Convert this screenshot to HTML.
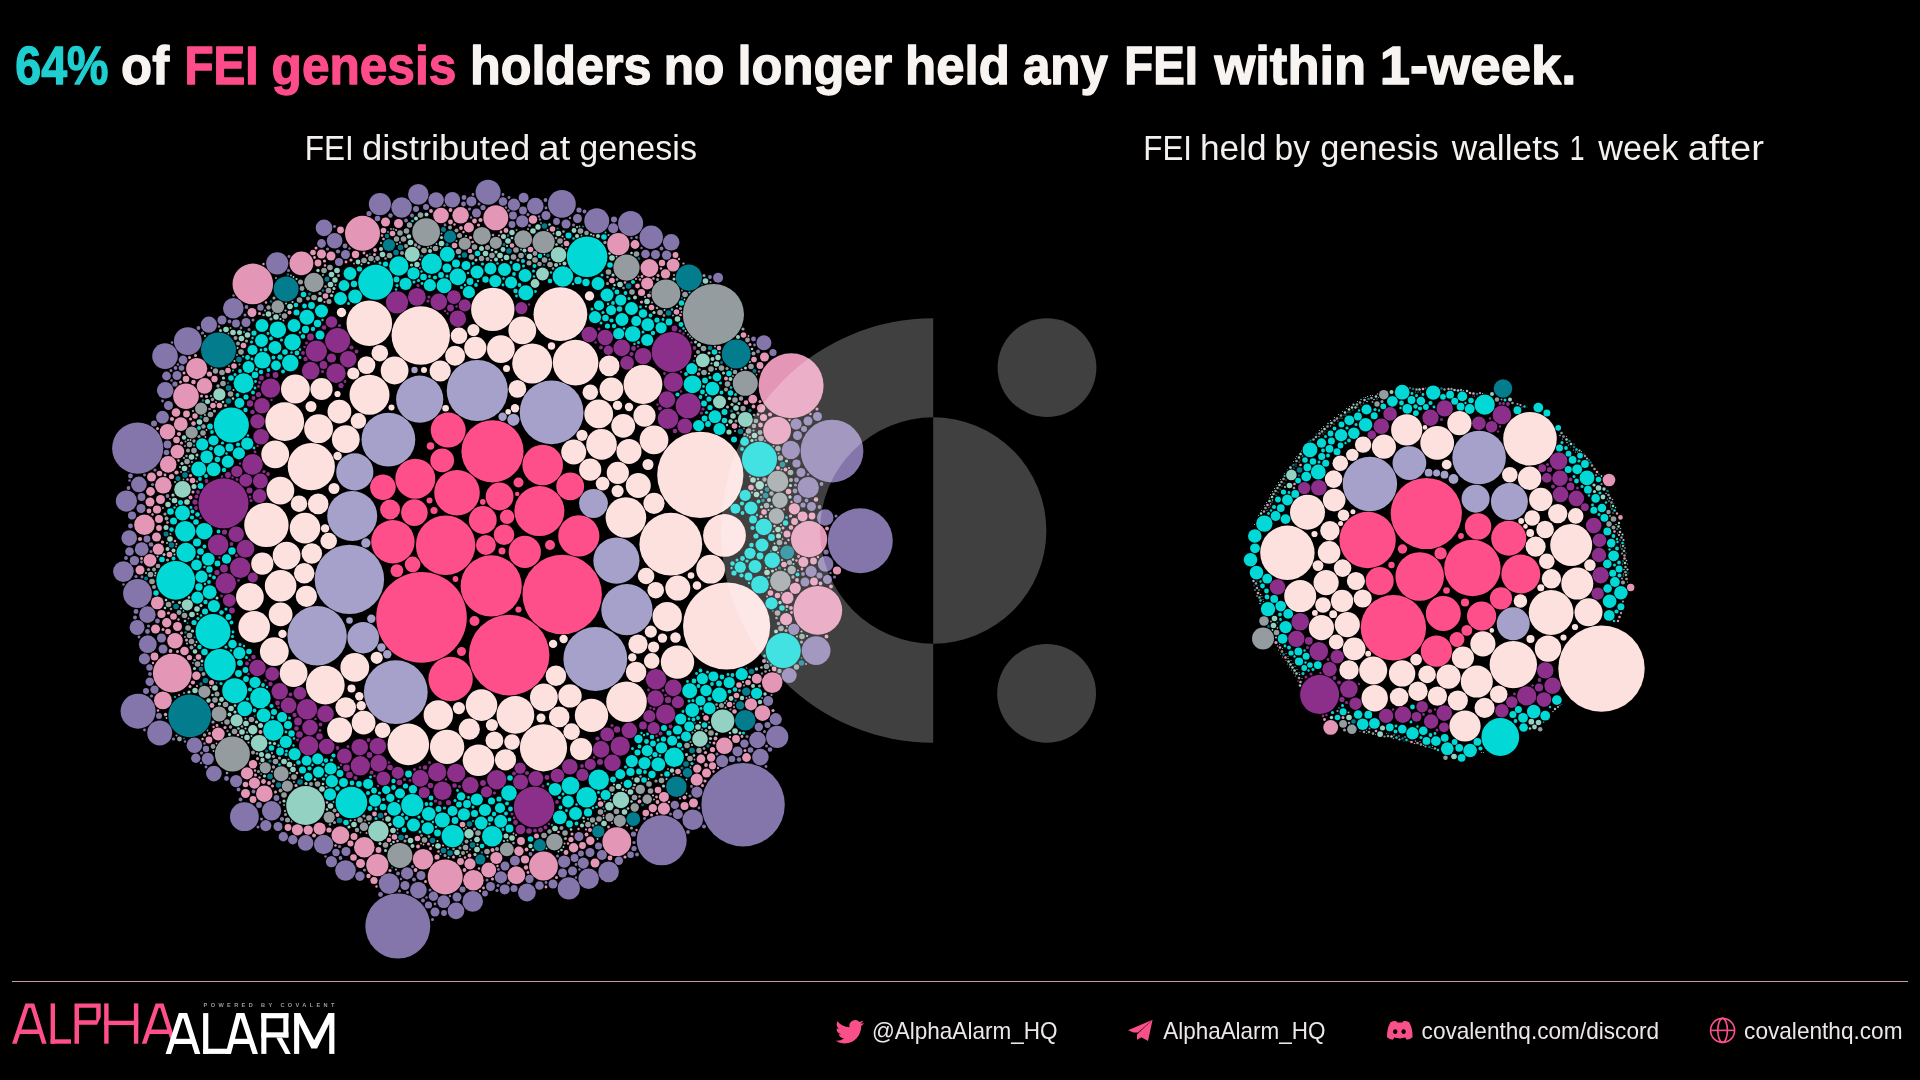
<!DOCTYPE html>
<html><head><meta charset="utf-8"><title>FEI genesis holders</title>
<style>
html,body{margin:0;padding:0;background:#000;width:1920px;height:1080px;overflow:hidden}
svg{display:block;filter:blur(0.45px)}
text{font-family:"Liberation Sans",sans-serif}
</style></head><body>
<svg width="1920" height="1080" viewBox="0 0 1920 1080">
<rect width="1920" height="1080" fill="#000"/>
<g id="title" font-weight="bold" font-size="53" stroke-width="1.3" stroke-linejoin="round">
<text x="15.3" y="83.5" fill="#1FCFD0" stroke="#1FCFD0" textLength="93.1" lengthAdjust="spacingAndGlyphs">64%</text>
<text x="121.1" y="83.5" fill="#F8F4F1" stroke="#F8F4F1" textLength="48.0" lengthAdjust="spacingAndGlyphs">of</text>
<text x="184.5" y="83.5" fill="#FE4C8A" stroke="#FE4C8A" textLength="74.1" lengthAdjust="spacingAndGlyphs">FEI</text>
<text x="271.6" y="83.5" fill="#FE4C8A" stroke="#FE4C8A" textLength="184.7" lengthAdjust="spacingAndGlyphs">genesis</text>
<text x="470.0" y="83.5" fill="#F8F4F1" stroke="#F8F4F1" textLength="181.5" lengthAdjust="spacingAndGlyphs">holders</text>
<text x="663.7" y="83.5" fill="#F8F4F1" stroke="#F8F4F1" textLength="60.7" lengthAdjust="spacingAndGlyphs">no</text>
<text x="737.5" y="83.5" fill="#F8F4F1" stroke="#F8F4F1" textLength="154.7" lengthAdjust="spacingAndGlyphs">longer</text>
<text x="905.1" y="83.5" fill="#F8F4F1" stroke="#F8F4F1" textLength="104.7" lengthAdjust="spacingAndGlyphs">held</text>
<text x="1022.9" y="83.5" fill="#F8F4F1" stroke="#F8F4F1" textLength="84.9" lengthAdjust="spacingAndGlyphs">any</text>
<text x="1124.2" y="83.5" fill="#F8F4F1" stroke="#F8F4F1" textLength="73.7" lengthAdjust="spacingAndGlyphs">FEI</text>
<text x="1214.4" y="83.5" fill="#F8F4F1" stroke="#F8F4F1" textLength="151.8" lengthAdjust="spacingAndGlyphs">within</text>
<text x="1379.7" y="83.5" fill="#F8F4F1" stroke="#F8F4F1" textLength="196.8" lengthAdjust="spacingAndGlyphs">1-week.</text>
</g>
<g id="subs" font-size="35" fill="#F4F0EE">
<text x="304.8" y="160" textLength="49.1" lengthAdjust="spacingAndGlyphs">FEI</text>
<text x="362.0" y="160" textLength="168.4" lengthAdjust="spacingAndGlyphs">distributed</text>
<text x="538.6" y="160" textLength="31.6" lengthAdjust="spacingAndGlyphs">at</text>
<text x="579.3" y="160" textLength="117.7" lengthAdjust="spacingAndGlyphs">genesis</text>
<text x="1143.3" y="160" textLength="48.7" lengthAdjust="spacingAndGlyphs">FEI</text>
<text x="1200.0" y="160" textLength="66.5" lengthAdjust="spacingAndGlyphs">held</text>
<text x="1274.5" y="160" textLength="35.5" lengthAdjust="spacingAndGlyphs">by</text>
<text x="1320.3" y="160" textLength="118.4" lengthAdjust="spacingAndGlyphs">genesis</text>
<text x="1451.7" y="160" textLength="107.9" lengthAdjust="spacingAndGlyphs">wallets</text>
<text x="1569.7" y="160" textLength="14.8" lengthAdjust="spacingAndGlyphs">1</text>
<text x="1598.3" y="160" textLength="80.0" lengthAdjust="spacingAndGlyphs">week</text>
<text x="1687.7" y="160" textLength="76.2" lengthAdjust="spacingAndGlyphs">after</text>
</g>
<g id="circles"><circle cx="421.5" cy="617.4" r="45.3" fill="#FF4F8A"/><circle cx="726.6" cy="626.0" r="43.6" fill="#FDE1DF"/><circle cx="1601.5" cy="668.6" r="43.2" fill="#FDE1DF"/><circle cx="700.3" cy="474.9" r="43.1" fill="#FDE1DF"/><circle cx="743.1" cy="804.7" r="41.7" fill="#8476AB"/><circle cx="509.1" cy="655.1" r="40.3" fill="#FF4F8A"/><circle cx="562.2" cy="594.5" r="39.7" fill="#FF4F8A"/><circle cx="1426.3" cy="513.5" r="35.6" fill="#FF4F8A"/><circle cx="349.4" cy="579.4" r="34.7" fill="#A5A1CA"/><circle cx="1393.4" cy="627.7" r="32.7" fill="#FF4F8A"/><circle cx="791.1" cy="385.7" r="32.5" fill="#E496B6"/><circle cx="397.8" cy="926.1" r="32.5" fill="#8476AB"/><circle cx="860.3" cy="540.8" r="32.5" fill="#8476AB"/><circle cx="551.6" cy="412.4" r="31.9" fill="#A5A1CA"/><circle cx="595.3" cy="659.0" r="31.9" fill="#A5A1CA"/><circle cx="395.8" cy="692.2" r="31.9" fill="#A5A1CA"/><circle cx="670.8" cy="544.2" r="31.4" fill="#FDE1DF"/><circle cx="832.0" cy="451.1" r="31.4" fill="#8476AB"/><circle cx="492.5" cy="451.3" r="31.1" fill="#FF4F8A"/><circle cx="713.4" cy="314.5" r="30.6" fill="#949C9F"/><circle cx="491.2" cy="585.9" r="30.6" fill="#FF4F8A"/><circle cx="477.3" cy="390.5" r="30.6" fill="#A5A1CA"/><circle cx="445.6" cy="545.2" r="29.7" fill="#FF4F8A"/><circle cx="317.1" cy="635.8" r="29.7" fill="#A5A1CA"/><circle cx="420.8" cy="335.5" r="29.2" fill="#FDE1DF"/><circle cx="1367.6" cy="540.0" r="28.2" fill="#FF4F8A"/><circle cx="1472.4" cy="568.0" r="28.2" fill="#FF4F8A"/><circle cx="1369.9" cy="484.0" r="27.2" fill="#A5A1CA"/><circle cx="1287.4" cy="552.8" r="27.2" fill="#FDE1DF"/><circle cx="560.4" cy="314.2" r="26.9" fill="#FDE1DF"/><circle cx="388.4" cy="439.6" r="26.9" fill="#A5A1CA"/><circle cx="1530.0" cy="438.8" r="26.8" fill="#FDE1DF"/><circle cx="1479.1" cy="457.5" r="26.8" fill="#A5A1CA"/><circle cx="137.7" cy="448.2" r="25.6" fill="#8476AB"/><circle cx="626.9" cy="609.7" r="25.6" fill="#A5A1CA"/><circle cx="539.4" cy="511.1" r="25.0" fill="#FF4F8A"/><circle cx="223.5" cy="503.3" r="25.0" fill="#8C2F8B"/><circle cx="661.7" cy="840.3" r="25.0" fill="#8476AB"/><circle cx="352.2" cy="516.0" r="25.0" fill="#A5A1CA"/><circle cx="817.8" cy="610.3" r="24.4" fill="#E496B6"/><circle cx="1419.7" cy="576.5" r="24.3" fill="#FF4F8A"/><circle cx="1513.3" cy="664.6" r="23.7" fill="#FDE1DF"/><circle cx="543.5" cy="747.8" r="23.6" fill="#FDE1DF"/><circle cx="419.7" cy="399.2" r="23.6" fill="#A5A1CA"/><circle cx="311.3" cy="466.6" r="23.6" fill="#FDE1DF"/><circle cx="616.4" cy="560.6" r="23.1" fill="#A5A1CA"/><circle cx="457.0" cy="492.7" r="22.8" fill="#FF4F8A"/><circle cx="575.6" cy="362.6" r="22.8" fill="#FDE1DF"/><circle cx="369.3" cy="323.3" r="22.8" fill="#FDE1DF"/><circle cx="1551.1" cy="612.5" r="22.4" fill="#FDE1DF"/><circle cx="266.4" cy="524.9" r="22.2" fill="#FDE1DF"/><circle cx="450.6" cy="678.9" r="22.2" fill="#FF4F8A"/><circle cx="492.8" cy="309.4" r="21.7" fill="#FDE1DF"/><circle cx="392.9" cy="541.7" r="21.7" fill="#FF4F8A"/><circle cx="724.5" cy="535.4" r="21.4" fill="#FDE1DF"/><circle cx="189.7" cy="715.8" r="21.4" fill="#037C8E"/><circle cx="1571.2" cy="545.0" r="21.0" fill="#FDE1DF"/><circle cx="408.3" cy="744.4" r="20.8" fill="#FDE1DF"/><circle cx="578.8" cy="535.9" r="20.6" fill="#FF4F8A"/><circle cx="534.1" cy="806.9" r="20.3" fill="#8C2F8B"/><circle cx="252.8" cy="283.9" r="20.3" fill="#E496B6"/><circle cx="542.7" cy="465.0" r="20.3" fill="#FF4F8A"/><circle cx="587.1" cy="256.8" r="20.3" fill="#02D9D7"/><circle cx="626.5" cy="701.7" r="20.3" fill="#FDE1DF"/><circle cx="625.9" cy="517.5" r="20.3" fill="#FDE1DF"/><circle cx="532.2" cy="363.4" r="20.0" fill="#FDE1DF"/><circle cx="415.3" cy="478.7" r="20.0" fill="#FF4F8A"/><circle cx="671.7" cy="351.9" r="20.0" fill="#8C2F8B"/><circle cx="369.5" cy="394.7" r="20.0" fill="#FDE1DF"/><circle cx="1319.6" cy="694.6" r="19.5" fill="#8C2F8B"/><circle cx="1520.8" cy="574.1" r="19.5" fill="#FF4F8A"/><circle cx="305.6" cy="805.5" r="19.4" fill="#93D1C2"/><circle cx="175.7" cy="580.3" r="19.4" fill="#02D9D7"/><circle cx="284.7" cy="421.7" r="19.4" fill="#FDE1DF"/><circle cx="172.3" cy="673.1" r="19.4" fill="#E496B6"/><circle cx="643.0" cy="384.5" r="19.4" fill="#FDE1DF"/><circle cx="325.3" cy="685.1" r="19.4" fill="#FDE1DF"/><circle cx="515.4" cy="714.9" r="18.9" fill="#FDE1DF"/><circle cx="1500.3" cy="737.0" r="18.9" fill="#02D9D7"/><circle cx="354.8" cy="471.9" r="18.6" fill="#A5A1CA"/><circle cx="1509.4" cy="501.6" r="18.5" fill="#A5A1CA"/><circle cx="809.1" cy="539.1" r="18.1" fill="#E496B6"/><circle cx="218.5" cy="350.0" r="17.5" fill="#037C8E"/><circle cx="445.2" cy="876.9" r="17.5" fill="#E496B6"/><circle cx="213.0" cy="631.6" r="17.5" fill="#02D9D7"/><circle cx="232.4" cy="754.0" r="17.5" fill="#949C9F"/><circle cx="783.3" cy="650.6" r="17.5" fill="#02D9D7"/><circle cx="1307.5" cy="512.2" r="17.5" fill="#FDE1DF"/><circle cx="231.4" cy="425.0" r="17.5" fill="#02D9D7"/><circle cx="1508.7" cy="538.2" r="17.5" fill="#FF4F8A"/><circle cx="448.2" cy="430.1" r="17.5" fill="#FF4F8A"/><circle cx="759.5" cy="459.3" r="17.5" fill="#02D9D7"/><circle cx="138.1" cy="711.2" r="17.5" fill="#8476AB"/><circle cx="362.5" cy="233.3" r="17.5" fill="#E496B6"/><circle cx="375.7" cy="282.3" r="17.5" fill="#02D9D7"/><circle cx="1443.3" cy="613.5" r="17.5" fill="#FF4F8A"/><circle cx="447.1" cy="746.9" r="17.2" fill="#FDE1DF"/><circle cx="1409.4" cy="463.1" r="16.9" fill="#A5A1CA"/><circle cx="1437.2" cy="442.9" r="16.9" fill="#FDE1DF"/><circle cx="677.5" cy="662.1" r="16.7" fill="#FDE1DF"/><circle cx="591.5" cy="715.4" r="16.7" fill="#FDE1DF"/><circle cx="1513.2" cy="623.8" r="16.5" fill="#A5A1CA"/><circle cx="524.8" cy="551.9" r="16.1" fill="#FF4F8A"/><circle cx="1476.8" cy="681.6" r="16.0" fill="#FDE1DF"/><circle cx="1300.2" cy="596.1" r="16.0" fill="#FDE1DF"/><circle cx="1577.3" cy="583.6" r="16.0" fill="#FDE1DF"/><circle cx="280.6" cy="585.8" r="15.8" fill="#FDE1DF"/><circle cx="254.2" cy="626.9" r="15.8" fill="#FDE1DF"/><circle cx="478.5" cy="760.3" r="15.8" fill="#FDE1DF"/><circle cx="220.0" cy="664.8" r="15.8" fill="#02D9D7"/><circle cx="351.4" cy="802.5" r="15.8" fill="#02D9D7"/><circle cx="363.2" cy="637.7" r="15.8" fill="#A5A1CA"/><circle cx="481.5" cy="705.1" r="15.8" fill="#FDE1DF"/><circle cx="1406.7" cy="429.9" r="15.6" fill="#FDE1DF"/><circle cx="1465.0" cy="726.0" r="15.6" fill="#FDE1DF"/><circle cx="1436.4" cy="651.1" r="15.6" fill="#FF4F8A"/><circle cx="305.0" cy="528.1" r="15.3" fill="#FDE1DF"/><circle cx="601.5" cy="444.4" r="15.3" fill="#FDE1DF"/><circle cx="667.2" cy="616.7" r="14.7" fill="#FDE1DF"/><circle cx="438.3" cy="715.0" r="14.7" fill="#FDE1DF"/><circle cx="1481.6" cy="616.0" r="14.6" fill="#FF4F8A"/><circle cx="244.4" cy="816.7" r="14.4" fill="#8476AB"/><circle cx="736.2" cy="354.0" r="14.4" fill="#037C8E"/><circle cx="710.6" cy="569.2" r="14.4" fill="#FDE1DF"/><circle cx="543.5" cy="866.0" r="14.4" fill="#E496B6"/><circle cx="295.4" cy="389.0" r="14.4" fill="#FDE1DF"/><circle cx="816.1" cy="650.6" r="14.4" fill="#8476AB"/><circle cx="274.3" cy="651.6" r="14.4" fill="#FDE1DF"/><circle cx="665.9" cy="293.8" r="14.4" fill="#949C9F"/><circle cx="598.7" cy="413.9" r="14.4" fill="#FDE1DF"/><circle cx="593.5" cy="503.5" r="14.4" fill="#A5A1CA"/><circle cx="354.8" cy="667.4" r="14.4" fill="#FDE1DF"/><circle cx="318.6" cy="428.7" r="14.4" fill="#FDE1DF"/><circle cx="137.5" cy="593.5" r="14.4" fill="#8476AB"/><circle cx="616.8" cy="841.7" r="14.4" fill="#E496B6"/><circle cx="654.0" cy="439.9" r="14.4" fill="#FDE1DF"/><circle cx="1373.2" cy="670.5" r="14.0" fill="#FDE1DF"/><circle cx="1588.5" cy="612.3" r="14.0" fill="#FDE1DF"/><circle cx="1475.6" cy="498.7" r="14.0" fill="#A5A1CA"/><circle cx="1379.7" cy="581.0" r="14.0" fill="#FF4F8A"/><circle cx="522.3" cy="330.4" r="13.9" fill="#FDE1DF"/><circle cx="249.9" cy="596.8" r="13.9" fill="#FDE1DF"/><circle cx="500.9" cy="349.1" r="13.9" fill="#FDE1DF"/><circle cx="482.8" cy="520.0" r="13.9" fill="#FF4F8A"/><circle cx="286.6" cy="555.7" r="13.9" fill="#FDE1DF"/><circle cx="499.6" cy="496.5" r="13.9" fill="#FF4F8A"/><circle cx="187.8" cy="341.1" r="13.9" fill="#8476AB"/><circle cx="280.4" cy="490.6" r="13.9" fill="#FDE1DF"/><circle cx="570.2" cy="486.4" r="13.9" fill="#FF4F8A"/><circle cx="426.1" cy="232.1" r="13.9" fill="#949C9F"/><circle cx="293.6" cy="673.2" r="13.9" fill="#FDE1DF"/><circle cx="394.6" cy="370.5" r="13.9" fill="#FDE1DF"/><circle cx="777.1" cy="430.6" r="13.9" fill="#E496B6"/><circle cx="275.2" cy="454.3" r="13.9" fill="#FDE1DF"/><circle cx="561.9" cy="203.9" r="13.9" fill="#8476AB"/><circle cx="345.8" cy="439.2" r="13.9" fill="#FDE1DF"/><circle cx="543.9" cy="697.4" r="13.9" fill="#FDE1DF"/><circle cx="414.4" cy="512.6" r="13.3" fill="#FF4F8A"/><circle cx="1548.0" cy="648.6" r="13.2" fill="#FDE1DF"/><circle cx="1374.7" cy="698.2" r="13.2" fill="#FDE1DF"/><circle cx="1402.1" cy="673.4" r="13.2" fill="#FDE1DF"/><circle cx="1478.1" cy="526.4" r="13.2" fill="#FF4F8A"/><circle cx="688.9" cy="277.6" r="13.1" fill="#037C8E"/><circle cx="626.5" cy="267.6" r="13.1" fill="#949C9F"/><circle cx="186.0" cy="396.3" r="12.8" fill="#E496B6"/><circle cx="165.0" cy="356.1" r="12.8" fill="#8476AB"/><circle cx="382.9" cy="487.2" r="12.8" fill="#FF4F8A"/><circle cx="1321.4" cy="627.7" r="12.6" fill="#FDE1DF"/><circle cx="1347.3" cy="624.6" r="12.6" fill="#FDE1DF"/><circle cx="1482.9" cy="643.8" r="12.6" fill="#FDE1DF"/><circle cx="1326.1" cy="582.6" r="12.6" fill="#FDE1DF"/><circle cx="286.1" cy="288.9" r="12.5" fill="#037C8E"/><circle cx="745.3" cy="383.3" r="12.5" fill="#949C9F"/><circle cx="677.8" cy="588.1" r="12.5" fill="#FDE1DF"/><circle cx="688.2" cy="405.8" r="12.5" fill="#8C2F8B"/><circle cx="337.6" cy="340.5" r="12.5" fill="#8C2F8B"/><circle cx="159.7" cy="732.9" r="12.5" fill="#8476AB"/><circle cx="339.6" cy="730.1" r="12.5" fill="#FDE1DF"/><circle cx="573.7" cy="452.0" r="12.5" fill="#FDE1DF"/><circle cx="596.7" cy="220.8" r="12.5" fill="#8476AB"/><circle cx="399.9" cy="855.5" r="12.5" fill="#949C9F"/><circle cx="495.8" cy="217.8" r="12.5" fill="#E496B6"/><circle cx="638.3" cy="485.5" r="12.5" fill="#FDE1DF"/><circle cx="630.6" cy="223.4" r="12.5" fill="#8476AB"/><circle cx="234.7" cy="690.7" r="12.5" fill="#02D9D7"/><circle cx="629.0" cy="451.4" r="12.5" fill="#FDE1DF"/><circle cx="488.1" cy="192.2" r="12.5" fill="#8476AB"/><circle cx="1383.9" cy="446.7" r="12.1" fill="#FDE1DF"/><circle cx="1459.4" cy="423.2" r="12.1" fill="#FDE1DF"/><circle cx="1448.5" cy="676.7" r="12.1" fill="#FDE1DF"/><circle cx="280.6" cy="614.4" r="11.9" fill="#FDE1DF"/><circle cx="301.4" cy="263.3" r="11.9" fill="#E496B6"/><circle cx="442.2" cy="460.3" r="11.9" fill="#FF4F8A"/><circle cx="339.4" cy="411.7" r="11.9" fill="#FDE1DF"/><circle cx="611.4" cy="389.3" r="11.9" fill="#FDE1DF"/><circle cx="363.6" cy="722.7" r="11.9" fill="#FDE1DF"/><circle cx="623.2" cy="425.8" r="11.9" fill="#FDE1DF"/><circle cx="1529.6" cy="478.3" r="11.7" fill="#FDE1DF"/><circle cx="1540.8" cy="499.4" r="11.7" fill="#FDE1DF"/><circle cx="651.2" cy="237.3" r="11.7" fill="#8476AB"/><circle cx="722.7" cy="721.1" r="11.7" fill="#93D1C2"/><circle cx="570.0" cy="695.9" r="11.7" fill="#FDE1DF"/><circle cx="1354.2" cy="648.9" r="11.3" fill="#FDE1DF"/><circle cx="1334.2" cy="500.1" r="11.3" fill="#FDE1DF"/><circle cx="1329.1" cy="552.4" r="11.3" fill="#FDE1DF"/><circle cx="262.3" cy="563.7" r="11.1" fill="#FDE1DF"/><circle cx="475.3" cy="347.8" r="11.1" fill="#FDE1DF"/><circle cx="452.7" cy="836.1" r="11.1" fill="#02D9D7"/><circle cx="277.2" cy="263.3" r="11.1" fill="#8476AB"/><circle cx="568.8" cy="888.4" r="11.1" fill="#8476AB"/><circle cx="321.5" cy="389.0" r="11.1" fill="#FDE1DF"/><circle cx="543.6" cy="242.1" r="11.1" fill="#949C9F"/><circle cx="581.1" cy="749.2" r="11.1" fill="#FDE1DF"/><circle cx="777.2" cy="736.9" r="11.1" fill="#8476AB"/><circle cx="412.3" cy="805.1" r="11.1" fill="#02D9D7"/><circle cx="590.2" cy="469.7" r="11.1" fill="#FDE1DF"/><circle cx="397.0" cy="302.3" r="11.1" fill="#8C2F8B"/><circle cx="644.5" cy="415.6" r="11.1" fill="#FDE1DF"/><circle cx="1342.1" cy="600.9" r="11.1" fill="#FDE1DF"/><circle cx="1501.0" cy="598.3" r="11.1" fill="#FF4F8A"/><circle cx="618.3" cy="244.2" r="11.1" fill="#E496B6"/><circle cx="379.9" cy="204.1" r="11.1" fill="#8476AB"/><circle cx="377.3" cy="865.1" r="11.1" fill="#E496B6"/><circle cx="1462.9" cy="657.6" r="11.1" fill="#FDE1DF"/><circle cx="617.8" cy="472.8" r="11.1" fill="#FDE1DF"/><circle cx="1263.0" cy="638.5" r="11.0" fill="#949C9F"/><circle cx="196.7" cy="368.6" r="10.6" fill="#E496B6"/><circle cx="306.4" cy="596.3" r="10.6" fill="#FDE1DF"/><circle cx="505.5" cy="759.8" r="10.6" fill="#FDE1DF"/><circle cx="440.2" cy="371.0" r="10.6" fill="#FDE1DF"/><circle cx="316.4" cy="351.2" r="10.6" fill="#8C2F8B"/><circle cx="808.3" cy="487.5" r="10.6" fill="#8476AB"/><circle cx="777.8" cy="481.4" r="10.6" fill="#949C9F"/><circle cx="469.3" cy="729.2" r="10.6" fill="#FDE1DF"/><circle cx="654.0" cy="503.3" r="10.6" fill="#FDE1DF"/><circle cx="126.4" cy="501.1" r="10.6" fill="#8476AB"/><circle cx="240.2" cy="567.8" r="10.3" fill="#8C2F8B"/><circle cx="504.0" cy="534.7" r="10.3" fill="#FF4F8A"/><circle cx="492.2" cy="836.3" r="10.3" fill="#02D9D7"/><circle cx="233.3" cy="308.3" r="10.3" fill="#8476AB"/><circle cx="225.8" cy="583.3" r="10.3" fill="#8C2F8B"/><circle cx="780.4" cy="581.0" r="10.3" fill="#949C9F"/><circle cx="218.1" cy="544.9" r="10.3" fill="#8C2F8B"/><circle cx="304.2" cy="573.3" r="10.3" fill="#FDE1DF"/><circle cx="692.7" cy="819.7" r="10.3" fill="#8476AB"/><circle cx="473.4" cy="880.2" r="10.3" fill="#E496B6"/><circle cx="311.8" cy="553.5" r="10.3" fill="#FDE1DF"/><circle cx="562.9" cy="276.5" r="10.3" fill="#02D9D7"/><circle cx="185.2" cy="531.2" r="10.3" fill="#02D9D7"/><circle cx="431.6" cy="263.8" r="10.3" fill="#02D9D7"/><circle cx="318.2" cy="503.9" r="10.3" fill="#FDE1DF"/><circle cx="676.4" cy="786.7" r="10.3" fill="#037C8E"/><circle cx="423.0" cy="859.2" r="10.3" fill="#E496B6"/><circle cx="472.7" cy="901.4" r="10.3" fill="#8476AB"/><circle cx="586.6" cy="797.2" r="10.3" fill="#02D9D7"/><circle cx="588.6" cy="878.7" r="10.3" fill="#8476AB"/><circle cx="273.3" cy="730.4" r="10.3" fill="#02D9D7"/><circle cx="345.5" cy="870.5" r="10.3" fill="#8476AB"/><circle cx="598.7" cy="779.7" r="10.3" fill="#02D9D7"/><circle cx="668.0" cy="418.8" r="10.3" fill="#8C2F8B"/><circle cx="745.2" cy="720.3" r="10.3" fill="#037C8E"/><circle cx="559.2" cy="716.9" r="10.3" fill="#FDE1DF"/><circle cx="144.4" cy="524.7" r="10.3" fill="#E496B6"/><circle cx="252.5" cy="464.4" r="10.3" fill="#8C2F8B"/><circle cx="608.6" cy="871.9" r="10.3" fill="#8476AB"/><circle cx="609.2" cy="365.9" r="10.3" fill="#FDE1DF"/><circle cx="307.0" cy="709.2" r="10.3" fill="#8C2F8B"/><circle cx="389.1" cy="883.6" r="10.3" fill="#8476AB"/><circle cx="636.1" cy="672.0" r="10.3" fill="#FDE1DF"/><circle cx="772.2" cy="682.6" r="10.3" fill="#E496B6"/><circle cx="345.7" cy="707.5" r="10.3" fill="#FDE1DF"/><circle cx="401.6" cy="207.5" r="10.3" fill="#8476AB"/><circle cx="364.3" cy="847.3" r="10.3" fill="#E496B6"/><circle cx="656.0" cy="679.3" r="10.3" fill="#8C2F8B"/><circle cx="378.4" cy="831.1" r="10.3" fill="#93D1C2"/><circle cx="260.4" cy="697.9" r="10.3" fill="#02D9D7"/><circle cx="418.3" cy="194.4" r="10.3" fill="#8476AB"/><circle cx="123.4" cy="571.6" r="10.3" fill="#8476AB"/><circle cx="555.9" cy="675.8" r="10.3" fill="#FDE1DF"/><circle cx="1484.6" cy="707.8" r="10.1" fill="#FDE1DF"/><circle cx="1484.7" cy="404.7" r="10.1" fill="#02D9D7"/><circle cx="1535.6" cy="546.6" r="10.1" fill="#FDE1DF"/><circle cx="1457.8" cy="700.5" r="10.1" fill="#FDE1DF"/><circle cx="485.9" cy="545.0" r="10.0" fill="#FF4F8A"/><circle cx="455.1" cy="355.7" r="10.0" fill="#FDE1DF"/><circle cx="243.6" cy="383.3" r="10.0" fill="#02D9D7"/><circle cx="390.1" cy="509.5" r="10.0" fill="#FF4F8A"/><circle cx="271.6" cy="810.8" r="9.7" fill="#8476AB"/><circle cx="496.7" cy="779.7" r="9.7" fill="#8C2F8B"/><circle cx="1349.0" cy="669.9" r="9.7" fill="#FDE1DF"/><circle cx="186.1" cy="552.5" r="9.7" fill="#02D9D7"/><circle cx="313.9" cy="282.5" r="9.7" fill="#949C9F"/><circle cx="270.6" cy="388.1" r="9.7" fill="#8C2F8B"/><circle cx="323.6" cy="844.5" r="9.7" fill="#8476AB"/><circle cx="308.6" cy="745.7" r="9.7" fill="#8C2F8B"/><circle cx="1526.7" cy="695.9" r="9.7" fill="#8C2F8B"/><circle cx="674.2" cy="757.3" r="9.7" fill="#02D9D7"/><circle cx="673.3" cy="382.1" r="9.7" fill="#8C2F8B"/><circle cx="1557.7" cy="513.6" r="9.7" fill="#FDE1DF"/><circle cx="336.0" cy="373.2" r="9.7" fill="#8C2F8B"/><circle cx="1329.9" cy="530.7" r="9.7" fill="#FDE1DF"/><circle cx="398.8" cy="266.0" r="9.7" fill="#02D9D7"/><circle cx="1418.0" cy="691.2" r="9.7" fill="#FDE1DF"/><circle cx="360.3" cy="765.8" r="9.7" fill="#8C2F8B"/><circle cx="638.0" cy="644.1" r="9.7" fill="#FDE1DF"/><circle cx="665.6" cy="714.2" r="9.7" fill="#8C2F8B"/><circle cx="620.2" cy="746.1" r="9.7" fill="#8C2F8B"/><circle cx="1437.4" cy="696.1" r="9.7" fill="#FDE1DF"/><circle cx="1551.4" cy="578.8" r="9.7" fill="#FDE1DF"/><circle cx="1503.0" cy="388.5" r="9.3" fill="#037C8E"/><circle cx="1318.8" cy="651.4" r="9.3" fill="#8C2F8B"/><circle cx="1399.1" cy="697.0" r="9.3" fill="#FDE1DF"/><circle cx="1501.9" cy="414.9" r="9.3" fill="#8C2F8B"/><circle cx="456.2" cy="772.9" r="9.2" fill="#8C2F8B"/><circle cx="442.5" cy="790.8" r="9.2" fill="#8C2F8B"/><circle cx="437.2" cy="772.0" r="9.2" fill="#8C2F8B"/><circle cx="790.8" cy="449.9" r="9.2" fill="#8476AB"/><circle cx="1362.7" cy="598.5" r="9.1" fill="#FDE1DF"/><circle cx="1355.9" cy="581.0" r="9.1" fill="#FDE1DF"/><circle cx="759.9" cy="584.6" r="8.9" fill="#02D9D7"/><circle cx="245.5" cy="548.7" r="8.9" fill="#8C2F8B"/><circle cx="516.3" cy="875.2" r="8.9" fill="#E496B6"/><circle cx="310.7" cy="370.7" r="8.9" fill="#8C2F8B"/><circle cx="692.5" cy="384.3" r="8.9" fill="#02D9D7"/><circle cx="517.4" cy="388.9" r="8.9" fill="#FDE1DF"/><circle cx="526.9" cy="892.5" r="8.9" fill="#8476AB"/><circle cx="570.5" cy="785.6" r="8.9" fill="#02D9D7"/><circle cx="494.4" cy="740.4" r="8.9" fill="#FDE1DF"/><circle cx="523.2" cy="239.2" r="8.9" fill="#949C9F"/><circle cx="416.9" cy="296.9" r="8.9" fill="#8C2F8B"/><circle cx="481.9" cy="235.8" r="8.9" fill="#949C9F"/><circle cx="340.4" cy="835.2" r="8.9" fill="#E496B6"/><circle cx="649.4" cy="268.0" r="8.9" fill="#E496B6"/><circle cx="147.8" cy="644.2" r="8.9" fill="#8476AB"/><circle cx="366.5" cy="365.1" r="8.9" fill="#FDE1DF"/><circle cx="162.9" cy="700.4" r="8.9" fill="#E496B6"/><circle cx="1333.6" cy="479.1" r="8.8" fill="#FDE1DF"/><circle cx="1558.6" cy="461.0" r="8.8" fill="#8C2F8B"/><circle cx="1348.9" cy="689.0" r="8.8" fill="#8C2F8B"/><circle cx="1300.2" cy="621.7" r="8.8" fill="#8C2F8B"/><circle cx="1498.7" cy="694.3" r="8.8" fill="#FDE1DF"/><circle cx="1545.1" cy="529.5" r="8.8" fill="#FDE1DF"/><circle cx="1427.1" cy="674.4" r="8.8" fill="#FDE1DF"/><circle cx="1342.6" cy="568.1" r="8.8" fill="#FDE1DF"/><circle cx="264.3" cy="793.7" r="8.3" fill="#E496B6"/><circle cx="277.8" cy="329.7" r="8.3" fill="#02D9D7"/><circle cx="470.3" cy="785.3" r="8.3" fill="#8C2F8B"/><circle cx="262.5" cy="360.3" r="8.3" fill="#02D9D7"/><circle cx="459.0" cy="335.8" r="8.3" fill="#FDE1DF"/><circle cx="457.8" cy="318.7" r="8.3" fill="#8C2F8B"/><circle cx="292.5" cy="342.2" r="8.3" fill="#02D9D7"/><circle cx="290.3" cy="363.1" r="8.3" fill="#02D9D7"/><circle cx="457.8" cy="276.9" r="8.3" fill="#02D9D7"/><circle cx="763.8" cy="527.0" r="8.3" fill="#02D9D7"/><circle cx="204.3" cy="531.2" r="8.3" fill="#02D9D7"/><circle cx="554.4" cy="842.1" r="8.3" fill="#949C9F"/><circle cx="438.8" cy="301.9" r="8.3" fill="#8C2F8B"/><circle cx="760.4" cy="757.1" r="8.3" fill="#8476AB"/><circle cx="299.0" cy="503.7" r="8.3" fill="#FDE1DF"/><circle cx="724.4" cy="745.8" r="8.3" fill="#E496B6"/><circle cx="825.2" cy="517.5" r="8.3" fill="#8476AB"/><circle cx="259.1" cy="743.2" r="8.3" fill="#93D1C2"/><circle cx="328.7" cy="541.0" r="8.3" fill="#FDE1DF"/><circle cx="420.3" cy="778.4" r="8.3" fill="#8C2F8B"/><circle cx="671.2" cy="242.3" r="8.3" fill="#8476AB"/><circle cx="757.5" cy="740.0" r="8.3" fill="#8476AB"/><circle cx="182.5" cy="489.4" r="8.3" fill="#93D1C2"/><circle cx="418.4" cy="890.2" r="8.3" fill="#8476AB"/><circle cx="666.9" cy="399.6" r="8.3" fill="#8C2F8B"/><circle cx="165.2" cy="390.3" r="8.3" fill="#8476AB"/><circle cx="163.3" cy="485.3" r="8.3" fill="#E496B6"/><circle cx="456.0" cy="910.9" r="8.3" fill="#8476AB"/><circle cx="571.6" cy="731.6" r="8.3" fill="#FDE1DF"/><circle cx="324.0" cy="227.9" r="8.3" fill="#8476AB"/><circle cx="655.7" cy="590.2" r="8.3" fill="#FDE1DF"/><circle cx="348.2" cy="359.2" r="8.3" fill="#8C2F8B"/><circle cx="257.5" cy="668.0" r="8.3" fill="#8C2F8B"/><circle cx="601.1" cy="749.4" r="8.3" fill="#8C2F8B"/><circle cx="147.4" cy="614.6" r="8.3" fill="#8476AB"/><circle cx="646.1" cy="576.0" r="8.3" fill="#FDE1DF"/><circle cx="460.6" cy="215.3" r="8.3" fill="#E496B6"/><circle cx="325.5" cy="713.9" r="8.3" fill="#8C2F8B"/><circle cx="643.1" cy="356.2" r="8.3" fill="#8C2F8B"/><circle cx="168.2" cy="464.4" r="8.3" fill="#E496B6"/><circle cx="359.7" cy="747.2" r="8.3" fill="#8C2F8B"/><circle cx="612.4" cy="762.9" r="8.3" fill="#8C2F8B"/><circle cx="535.3" cy="206.1" r="8.3" fill="#8476AB"/><circle cx="673.3" cy="687.9" r="8.3" fill="#8C2F8B"/><circle cx="379.8" cy="353.2" r="8.3" fill="#FDE1DF"/><circle cx="279.7" cy="691.3" r="8.3" fill="#8C2F8B"/><circle cx="620.9" cy="800.0" r="8.3" fill="#93D1C2"/><circle cx="378.7" cy="763.4" r="8.3" fill="#8C2F8B"/><circle cx="621.7" cy="347.9" r="8.3" fill="#8C2F8B"/><circle cx="377.8" cy="746.2" r="8.3" fill="#8C2F8B"/><circle cx="655.5" cy="698.5" r="8.3" fill="#8C2F8B"/><circle cx="1545.3" cy="670.4" r="8.2" fill="#8C2F8B"/><circle cx="1552.5" cy="685.8" r="8.2" fill="#8C2F8B"/><circle cx="1363.1" cy="444.6" r="8.2" fill="#FDE1DF"/><circle cx="1296.3" cy="638.9" r="8.2" fill="#8C2F8B"/><circle cx="1402.9" cy="714.7" r="8.2" fill="#8C2F8B"/><circle cx="1430.5" cy="417.7" r="8.2" fill="#8C2F8B"/><circle cx="1264.3" cy="523.6" r="8.2" fill="#02D9D7"/><circle cx="1444.7" cy="408.4" r="8.2" fill="#8C2F8B"/><circle cx="1600.6" cy="575.2" r="8.2" fill="#8C2F8B"/><circle cx="208.9" cy="324.7" r="8.1" fill="#8476AB"/><circle cx="772.2" cy="560.3" r="7.8" fill="#02D9D7"/><circle cx="509.0" cy="793.0" r="7.8" fill="#02D9D7"/><circle cx="236.2" cy="534.2" r="7.8" fill="#8C2F8B"/><circle cx="213.9" cy="773.6" r="7.8" fill="#8476AB"/><circle cx="1560.0" cy="478.2" r="7.8" fill="#8C2F8B"/><circle cx="776.4" cy="516.1" r="7.8" fill="#949C9F"/><circle cx="305.6" cy="842.9" r="7.8" fill="#8476AB"/><circle cx="1340.3" cy="463.2" r="7.8" fill="#FDE1DF"/><circle cx="1560.6" cy="494.4" r="7.8" fill="#8C2F8B"/><circle cx="204.5" cy="385.9" r="7.8" fill="#E496B6"/><circle cx="558.5" cy="254.7" r="7.8" fill="#93D1C2"/><circle cx="1576.3" cy="498.4" r="7.8" fill="#8C2F8B"/><circle cx="569.8" cy="766.7" r="7.8" fill="#8C2F8B"/><circle cx="1318.8" cy="487.8" r="7.8" fill="#8C2F8B"/><circle cx="779.9" cy="500.3" r="7.8" fill="#949C9F"/><circle cx="175.0" cy="640.8" r="7.8" fill="#E496B6"/><circle cx="194.4" cy="745.2" r="7.8" fill="#8476AB"/><circle cx="825.6" cy="563.9" r="7.8" fill="#8476AB"/><circle cx="326.7" cy="746.5" r="7.8" fill="#8C2F8B"/><circle cx="412.6" cy="564.4" r="7.8" fill="#FF4F8A"/><circle cx="512.0" cy="742.0" r="7.8" fill="#FDE1DF"/><circle cx="1509.8" cy="474.7" r="7.8" fill="#FDE1DF"/><circle cx="700.0" cy="738.9" r="7.8" fill="#93D1C2"/><circle cx="334.6" cy="240.8" r="7.8" fill="#8476AB"/><circle cx="262.0" cy="405.7" r="7.8" fill="#8C2F8B"/><circle cx="1575.7" cy="515.9" r="7.8" fill="#FDE1DF"/><circle cx="589.3" cy="334.5" r="7.8" fill="#8C2F8B"/><circle cx="1532.2" cy="518.0" r="7.8" fill="#FDE1DF"/><circle cx="590.3" cy="392.2" r="7.8" fill="#FDE1DF"/><circle cx="1381.3" cy="426.3" r="7.8" fill="#8C2F8B"/><circle cx="310.0" cy="727.6" r="7.8" fill="#8C2F8B"/><circle cx="1593.7" cy="525.6" r="7.8" fill="#8C2F8B"/><circle cx="651.7" cy="660.9" r="7.8" fill="#FDE1DF"/><circle cx="441.0" cy="215.5" r="7.8" fill="#E496B6"/><circle cx="605.2" cy="337.5" r="7.8" fill="#8C2F8B"/><circle cx="1323.0" cy="605.0" r="7.8" fill="#FDE1DF"/><circle cx="762.5" cy="713.1" r="7.8" fill="#E496B6"/><circle cx="138.9" cy="484.4" r="7.8" fill="#8476AB"/><circle cx="167.5" cy="431.7" r="7.8" fill="#E496B6"/><circle cx="288.6" cy="705.4" r="7.8" fill="#8C2F8B"/><circle cx="261.1" cy="436.7" r="7.8" fill="#8C2F8B"/><circle cx="382.6" cy="730.2" r="7.8" fill="#FDE1DF"/><circle cx="632.7" cy="334.0" r="7.8" fill="#02D9D7"/><circle cx="436.1" cy="200.0" r="7.8" fill="#8476AB"/><circle cx="452.3" cy="199.7" r="7.8" fill="#8476AB"/><circle cx="129.2" cy="538.1" r="7.8" fill="#8476AB"/><circle cx="629.3" cy="730.4" r="7.8" fill="#8C2F8B"/><circle cx="1277.5" cy="587.0" r="7.8" fill="#8C2F8B"/><circle cx="1546.8" cy="561.3" r="7.8" fill="#FDE1DF"/><circle cx="358.4" cy="420.9" r="7.8" fill="#FDE1DF"/><circle cx="1444.3" cy="713.1" r="7.8" fill="#8C2F8B"/><circle cx="763.9" cy="342.8" r="7.5" fill="#8476AB"/><circle cx="525.8" cy="292.8" r="7.5" fill="#02D9D7"/><circle cx="520.6" cy="781.9" r="7.5" fill="#8C2F8B"/><circle cx="535.8" cy="778.6" r="7.5" fill="#8C2F8B"/><circle cx="281.2" cy="773.8" r="7.5" fill="#949C9F"/><circle cx="488.7" cy="870.0" r="7.5" fill="#E496B6"/><circle cx="444.1" cy="285.8" r="7.5" fill="#02D9D7"/><circle cx="306.9" cy="317.2" r="7.5" fill="#02D9D7"/><circle cx="442.4" cy="819.9" r="7.5" fill="#02D9D7"/><circle cx="447.3" cy="254.3" r="7.5" fill="#02D9D7"/><circle cx="182.5" cy="513.0" r="7.5" fill="#02D9D7"/><circle cx="412.2" cy="254.3" r="7.5" fill="#93D1C2"/><circle cx="260.4" cy="481.0" r="7.5" fill="#8C2F8B"/><circle cx="344.4" cy="756.1" r="7.5" fill="#8C2F8B"/><circle cx="745.3" cy="419.4" r="7.5" fill="#93D1C2"/><circle cx="198.7" cy="469.0" r="7.5" fill="#02D9D7"/><circle cx="684.8" cy="426.1" r="7.5" fill="#8C2F8B"/><circle cx="789.2" cy="675.5" r="7.5" fill="#8476AB"/><circle cx="219.1" cy="713.9" r="7.5" fill="#949C9F"/><circle cx="244.7" cy="708.8" r="7.5" fill="#02D9D7"/><circle cx="137.1" cy="627.4" r="7.5" fill="#8476AB"/><circle cx="689.7" cy="690.8" r="7.5" fill="#02D9D7"/><circle cx="719.4" cy="695.0" r="7.5" fill="#02D9D7"/><circle cx="1330.7" cy="727.4" r="7.4" fill="#E496B6"/><circle cx="1336.2" cy="642.0" r="7.4" fill="#FDE1DF"/><circle cx="1318.3" cy="472.0" r="7.4" fill="#02D9D7"/><circle cx="1544.0" cy="699.6" r="7.4" fill="#8C2F8B"/><circle cx="1587.0" cy="477.8" r="7.4" fill="#02D9D7"/><circle cx="1310.0" cy="449.8" r="7.4" fill="#02D9D7"/><circle cx="1402.2" cy="392.2" r="7.4" fill="#02D9D7"/><circle cx="1457.0" cy="639.5" r="7.4" fill="#FF4F8A"/><circle cx="507.1" cy="516.8" r="7.2" fill="#FF4F8A"/><circle cx="1329.6" cy="669.2" r="7.2" fill="#8C2F8B"/><circle cx="1386.1" cy="715.9" r="7.2" fill="#8C2F8B"/><circle cx="257.5" cy="421.4" r="7.2" fill="#8C2F8B"/><circle cx="1268.0" cy="609.1" r="7.2" fill="#02D9D7"/><circle cx="1431.1" cy="721.5" r="7.2" fill="#8C2F8B"/><circle cx="1599.0" cy="555.0" r="7.2" fill="#8C2F8B"/><circle cx="1433.2" cy="392.6" r="7.2" fill="#02D9D7"/><circle cx="506.8" cy="849.4" r="6.9" fill="#949C9F"/><circle cx="787.2" cy="552.4" r="6.9" fill="#037C8E"/><circle cx="209.7" cy="592.2" r="6.9" fill="#02D9D7"/><circle cx="453.9" cy="297.1" r="6.9" fill="#8C2F8B"/><circle cx="702.8" cy="360.3" r="6.9" fill="#93D1C2"/><circle cx="557.4" cy="775.6" r="6.9" fill="#8C2F8B"/><circle cx="559.9" cy="817.3" r="6.9" fill="#02D9D7"/><circle cx="712.5" cy="388.6" r="6.9" fill="#02D9D7"/><circle cx="428.7" cy="813.8" r="6.9" fill="#02D9D7"/><circle cx="259.5" cy="496.0" r="6.9" fill="#8C2F8B"/><circle cx="658.3" cy="764.4" r="6.9" fill="#02D9D7"/><circle cx="213.7" cy="469.4" r="6.9" fill="#02D9D7"/><circle cx="272.2" cy="673.9" r="6.9" fill="#8C2F8B"/><circle cx="180.8" cy="424.1" r="6.9" fill="#E496B6"/><circle cx="263.6" cy="715.4" r="6.9" fill="#02D9D7"/><circle cx="394.1" cy="808.9" r="6.9" fill="#02D9D7"/><circle cx="607.2" cy="734.4" r="6.9" fill="#8C2F8B"/><circle cx="141.7" cy="549.2" r="6.9" fill="#8476AB"/><circle cx="602.6" cy="483.6" r="6.9" fill="#FDE1DF"/><circle cx="177.4" cy="451.6" r="6.9" fill="#E496B6"/><circle cx="383.4" cy="778.5" r="6.9" fill="#8C2F8B"/><circle cx="633.3" cy="819.1" r="6.9" fill="#037C8E"/><circle cx="627.1" cy="362.8" r="6.9" fill="#8C2F8B"/><circle cx="692.2" cy="710.1" r="6.9" fill="#02D9D7"/><circle cx="355.1" cy="296.5" r="6.9" fill="#02D9D7"/><circle cx="1337.2" cy="656.7" r="6.8" fill="#8C2F8B"/><circle cx="1501.9" cy="710.7" r="6.8" fill="#8C2F8B"/><circle cx="1533.7" cy="711.6" r="6.8" fill="#02D9D7"/><circle cx="1365.6" cy="424.8" r="6.8" fill="#02D9D7"/><circle cx="1390.1" cy="413.9" r="6.8" fill="#8C2F8B"/><circle cx="1520.4" cy="601.0" r="6.8" fill="#FDE1DF"/><circle cx="1609.6" cy="601.3" r="6.8" fill="#02D9D7"/><circle cx="1599.5" cy="540.2" r="6.8" fill="#8C2F8B"/><circle cx="1478.9" cy="423.3" r="6.8" fill="#8C2F8B"/><circle cx="1620.9" cy="592.7" r="6.8" fill="#02D9D7"/><circle cx="1470.1" cy="750.5" r="6.8" fill="#02D9D7"/><circle cx="1254.8" cy="536.0" r="6.8" fill="#02D9D7"/><circle cx="1250.5" cy="559.7" r="6.8" fill="#02D9D7"/><circle cx="1256.5" cy="572.6" r="6.8" fill="#02D9D7"/><circle cx="261.5" cy="340.5" r="6.5" fill="#02D9D7"/><circle cx="477.0" cy="272.0" r="6.5" fill="#02D9D7"/><circle cx="350.0" cy="273.5" r="6.5" fill="#02D9D7"/><circle cx="275.0" cy="347.5" r="6.5" fill="#02D9D7"/><circle cx="525.0" cy="275.5" r="6.5" fill="#02D9D7"/><circle cx="607.0" cy="295.0" r="6.5" fill="#02D9D7"/><circle cx="762.0" cy="545.0" r="6.5" fill="#02D9D7"/><circle cx="575.5" cy="813.5" r="6.5" fill="#02D9D7"/><circle cx="622.0" cy="319.5" r="6.5" fill="#02D9D7"/><circle cx="413.5" cy="825.0" r="6.5" fill="#02D9D7"/><circle cx="755.0" cy="566.5" r="6.5" fill="#02D9D7"/><circle cx="751.0" cy="508.0" r="6.5" fill="#02D9D7"/><circle cx="504.5" cy="269.5" r="6.5" fill="#02D9D7"/><circle cx="598.0" cy="283.5" r="6.5" fill="#02D9D7"/><circle cx="719.5" cy="402.0" r="6.5" fill="#93D1C2"/><circle cx="631.5" cy="308.5" r="6.5" fill="#02D9D7"/><circle cx="294.0" cy="325.5" r="6.5" fill="#02D9D7"/><circle cx="321.5" cy="311.0" r="6.5" fill="#02D9D7"/><circle cx="340.5" cy="298.5" r="6.5" fill="#02D9D7"/><circle cx="262.0" cy="325.5" r="6.5" fill="#02D9D7"/><circle cx="542.5" cy="274.0" r="6.4" fill="#93D1C2"/><circle cx="500.7" cy="821.2" r="6.4" fill="#02D9D7"/><circle cx="481.2" cy="823.0" r="6.4" fill="#02D9D7"/><circle cx="229.3" cy="600.3" r="6.4" fill="#8C2F8B"/><circle cx="277.8" cy="306.7" r="6.4" fill="#949C9F"/><circle cx="208.2" cy="559.1" r="6.4" fill="#02D9D7"/><circle cx="555.1" cy="789.3" r="6.4" fill="#02D9D7"/><circle cx="673.1" cy="265.1" r="6.4" fill="#E496B6"/><circle cx="443.7" cy="901.7" r="6.4" fill="#8476AB"/><circle cx="218.3" cy="734.0" r="6.4" fill="#E496B6"/><circle cx="245.8" cy="480.3" r="6.4" fill="#8C2F8B"/><circle cx="157.3" cy="602.9" r="6.4" fill="#E496B6"/><circle cx="396.9" cy="570.6" r="6.4" fill="#FF4F8A"/><circle cx="162.5" cy="417.2" r="6.4" fill="#8476AB"/><circle cx="714.9" cy="416.7" r="6.4" fill="#02D9D7"/><circle cx="150.0" cy="560.3" r="6.4" fill="#E496B6"/><circle cx="647.8" cy="324.7" r="6.4" fill="#02D9D7"/><circle cx="206.7" cy="456.9" r="6.4" fill="#02D9D7"/><circle cx="299.9" cy="693.2" r="6.4" fill="#8C2F8B"/><circle cx="1447.3" cy="748.7" r="6.4" fill="#02D9D7"/><circle cx="1609.0" cy="480.0" r="6.3" fill="#E496B6"/><circle cx="1352.3" cy="454.9" r="6.2" fill="#FDE1DF"/><circle cx="1304.2" cy="488.1" r="6.2" fill="#8C2F8B"/><circle cx="1355.5" cy="703.7" r="6.2" fill="#8C2F8B"/><circle cx="1341.1" cy="435.2" r="6.2" fill="#02D9D7"/><circle cx="1285.6" cy="627.1" r="6.2" fill="#02D9D7"/><circle cx="1412.5" cy="733.3" r="6.2" fill="#02D9D7"/><circle cx="1597.7" cy="593.6" r="6.2" fill="#8C2F8B"/><circle cx="1440.6" cy="553.4" r="6.2" fill="#FF4F8A"/><circle cx="485.0" cy="810.0" r="6.1" fill="#02D9D7"/><circle cx="521.4" cy="308.1" r="6.1" fill="#8C2F8B"/><circle cx="476.8" cy="799.5" r="6.1" fill="#02D9D7"/><circle cx="473.4" cy="330.1" r="6.1" fill="#FDE1DF"/><circle cx="495.3" cy="281.1" r="6.1" fill="#02D9D7"/><circle cx="468.9" cy="292.2" r="6.1" fill="#02D9D7"/><circle cx="771.5" cy="603.3" r="6.1" fill="#02D9D7"/><circle cx="464.7" cy="305.4" r="6.1" fill="#8C2F8B"/><circle cx="463.9" cy="814.4" r="6.1" fill="#02D9D7"/><circle cx="213.9" cy="606.1" r="6.1" fill="#02D9D7"/><circle cx="511.1" cy="282.5" r="6.1" fill="#02D9D7"/><circle cx="787.4" cy="597.9" r="6.1" fill="#E496B6"/><circle cx="496.3" cy="858.0" r="6.1" fill="#E496B6"/><circle cx="236.1" cy="781.1" r="6.1" fill="#8476AB"/><circle cx="539.7" cy="845.2" r="6.1" fill="#037C8E"/><circle cx="247.0" cy="773.3" r="6.1" fill="#E496B6"/><circle cx="786.1" cy="619.2" r="6.1" fill="#E496B6"/><circle cx="201.5" cy="576.7" r="6.1" fill="#02D9D7"/><circle cx="197.3" cy="597.7" r="6.1" fill="#02D9D7"/><circle cx="696.7" cy="779.7" r="6.1" fill="#E496B6"/><circle cx="500.9" cy="877.3" r="6.1" fill="#8476AB"/><circle cx="722.2" cy="761.1" r="6.1" fill="#8476AB"/><circle cx="207.8" cy="758.9" r="6.1" fill="#8476AB"/><circle cx="564.2" cy="861.6" r="6.1" fill="#8476AB"/><circle cx="294.6" cy="754.1" r="6.1" fill="#02D9D7"/><circle cx="429.9" cy="285.2" r="6.1" fill="#02D9D7"/><circle cx="319.6" cy="828.6" r="6.1" fill="#E496B6"/><circle cx="427.8" cy="828.3" r="6.1" fill="#02D9D7"/><circle cx="219.4" cy="394.4" r="6.1" fill="#93D1C2"/><circle cx="464.7" cy="243.6" r="6.1" fill="#949C9F"/><circle cx="495.8" cy="242.8" r="6.1" fill="#949C9F"/><circle cx="285.8" cy="741.9" r="6.1" fill="#02D9D7"/><circle cx="330.0" cy="794.4" r="6.1" fill="#02D9D7"/><circle cx="330.6" cy="768.5" r="6.1" fill="#02D9D7"/><circle cx="331.9" cy="781.2" r="6.1" fill="#02D9D7"/><circle cx="582.4" cy="774.9" r="6.1" fill="#8C2F8B"/><circle cx="239.3" cy="653.1" r="6.1" fill="#02D9D7"/><circle cx="450.0" cy="236.7" r="6.1" fill="#037C8E"/><circle cx="663.9" cy="808.7" r="6.1" fill="#E496B6"/><circle cx="413.5" cy="273.4" r="6.1" fill="#02D9D7"/><circle cx="201.1" cy="408.7" r="6.1" fill="#949C9F"/><circle cx="407.1" cy="873.3" r="6.1" fill="#8476AB"/><circle cx="405.6" cy="283.9" r="6.1" fill="#02D9D7"/><circle cx="595.0" cy="317.2" r="6.1" fill="#02D9D7"/><circle cx="491.9" cy="725.0" r="6.1" fill="#FDE1DF"/><circle cx="598.3" cy="831.5" r="6.1" fill="#037C8E"/><circle cx="522.2" cy="221.4" r="6.1" fill="#8476AB"/><circle cx="650.8" cy="631.7" r="6.1" fill="#FDE1DF"/><circle cx="513.4" cy="419.8" r="6.1" fill="#A5A1CA"/><circle cx="236.6" cy="720.4" r="6.1" fill="#93D1C2"/><circle cx="775.7" cy="719.2" r="6.1" fill="#8476AB"/><circle cx="398.7" cy="821.8" r="6.1" fill="#02D9D7"/><circle cx="653.7" cy="728.2" r="6.1" fill="#8C2F8B"/><circle cx="397.8" cy="772.8" r="6.1" fill="#8C2F8B"/><circle cx="647.2" cy="283.5" r="6.1" fill="#E496B6"/><circle cx="647.2" cy="340.0" r="6.1" fill="#02D9D7"/><circle cx="644.5" cy="763.1" r="6.1" fill="#02D9D7"/><circle cx="227.8" cy="461.7" r="6.1" fill="#02D9D7"/><circle cx="388.9" cy="245.0" r="6.1" fill="#037C8E"/><circle cx="458.9" cy="708.1" r="6.1" fill="#FDE1DF"/><circle cx="376.7" cy="657.8" r="6.1" fill="#FDE1DF"/><circle cx="513.9" cy="204.7" r="6.1" fill="#8476AB"/><circle cx="238.9" cy="453.3" r="6.1" fill="#02D9D7"/><circle cx="677.9" cy="702.2" r="6.1" fill="#8C2F8B"/><circle cx="751.0" cy="704.3" r="6.1" fill="#E496B6"/><circle cx="631.8" cy="761.1" r="6.1" fill="#02D9D7"/><circle cx="619.8" cy="820.8" r="6.1" fill="#949C9F"/><circle cx="204.4" cy="691.8" r="6.1" fill="#949C9F"/><circle cx="375.0" cy="800.6" r="6.1" fill="#02D9D7"/><circle cx="202.2" cy="444.4" r="6.1" fill="#02D9D7"/><circle cx="247.2" cy="443.6" r="6.1" fill="#02D9D7"/><circle cx="617.6" cy="491.1" r="6.1" fill="#FDE1DF"/><circle cx="191.7" cy="432.5" r="6.1" fill="#949C9F"/><circle cx="719.5" cy="429.0" r="6.1" fill="#02D9D7"/><circle cx="709.4" cy="708.3" r="6.1" fill="#02D9D7"/><circle cx="649.3" cy="716.2" r="6.1" fill="#8C2F8B"/><circle cx="353.3" cy="373.5" r="6.1" fill="#FDE1DF"/><circle cx="741.7" cy="674.2" r="6.1" fill="#02D9D7"/><circle cx="490.5" cy="268.5" r="6.0" fill="#02D9D7"/><circle cx="248.5" cy="367.0" r="5.9" fill="#02D9D7"/><circle cx="568.0" cy="801.5" r="5.9" fill="#02D9D7"/><circle cx="331.5" cy="322.0" r="5.8" fill="#8C2F8B"/><circle cx="1511.8" cy="702.1" r="5.8" fill="#8C2F8B"/><circle cx="1343.5" cy="515.2" r="5.8" fill="#FDE1DF"/><circle cx="1353.8" cy="433.2" r="5.8" fill="#02D9D7"/><circle cx="1491.6" cy="426.7" r="5.8" fill="#8C2F8B"/><circle cx="1362.7" cy="724.2" r="5.8" fill="#02D9D7"/><circle cx="1416.1" cy="659.6" r="5.8" fill="#FDE1DF"/><circle cx="1422.1" cy="706.7" r="5.8" fill="#8C2F8B"/><circle cx="1589.9" cy="565.1" r="5.8" fill="#FDE1DF"/><circle cx="706.0" cy="690.5" r="5.7" fill="#02D9D7"/><circle cx="740.3" cy="567.2" r="5.6" fill="#02D9D7"/><circle cx="265.8" cy="825.6" r="5.6" fill="#8476AB"/><circle cx="750.0" cy="553.3" r="5.6" fill="#02D9D7"/><circle cx="486.5" cy="791.9" r="5.6" fill="#8C2F8B"/><circle cx="287.3" cy="786.1" r="5.6" fill="#949C9F"/><circle cx="254.4" cy="783.1" r="5.6" fill="#E496B6"/><circle cx="795.2" cy="588.3" r="5.6" fill="#E496B6"/><circle cx="470.0" cy="863.9" r="5.6" fill="#E496B6"/><circle cx="297.4" cy="829.8" r="5.6" fill="#E496B6"/><circle cx="520.1" cy="768.2" r="5.6" fill="#8C2F8B"/><circle cx="265.3" cy="767.8" r="5.6" fill="#949C9F"/><circle cx="696.9" cy="792.1" r="5.6" fill="#8476AB"/><circle cx="793.8" cy="629.3" r="5.6" fill="#8476AB"/><circle cx="691.8" cy="368.7" r="5.6" fill="#02D9D7"/><circle cx="794.3" cy="508.8" r="5.6" fill="#E496B6"/><circle cx="811.1" cy="571.4" r="5.6" fill="#8476AB"/><circle cx="187.3" cy="604.8" r="5.6" fill="#93D1C2"/><circle cx="317.7" cy="758.9" r="5.6" fill="#02D9D7"/><circle cx="745.2" cy="495.4" r="5.6" fill="#02D9D7"/><circle cx="424.2" cy="792.5" r="5.6" fill="#8C2F8B"/><circle cx="329.2" cy="817.2" r="5.6" fill="#949C9F"/><circle cx="331.4" cy="861.7" r="5.6" fill="#8476AB"/><circle cx="583.3" cy="863.1" r="5.6" fill="#8476AB"/><circle cx="661.5" cy="747.8" r="5.6" fill="#02D9D7"/><circle cx="661.1" cy="327.8" r="5.6" fill="#02D9D7"/><circle cx="590.3" cy="764.4" r="5.6" fill="#8C2F8B"/><circle cx="158.3" cy="549.2" r="5.6" fill="#E496B6"/><circle cx="653.6" cy="647.0" r="5.6" fill="#FDE1DF"/><circle cx="236.8" cy="471.4" r="5.6" fill="#8C2F8B"/><circle cx="647.2" cy="750.6" r="5.6" fill="#02D9D7"/><circle cx="680.7" cy="719.0" r="5.6" fill="#02D9D7"/><circle cx="698.6" cy="425.6" r="5.6" fill="#02D9D7"/><circle cx="144.4" cy="658.9" r="5.6" fill="#8476AB"/><circle cx="702.4" cy="678.7" r="5.6" fill="#02D9D7"/><circle cx="582.0" cy="435.3" r="5.6" fill="#FDE1DF"/><circle cx="729.2" cy="682.5" r="5.6" fill="#02D9D7"/><circle cx="618.7" cy="333.7" r="5.6" fill="#02D9D7"/><circle cx="219.4" cy="450.6" r="5.6" fill="#02D9D7"/><circle cx="756.6" cy="693.3" r="5.6" fill="#02D9D7"/><circle cx="620.8" cy="300.0" r="5.6" fill="#02D9D7"/><circle cx="255.0" cy="682.3" r="5.6" fill="#02D9D7"/><circle cx="796.1" cy="424.1" r="5.6" fill="#8476AB"/><circle cx="648.0" cy="464.5" r="5.5" fill="#FDE1DF"/><circle cx="311.0" cy="406.5" r="5.5" fill="#FDE1DF"/><circle cx="334.0" cy="488.5" r="5.5" fill="#FDE1DF"/><circle cx="318.5" cy="772.0" r="5.5" fill="#02D9D7"/><circle cx="344.0" cy="285.5" r="5.4" fill="#02D9D7"/><circle cx="196.5" cy="565.0" r="5.4" fill="#02D9D7"/><circle cx="1609.2" cy="615.4" r="5.4" fill="#02D9D7"/><circle cx="1287.4" cy="500.0" r="5.4" fill="#02D9D7"/><circle cx="1374.4" cy="723.4" r="5.4" fill="#02D9D7"/><circle cx="1392.4" cy="401.3" r="5.4" fill="#02D9D7"/><circle cx="1466.8" cy="630.4" r="5.4" fill="#FF4F8A"/><circle cx="1613.6" cy="555.8" r="5.4" fill="#02D9D7"/><circle cx="1318.0" cy="565.6" r="5.4" fill="#FDE1DF"/><circle cx="675.5" cy="637.5" r="5.3" fill="#FDE1DF"/><circle cx="1291.4" cy="474.9" r="5.3" fill="#93D1C2"/><circle cx="1280.7" cy="606.1" r="5.3" fill="#02D9D7"/><circle cx="599.0" cy="305.5" r="5.1" fill="#02D9D7"/><circle cx="1366.5" cy="409.5" r="5.1" fill="#02D9D7"/><circle cx="213.5" cy="440.5" r="5.1" fill="#02D9D7"/><circle cx="500.0" cy="808.0" r="5.1" fill="#02D9D7"/><circle cx="252.5" cy="350.0" r="5.1" fill="#02D9D7"/><circle cx="550.0" cy="545.0" r="5.0" fill="#FF4F8A"/><circle cx="518.5" cy="482.5" r="5.0" fill="#FF4F8A"/><circle cx="474.5" cy="621.0" r="5.0" fill="#FF4F8A"/><circle cx="400.0" cy="793.5" r="5.0" fill="#02D9D7"/><circle cx="452.5" cy="811.0" r="5.0" fill="#02D9D7"/><circle cx="252.9" cy="577.5" r="5.0" fill="#8C2F8B"/><circle cx="480.3" cy="859.6" r="5.0" fill="#037C8E"/><circle cx="718.1" cy="277.8" r="5.0" fill="#8476AB"/><circle cx="514.9" cy="860.8" r="5.0" fill="#8476AB"/><circle cx="802.6" cy="516.4" r="5.0" fill="#E496B6"/><circle cx="803.4" cy="562.1" r="5.0" fill="#E496B6"/><circle cx="306.6" cy="760.8" r="5.0" fill="#02D9D7"/><circle cx="735.4" cy="508.7" r="5.0" fill="#02D9D7"/><circle cx="737.5" cy="751.4" r="5.0" fill="#8476AB"/><circle cx="504.7" cy="889.4" r="5.0" fill="#8476AB"/><circle cx="677.8" cy="814.3" r="5.0" fill="#8476AB"/><circle cx="672.2" cy="740.8" r="5.0" fill="#02D9D7"/><circle cx="686.0" cy="736.5" r="5.0" fill="#02D9D7"/><circle cx="663.9" cy="796.9" r="5.0" fill="#E496B6"/><circle cx="468.9" cy="227.5" r="5.0" fill="#E496B6"/><circle cx="689.2" cy="726.4" r="5.0" fill="#02D9D7"/><circle cx="601.9" cy="855.0" r="5.0" fill="#8476AB"/><circle cx="282.1" cy="717.1" r="5.0" fill="#02D9D7"/><circle cx="605.6" cy="795.0" r="5.0" fill="#02D9D7"/><circle cx="756.8" cy="678.7" r="5.0" fill="#E496B6"/><circle cx="636.2" cy="321.1" r="5.0" fill="#02D9D7"/><circle cx="700.5" cy="700.8" r="5.0" fill="#02D9D7"/><circle cx="368.1" cy="783.9" r="5.0" fill="#02D9D7"/><circle cx="471.4" cy="201.4" r="5.0" fill="#8476AB"/><circle cx="768.2" cy="701.0" r="5.0" fill="#8476AB"/><circle cx="620.3" cy="774.3" r="5.0" fill="#02D9D7"/><circle cx="523.6" cy="197.8" r="5.0" fill="#8476AB"/><circle cx="613.2" cy="228.3" r="5.0" fill="#8476AB"/><circle cx="611.1" cy="310.3" r="5.0" fill="#02D9D7"/><circle cx="713.4" cy="676.4" r="5.0" fill="#02D9D7"/><circle cx="276.0" cy="365.5" r="4.9" fill="#02D9D7"/><circle cx="239.5" cy="403.0" r="4.9" fill="#02D9D7"/><circle cx="1546.8" cy="477.9" r="4.9" fill="#8C2F8B"/><circle cx="1577.2" cy="469.3" r="4.9" fill="#02D9D7"/><circle cx="1556.9" cy="700.1" r="4.9" fill="#02D9D7"/><circle cx="1306.2" cy="476.6" r="4.9" fill="#02D9D7"/><circle cx="1545.2" cy="715.7" r="4.9" fill="#02D9D7"/><circle cx="1523.0" cy="717.8" r="4.9" fill="#02D9D7"/><circle cx="1349.3" cy="420.3" r="4.9" fill="#02D9D7"/><circle cx="1288.2" cy="613.9" r="4.9" fill="#02D9D7"/><circle cx="1285.5" cy="519.1" r="4.9" fill="#02D9D7"/><circle cx="1416.5" cy="716.8" r="4.9" fill="#8C2F8B"/><circle cx="1282.6" cy="638.8" r="4.9" fill="#02D9D7"/><circle cx="1407.3" cy="408.8" r="4.9" fill="#02D9D7"/><circle cx="1538.3" cy="407.6" r="4.9" fill="#02D9D7"/><circle cx="1275.6" cy="516.0" r="4.9" fill="#02D9D7"/><circle cx="1469.7" cy="409.0" r="4.9" fill="#02D9D7"/><circle cx="1435.9" cy="741.1" r="4.9" fill="#02D9D7"/><circle cx="1614.9" cy="582.0" r="4.9" fill="#02D9D7"/><circle cx="1462.3" cy="396.4" r="4.9" fill="#02D9D7"/><circle cx="1267.2" cy="578.7" r="4.9" fill="#02D9D7"/><circle cx="1443.9" cy="727.3" r="4.9" fill="#8C2F8B"/><circle cx="1255.0" cy="548.3" r="4.9" fill="#02D9D7"/><circle cx="1453.5" cy="479.0" r="4.9" fill="#A5A1CA"/><circle cx="1446.7" cy="464.6" r="4.9" fill="#FDE1DF"/><circle cx="520.5" cy="829.5" r="4.8" fill="#8C2F8B"/><circle cx="1383.8" cy="394.7" r="4.8" fill="#949C9F"/><circle cx="1264.0" cy="621.0" r="4.8" fill="#949C9F"/><circle cx="1351.9" cy="729.3" r="4.8" fill="#949C9F"/><circle cx="1402.5" cy="549.0" r="4.7" fill="#FF4F8A"/><circle cx="341.5" cy="312.5" r="4.7" fill="#FDE1DF"/><circle cx="589.5" cy="296.0" r="4.7" fill="#FDE1DF"/><circle cx="226.5" cy="559.0" r="4.7" fill="#02D9D7"/><circle cx="1321.5" cy="443.0" r="4.7" fill="#02D9D7"/><circle cx="469.0" cy="833.8" r="4.7" fill="#93D1C2"/><circle cx="283.3" cy="836.7" r="4.7" fill="#8476AB"/><circle cx="518.9" cy="851.2" r="4.7" fill="#E496B6"/><circle cx="292.8" cy="839.7" r="4.7" fill="#8476AB"/><circle cx="308.2" cy="830.1" r="4.7" fill="#E496B6"/><circle cx="195.8" cy="758.2" r="4.7" fill="#8476AB"/><circle cx="687.5" cy="772.8" r="4.7" fill="#037C8E"/><circle cx="573.6" cy="847.8" r="4.7" fill="#E496B6"/><circle cx="433.4" cy="896.3" r="4.7" fill="#8476AB"/><circle cx="166.7" cy="622.8" r="4.7" fill="#E496B6"/><circle cx="666.6" cy="255.1" r="4.7" fill="#8476AB"/><circle cx="665.5" cy="273.9" r="4.7" fill="#E496B6"/><circle cx="662.5" cy="638.1" r="4.7" fill="#FDE1DF"/><circle cx="252.8" cy="729.7" r="4.7" fill="#93D1C2"/><circle cx="647.2" cy="799.2" r="4.7" fill="#949C9F"/><circle cx="359.9" cy="876.3" r="4.7" fill="#8476AB"/><circle cx="640.3" cy="789.4" r="4.7" fill="#949C9F"/><circle cx="361.2" cy="705.7" r="4.7" fill="#FDE1DF"/><circle cx="134.4" cy="560.6" r="4.7" fill="#8476AB"/><circle cx="365.9" cy="543.0" r="4.7" fill="#A5A1CA"/><circle cx="617.5" cy="405.4" r="4.7" fill="#FDE1DF"/><circle cx="608.3" cy="350.3" r="4.7" fill="#8C2F8B"/><circle cx="331.5" cy="358.0" r="4.6" fill="#8C2F8B"/><circle cx="677.5" cy="730.0" r="4.6" fill="#02D9D7"/><circle cx="461.5" cy="651.5" r="4.5" fill="#FF4F8A"/><circle cx="541.0" cy="718.0" r="4.5" fill="#FDE1DF"/><circle cx="320.0" cy="335.0" r="4.5" fill="#02D9D7"/><circle cx="466.0" cy="265.5" r="4.5" fill="#02D9D7"/><circle cx="343.5" cy="782.5" r="4.5" fill="#02D9D7"/><circle cx="447.0" cy="268.0" r="4.5" fill="#02D9D7"/><circle cx="150.0" cy="502.0" r="4.5" fill="#E496B6"/><circle cx="321.5" cy="254.0" r="4.5" fill="#E496B6"/><circle cx="177.0" cy="375.5" r="4.5" fill="#8476AB"/><circle cx="345.5" cy="254.5" r="4.5" fill="#8476AB"/><circle cx="811.5" cy="506.5" r="4.5" fill="#8476AB"/><circle cx="245.5" cy="793.5" r="4.5" fill="#E496B6"/><circle cx="346.0" cy="851.5" r="4.5" fill="#8476AB"/><circle cx="246.0" cy="322.5" r="4.5" fill="#8476AB"/><circle cx="252.0" cy="312.5" r="4.5" fill="#E496B6"/><circle cx="385.5" cy="222.0" r="4.5" fill="#E496B6"/><circle cx="579.0" cy="836.5" r="4.5" fill="#8476AB"/><circle cx="827.5" cy="579.5" r="4.5" fill="#8476AB"/><circle cx="490.5" cy="886.5" r="4.5" fill="#8476AB"/><circle cx="155.5" cy="629.0" r="4.5" fill="#E496B6"/><circle cx="476.5" cy="213.0" r="4.5" fill="#8476AB"/><circle cx="331.0" cy="256.0" r="4.5" fill="#E496B6"/><circle cx="435.0" cy="912.0" r="4.5" fill="#8476AB"/><circle cx="590.0" cy="852.5" r="4.5" fill="#8476AB"/><circle cx="808.0" cy="421.0" r="4.5" fill="#8476AB"/><circle cx="577.5" cy="218.5" r="4.5" fill="#8476AB"/><circle cx="572.5" cy="871.0" r="4.5" fill="#8476AB"/><circle cx="156.5" cy="537.0" r="4.5" fill="#E496B6"/><circle cx="177.5" cy="626.5" r="4.5" fill="#E496B6"/><circle cx="805.0" cy="582.0" r="4.5" fill="#8476AB"/><circle cx="278.0" cy="826.5" r="4.5" fill="#8476AB"/><circle cx="168.5" cy="405.5" r="4.5" fill="#8476AB"/><circle cx="764.5" cy="357.0" r="4.5" fill="#E496B6"/><circle cx="163.0" cy="649.0" r="4.5" fill="#8476AB"/><circle cx="421.0" cy="875.5" r="4.5" fill="#8476AB"/><circle cx="151.5" cy="477.0" r="4.5" fill="#E496B6"/><circle cx="566.0" cy="224.0" r="4.5" fill="#8476AB"/><circle cx="797.5" cy="435.5" r="4.5" fill="#8476AB"/><circle cx="693.5" cy="803.0" r="4.5" fill="#E496B6"/><circle cx="360.5" cy="863.5" r="4.5" fill="#E496B6"/><circle cx="801.0" cy="472.5" r="4.5" fill="#8476AB"/><circle cx="398.5" cy="223.5" r="4.5" fill="#E496B6"/><circle cx="405.0" cy="885.5" r="4.5" fill="#8476AB"/><circle cx="140.0" cy="570.0" r="4.5" fill="#E496B6"/><circle cx="595.0" cy="863.0" r="4.5" fill="#E496B6"/><circle cx="505.0" cy="866.0" r="4.5" fill="#8476AB"/><circle cx="546.0" cy="215.5" r="4.5" fill="#8476AB"/><circle cx="222.0" cy="320.0" r="4.5" fill="#8476AB"/><circle cx="706.5" cy="773.0" r="4.5" fill="#E496B6"/><circle cx="562.5" cy="873.0" r="4.5" fill="#8476AB"/><circle cx="553.0" cy="884.0" r="4.5" fill="#8476AB"/><circle cx="655.5" cy="254.5" r="4.5" fill="#8476AB"/><circle cx="457.0" cy="897.0" r="4.5" fill="#8476AB"/><circle cx="160.5" cy="499.5" r="4.5" fill="#E496B6"/><circle cx="141.0" cy="508.5" r="4.5" fill="#8476AB"/><circle cx="161.5" cy="638.0" r="4.5" fill="#8476AB"/><circle cx="817.5" cy="416.5" r="4.5" fill="#8476AB"/><circle cx="535.0" cy="283.5" r="4.4" fill="#93D1C2"/><circle cx="744.5" cy="441.5" r="4.4" fill="#02D9D7"/><circle cx="635.0" cy="244.5" r="4.4" fill="#E496B6"/><circle cx="701.0" cy="759.0" r="4.4" fill="#E496B6"/><circle cx="746.5" cy="757.5" r="4.4" fill="#E496B6"/><circle cx="183.0" cy="360.0" r="4.4" fill="#8476AB"/><circle cx="166.5" cy="376.0" r="4.4" fill="#8476AB"/><circle cx="321.5" cy="243.5" r="4.4" fill="#8476AB"/><circle cx="150.5" cy="491.5" r="4.4" fill="#E496B6"/><circle cx="752.8" cy="399.2" r="4.4" fill="#E496B6"/><circle cx="697.0" cy="585.5" r="4.3" fill="#FDE1DF"/><circle cx="643.0" cy="313.5" r="4.3" fill="#02D9D7"/><circle cx="232.5" cy="644.0" r="4.3" fill="#02D9D7"/><circle cx="717.0" cy="377.0" r="4.3" fill="#02D9D7"/><circle cx="184.5" cy="651.0" r="4.3" fill="#E496B6"/><circle cx="533.0" cy="219.5" r="4.3" fill="#E496B6"/><circle cx="539.5" cy="885.5" r="4.3" fill="#8476AB"/><circle cx="503.0" cy="201.5" r="4.3" fill="#8476AB"/><circle cx="645.5" cy="254.0" r="4.3" fill="#8476AB"/><circle cx="129.5" cy="551.5" r="4.3" fill="#8476AB"/><circle cx="176.0" cy="412.5" r="4.3" fill="#E496B6"/><circle cx="1371.8" cy="434.7" r="4.3" fill="#8C2F8B"/><circle cx="1595.6" cy="498.4" r="4.3" fill="#02D9D7"/><circle cx="1601.9" cy="508.0" r="4.3" fill="#02D9D7"/><circle cx="1358.1" cy="714.5" r="4.3" fill="#02D9D7"/><circle cx="1523.6" cy="727.5" r="4.3" fill="#02D9D7"/><circle cx="1402.3" cy="729.1" r="4.3" fill="#02D9D7"/><circle cx="1611.2" cy="543.1" r="4.3" fill="#02D9D7"/><circle cx="1423.3" cy="730.7" r="4.3" fill="#02D9D7"/><circle cx="1420.9" cy="401.0" r="4.3" fill="#02D9D7"/><circle cx="1607.6" cy="588.5" r="4.3" fill="#02D9D7"/><circle cx="1607.3" cy="563.9" r="4.3" fill="#02D9D7"/><circle cx="629.0" cy="407.0" r="4.2" fill="#FDE1DF"/><circle cx="461.1" cy="796.4" r="4.2" fill="#02D9D7"/><circle cx="791.7" cy="570.0" r="4.2" fill="#949C9F"/><circle cx="529.5" cy="879.0" r="4.2" fill="#8476AB"/><circle cx="697.2" cy="768.6" r="4.2" fill="#E496B6"/><circle cx="253.0" cy="764.2" r="4.2" fill="#E496B6"/><circle cx="308.3" cy="776.9" r="4.2" fill="#02D9D7"/><circle cx="711.1" cy="757.5" r="4.2" fill="#E496B6"/><circle cx="282.5" cy="633.9" r="4.2" fill="#FDE1DF"/><circle cx="325.1" cy="528.4" r="4.2" fill="#FDE1DF"/><circle cx="674.8" cy="804.9" r="4.2" fill="#8476AB"/><circle cx="744.4" cy="743.6" r="4.2" fill="#8476AB"/><circle cx="759.7" cy="485.3" r="4.2" fill="#93D1C2"/><circle cx="412.9" cy="789.2" r="4.2" fill="#02D9D7"/><circle cx="761.1" cy="408.3" r="4.2" fill="#E496B6"/><circle cx="563.6" cy="639.0" r="4.2" fill="#FDE1DF"/><circle cx="590.3" cy="840.8" r="4.2" fill="#E496B6"/><circle cx="758.8" cy="727.0" r="4.2" fill="#8476AB"/><circle cx="553.1" cy="643.9" r="4.2" fill="#FDE1DF"/><circle cx="502.6" cy="416.8" r="4.2" fill="#A5A1CA"/><circle cx="652.8" cy="808.1" r="4.2" fill="#E496B6"/><circle cx="387.3" cy="654.3" r="4.2" fill="#A5A1CA"/><circle cx="381.4" cy="647.5" r="4.2" fill="#A5A1CA"/><circle cx="337.6" cy="456.0" r="4.2" fill="#FDE1DF"/><circle cx="386.2" cy="789.9" r="4.2" fill="#02D9D7"/><circle cx="740.2" cy="705.4" r="4.2" fill="#037C8E"/><circle cx="634.7" cy="807.5" r="4.2" fill="#949C9F"/><circle cx="632.3" cy="657.4" r="4.2" fill="#FDE1DF"/><circle cx="618.9" cy="860.8" r="4.2" fill="#8476AB"/><circle cx="371.3" cy="618.7" r="4.2" fill="#A5A1CA"/><circle cx="627.8" cy="783.9" r="4.2" fill="#02D9D7"/><circle cx="359.3" cy="696.2" r="4.2" fill="#FDE1DF"/><circle cx="746.2" cy="691.6" r="4.2" fill="#037C8E"/><circle cx="154.5" cy="689.6" r="4.2" fill="#8476AB"/><circle cx="363.9" cy="826.8" r="4.2" fill="#949C9F"/><circle cx="638.5" cy="739.0" r="4.2" fill="#02D9D7"/><circle cx="149.7" cy="681.7" r="4.2" fill="#8476AB"/><circle cx="390.3" cy="797.9" r="4.2" fill="#02D9D7"/><circle cx="609.4" cy="806.3" r="4.2" fill="#93D1C2"/><circle cx="609.6" cy="817.2" r="4.2" fill="#949C9F"/><circle cx="515.0" cy="408.3" r="4.2" fill="#FDE1DF"/><circle cx="196.4" cy="675.7" r="4.2" fill="#E496B6"/><circle cx="1465.0" cy="602.5" r="4.1" fill="#FF4F8A"/><circle cx="1539.0" cy="687.5" r="4.1" fill="#8C2F8B"/><circle cx="588.0" cy="812.5" r="4.1" fill="#02D9D7"/><circle cx="630.5" cy="772.0" r="4.1" fill="#02D9D7"/><circle cx="1299.0" cy="661.5" r="4.1" fill="#02D9D7"/><circle cx="161.5" cy="614.0" r="4.1" fill="#E496B6"/><circle cx="525.0" cy="859.5" r="4.1" fill="#E496B6"/><circle cx="837.0" cy="570.5" r="4.1" fill="#E496B6"/><circle cx="157.0" cy="509.5" r="4.1" fill="#E496B6"/><circle cx="796.5" cy="463.5" r="4.1" fill="#8476AB"/><circle cx="1530.5" cy="639.0" r="4.0" fill="#FDE1DF"/><circle cx="351.5" cy="688.5" r="4.0" fill="#FDE1DF"/><circle cx="456.0" cy="263.5" r="4.0" fill="#02D9D7"/><circle cx="197.0" cy="542.5" r="4.0" fill="#02D9D7"/><circle cx="288.0" cy="725.0" r="4.0" fill="#02D9D7"/><circle cx="516.5" cy="267.0" r="4.0" fill="#02D9D7"/><circle cx="229.5" cy="447.5" r="4.0" fill="#02D9D7"/><circle cx="797.5" cy="499.0" r="4.0" fill="#8476AB"/><circle cx="159.0" cy="519.0" r="4.0" fill="#E496B6"/><circle cx="132.0" cy="515.5" r="4.0" fill="#8476AB"/><circle cx="684.5" cy="806.0" r="4.0" fill="#E496B6"/><circle cx="339.0" cy="262.0" r="4.0" fill="#8476AB"/><circle cx="298.0" cy="721.5" r="3.9" fill="#8C2F8B"/><circle cx="643.0" cy="725.5" r="3.9" fill="#8C2F8B"/><circle cx="224.0" cy="568.5" r="3.9" fill="#8C2F8B"/><circle cx="323.5" cy="365.0" r="3.9" fill="#8C2F8B"/><circle cx="1570.5" cy="486.5" r="3.9" fill="#8C2F8B"/><circle cx="509.5" cy="828.5" r="3.9" fill="#02D9D7"/><circle cx="280.0" cy="751.5" r="3.9" fill="#02D9D7"/><circle cx="1411.5" cy="400.0" r="3.9" fill="#02D9D7"/><circle cx="753.0" cy="519.5" r="3.9" fill="#02D9D7"/><circle cx="748.5" cy="576.5" r="3.9" fill="#02D9D7"/><circle cx="467.0" cy="804.0" r="3.9" fill="#02D9D7"/><circle cx="521.0" cy="841.0" r="3.9" fill="#E496B6"/><circle cx="154.5" cy="656.5" r="3.9" fill="#E496B6"/><circle cx="167.5" cy="444.5" r="3.9" fill="#8476AB"/><circle cx="736.0" cy="739.0" r="3.9" fill="#E496B6"/><circle cx="814.0" cy="581.5" r="3.9" fill="#E496B6"/><circle cx="513.0" cy="215.5" r="3.9" fill="#8476AB"/><circle cx="523.0" cy="210.5" r="3.9" fill="#8476AB"/><circle cx="574.5" cy="858.0" r="3.9" fill="#8476AB"/><circle cx="236.0" cy="323.5" r="3.9" fill="#8476AB"/><circle cx="141.5" cy="497.0" r="3.9" fill="#8476AB"/><circle cx="1542.2" cy="468.1" r="3.9" fill="#8C2F8B"/><circle cx="1572.6" cy="459.8" r="3.9" fill="#02D9D7"/><circle cx="1329.5" cy="448.8" r="3.9" fill="#02D9D7"/><circle cx="1317.8" cy="665.1" r="3.9" fill="#02D9D7"/><circle cx="1585.0" cy="464.0" r="3.9" fill="#02D9D7"/><circle cx="1584.9" cy="507.1" r="3.9" fill="#8C2F8B"/><circle cx="1587.9" cy="489.7" r="3.9" fill="#02D9D7"/><circle cx="1307.4" cy="467.3" r="3.9" fill="#02D9D7"/><circle cx="1308.8" cy="640.8" r="3.9" fill="#8C2F8B"/><circle cx="1298.4" cy="651.4" r="3.9" fill="#02D9D7"/><circle cx="1295.2" cy="493.9" r="3.9" fill="#02D9D7"/><circle cx="1604.4" cy="517.8" r="3.9" fill="#02D9D7"/><circle cx="1368.3" cy="714.7" r="3.9" fill="#02D9D7"/><circle cx="1333.2" cy="614.2" r="3.9" fill="#FDE1DF"/><circle cx="1607.3" cy="531.4" r="3.9" fill="#02D9D7"/><circle cx="1357.9" cy="416.5" r="3.9" fill="#02D9D7"/><circle cx="1530.2" cy="533.0" r="3.9" fill="#FDE1DF"/><circle cx="1343.1" cy="723.8" r="3.9" fill="#949C9F"/><circle cx="1389.8" cy="727.3" r="3.9" fill="#02D9D7"/><circle cx="1517.4" cy="410.2" r="3.9" fill="#02D9D7"/><circle cx="1280.8" cy="508.1" r="3.9" fill="#02D9D7"/><circle cx="1274.2" cy="598.9" r="3.9" fill="#02D9D7"/><circle cx="1428.6" cy="472.7" r="3.9" fill="#A5A1CA"/><circle cx="1426.5" cy="740.9" r="3.9" fill="#02D9D7"/><circle cx="1477.4" cy="741.8" r="3.9" fill="#02D9D7"/><circle cx="1460.6" cy="406.7" r="3.9" fill="#02D9D7"/><circle cx="1459.2" cy="747.8" r="3.9" fill="#02D9D7"/><circle cx="1444.5" cy="474.7" r="3.9" fill="#A5A1CA"/><circle cx="1461.6" cy="757.8" r="3.9" fill="#02D9D7"/><circle cx="1450.1" cy="394.7" r="3.9" fill="#02D9D7"/><circle cx="1444.7" cy="737.8" r="3.9" fill="#02D9D7"/><circle cx="430.5" cy="446.0" r="3.8" fill="#FF4F8A"/><circle cx="551.5" cy="346.0" r="3.7" fill="#FDE1DF"/><circle cx="232.0" cy="551.0" r="3.7" fill="#02D9D7"/><circle cx="586.0" cy="282.5" r="3.7" fill="#02D9D7"/><circle cx="317.5" cy="323.5" r="3.7" fill="#02D9D7"/><circle cx="305.5" cy="329.5" r="3.7" fill="#02D9D7"/><circle cx="652.0" cy="774.5" r="3.7" fill="#02D9D7"/><circle cx="199.0" cy="587.0" r="3.7" fill="#02D9D7"/><circle cx="578.0" cy="280.5" r="3.7" fill="#02D9D7"/><circle cx="355.5" cy="254.5" r="3.7" fill="#E496B6"/><circle cx="336.0" cy="852.5" r="3.7" fill="#8476AB"/><circle cx="1630.7" cy="587.5" r="3.7" fill="#E496B6"/><circle cx="434.0" cy="510.5" r="3.6" fill="#FF4F8A"/><circle cx="773.0" cy="352.5" r="3.6" fill="#8476AB"/><circle cx="428.5" cy="905.0" r="3.6" fill="#8476AB"/><circle cx="374.0" cy="880.5" r="3.6" fill="#E496B6"/><circle cx="641.5" cy="292.5" r="3.6" fill="#E496B6"/><circle cx="763.5" cy="417.5" r="3.6" fill="#E496B6"/><circle cx="712.5" cy="765.8" r="3.6" fill="#E496B6"/><circle cx="502.0" cy="551.0" r="3.5" fill="#FF4F8A"/><circle cx="506.5" cy="368.5" r="3.5" fill="#FDE1DF"/><circle cx="491.5" cy="801.0" r="3.5" fill="#02D9D7"/><circle cx="474.5" cy="813.5" r="3.5" fill="#02D9D7"/><circle cx="173.5" cy="521.0" r="3.5" fill="#02D9D7"/><circle cx="302.5" cy="770.0" r="3.5" fill="#02D9D7"/><circle cx="354.0" cy="836.5" r="3.5" fill="#E496B6"/><circle cx="787.0" cy="534.0" r="3.5" fill="#E496B6"/><circle cx="598.5" cy="846.0" r="3.5" fill="#8476AB"/><circle cx="514.0" cy="888.5" r="3.5" fill="#8476AB"/><circle cx="1568.2" cy="469.6" r="3.5" fill="#02D9D7"/><circle cx="1325.7" cy="463.2" r="3.5" fill="#02D9D7"/><circle cx="1337.0" cy="451.8" r="3.5" fill="#02D9D7"/><circle cx="1321.7" cy="456.6" r="3.5" fill="#02D9D7"/><circle cx="1559.5" cy="448.1" r="3.5" fill="#02D9D7"/><circle cx="1331.4" cy="441.0" r="3.5" fill="#02D9D7"/><circle cx="1306.1" cy="656.3" r="3.5" fill="#02D9D7"/><circle cx="1593.8" cy="510.3" r="3.5" fill="#02D9D7"/><circle cx="1518.4" cy="709.5" r="3.5" fill="#02D9D7"/><circle cx="1343.1" cy="711.7" r="3.5" fill="#02D9D7"/><circle cx="1512.9" cy="714.6" r="3.5" fill="#02D9D7"/><circle cx="1374.2" cy="415.7" r="3.5" fill="#02D9D7"/><circle cx="1546.9" cy="413.0" r="3.5" fill="#02D9D7"/><circle cx="1620.9" cy="606.7" r="3.5" fill="#02D9D7"/><circle cx="1540.8" cy="587.8" r="3.5" fill="#FDE1DF"/><circle cx="1436.6" cy="473.1" r="3.5" fill="#A5A1CA"/><circle cx="1612.7" cy="573.2" r="3.5" fill="#02D9D7"/><circle cx="1619.1" cy="569.1" r="3.5" fill="#02D9D7"/><circle cx="1454.7" cy="401.3" r="3.5" fill="#02D9D7"/><circle cx="310.5" cy="337.0" r="3.4" fill="#8C2F8B"/><circle cx="450.5" cy="308.0" r="3.4" fill="#8C2F8B"/><circle cx="408.5" cy="774.0" r="3.4" fill="#02D9D7"/><circle cx="346.5" cy="768.0" r="3.4" fill="#8C2F8B"/><circle cx="470.0" cy="281.5" r="3.4" fill="#02D9D7"/><circle cx="669.0" cy="322.0" r="3.4" fill="#02D9D7"/><circle cx="569.5" cy="824.0" r="3.4" fill="#02D9D7"/><circle cx="238.5" cy="673.5" r="3.4" fill="#02D9D7"/><circle cx="771.5" cy="537.5" r="3.4" fill="#02D9D7"/><circle cx="455.0" cy="820.5" r="3.4" fill="#02D9D7"/><circle cx="760.0" cy="556.0" r="3.4" fill="#02D9D7"/><circle cx="340.0" cy="773.5" r="3.4" fill="#02D9D7"/><circle cx="437.5" cy="833.0" r="3.4" fill="#02D9D7"/><circle cx="311.5" cy="305.5" r="3.4" fill="#02D9D7"/><circle cx="186.5" cy="414.0" r="3.4" fill="#E496B6"/><circle cx="340.5" cy="230.0" r="3.4" fill="#E496B6"/><circle cx="318.0" cy="263.0" r="3.4" fill="#E496B6"/><circle cx="582.5" cy="845.5" r="3.4" fill="#E496B6"/><circle cx="253.0" cy="799.5" r="3.4" fill="#E496B6"/><circle cx="288.0" cy="827.5" r="3.4" fill="#E496B6"/><circle cx="813.5" cy="561.0" r="3.4" fill="#E496B6"/><circle cx="556.5" cy="221.5" r="3.4" fill="#8476AB"/><circle cx="512.0" cy="224.5" r="3.4" fill="#8476AB"/><circle cx="812.0" cy="516.0" r="3.4" fill="#E496B6"/><circle cx="760.0" cy="365.5" r="3.4" fill="#E496B6"/><circle cx="209.0" cy="740.0" r="3.4" fill="#E496B6"/><circle cx="147.0" cy="539.0" r="3.4" fill="#8476AB"/><circle cx="794.5" cy="521.5" r="3.4" fill="#E496B6"/><circle cx="460.5" cy="861.5" r="3.4" fill="#E496B6"/><circle cx="1446.5" cy="590.5" r="3.3" fill="#FF4F8A"/><circle cx="349.5" cy="620.5" r="3.3" fill="#A5A1CA"/><circle cx="691.0" cy="575.5" r="3.3" fill="#FDE1DF"/><circle cx="299.5" cy="734.5" r="3.3" fill="#8C2F8B"/><circle cx="319.5" cy="736.5" r="3.3" fill="#8C2F8B"/><circle cx="349.5" cy="775.0" r="3.3" fill="#8C2F8B"/><circle cx="605.5" cy="318.0" r="3.3" fill="#02D9D7"/><circle cx="423.5" cy="277.0" r="3.3" fill="#02D9D7"/><circle cx="170.5" cy="511.5" r="3.3" fill="#02D9D7"/><circle cx="383.0" cy="807.0" r="3.3" fill="#02D9D7"/><circle cx="204.5" cy="652.0" r="3.3" fill="#02D9D7"/><circle cx="255.0" cy="375.0" r="3.3" fill="#02D9D7"/><circle cx="200.5" cy="551.5" r="3.3" fill="#02D9D7"/><circle cx="1313.0" cy="461.5" r="3.3" fill="#02D9D7"/><circle cx="173.5" cy="616.5" r="3.3" fill="#E496B6"/><circle cx="658.0" cy="790.0" r="3.3" fill="#E496B6"/><circle cx="176.5" cy="440.0" r="3.3" fill="#E496B6"/><circle cx="353.5" cy="857.5" r="3.3" fill="#E496B6"/><circle cx="732.0" cy="759.0" r="3.3" fill="#8476AB"/><circle cx="186.0" cy="379.0" r="3.3" fill="#E496B6"/><circle cx="645.8" cy="813.1" r="3.3" fill="#E496B6"/><circle cx="630.6" cy="854.7" r="3.3" fill="#8476AB"/><circle cx="445.6" cy="408.3" r="3.3" fill="#FDE1DF"/><circle cx="1391.5" cy="565.0" r="3.2" fill="#FF4F8A"/><circle cx="414.5" cy="370.0" r="3.2" fill="#A5A1CA"/><circle cx="250.0" cy="403.5" r="3.2" fill="#8C2F8B"/><circle cx="617.0" cy="729.5" r="3.2" fill="#8C2F8B"/><circle cx="668.0" cy="700.0" r="3.2" fill="#8C2F8B"/><circle cx="354.0" cy="284.0" r="3.2" fill="#02D9D7"/><circle cx="485.5" cy="279.5" r="3.2" fill="#02D9D7"/><circle cx="291.5" cy="733.5" r="3.2" fill="#02D9D7"/><circle cx="209.5" cy="569.5" r="3.2" fill="#02D9D7"/><circle cx="260.5" cy="307.5" r="3.2" fill="#8476AB"/><circle cx="662.0" cy="263.0" r="3.2" fill="#E496B6"/><circle cx="149.5" cy="667.5" r="3.2" fill="#8476AB"/><circle cx="206.0" cy="749.0" r="3.2" fill="#8476AB"/><circle cx="214.5" cy="379.0" r="3.2" fill="#E496B6"/><circle cx="518.5" cy="609.5" r="3.1" fill="#FF4F8A"/><circle cx="337.5" cy="394.0" r="3.1" fill="#FDE1DF"/><circle cx="1575.0" cy="627.0" r="3.1" fill="#FDE1DF"/><circle cx="1314.5" cy="534.0" r="3.1" fill="#FDE1DF"/><circle cx="1563.5" cy="637.5" r="3.1" fill="#FDE1DF"/><circle cx="429.5" cy="500.5" r="3.0" fill="#FF4F8A"/><circle cx="424.0" cy="370.0" r="3.0" fill="#FDE1DF"/><circle cx="734.0" cy="439.5" r="3.0" fill="#02D9D7"/><circle cx="391.5" cy="407.5" r="3.0" fill="#FDE1DF"/><circle cx="600.0" cy="762.0" r="3.0" fill="#8C2F8B"/><circle cx="664.0" cy="728.0" r="3.0" fill="#02D9D7"/><circle cx="249.5" cy="490.5" r="3.0" fill="#8C2F8B"/><circle cx="568.5" cy="235.5" r="3.0" fill="#02D9D7"/><circle cx="205.0" cy="611.5" r="3.0" fill="#02D9D7"/><circle cx="274.0" cy="712.0" r="3.0" fill="#02D9D7"/><circle cx="724.5" cy="412.0" r="3.0" fill="#02D9D7"/><circle cx="637.5" cy="752.5" r="3.0" fill="#02D9D7"/><circle cx="296.5" cy="312.5" r="3.0" fill="#02D9D7"/><circle cx="614.0" cy="219.5" r="3.0" fill="#8476AB"/><circle cx="159.0" cy="716.0" r="3.0" fill="#8476AB"/><circle cx="350.5" cy="843.5" r="3.0" fill="#E496B6"/><circle cx="146.0" cy="691.0" r="3.0" fill="#8476AB"/><circle cx="426.0" cy="207.0" r="3.0" fill="#8476AB"/><circle cx="416.0" cy="209.0" r="3.0" fill="#8476AB"/><circle cx="804.0" cy="429.0" r="3.0" fill="#8476AB"/><circle cx="154.0" cy="423.5" r="3.0" fill="#8476AB"/><circle cx="767.5" cy="725.0" r="3.0" fill="#8476AB"/><circle cx="462.5" cy="889.5" r="3.0" fill="#8476AB"/><circle cx="819.5" cy="575.5" r="3.0" fill="#8476AB"/><circle cx="1461.0" cy="536.0" r="2.9" fill="#FF4F8A"/><circle cx="455.5" cy="579.0" r="2.9" fill="#FF4F8A"/><circle cx="483.0" cy="783.0" r="2.9" fill="#8C2F8B"/><circle cx="369.5" cy="755.0" r="2.9" fill="#8C2F8B"/><circle cx="275.5" cy="375.0" r="2.9" fill="#8C2F8B"/><circle cx="200.5" cy="486.0" r="2.9" fill="#02D9D7"/><circle cx="704.0" cy="403.5" r="2.9" fill="#02D9D7"/><circle cx="674.5" cy="328.5" r="2.9" fill="#8C2F8B"/><circle cx="245.5" cy="670.0" r="2.9" fill="#02D9D7"/><circle cx="232.0" cy="610.5" r="2.9" fill="#8C2F8B"/><circle cx="228.0" cy="475.0" r="2.9" fill="#8C2F8B"/><circle cx="705.0" cy="380.5" r="2.9" fill="#02D9D7"/><circle cx="1341.5" cy="424.5" r="2.9" fill="#02D9D7"/><circle cx="704.5" cy="418.5" r="2.9" fill="#02D9D7"/><circle cx="708.0" cy="424.0" r="2.9" fill="#02D9D7"/><circle cx="1278.0" cy="499.5" r="2.9" fill="#02D9D7"/><circle cx="441.0" cy="275.0" r="2.9" fill="#02D9D7"/><circle cx="1340.5" cy="445.5" r="2.9" fill="#02D9D7"/><circle cx="228.5" cy="617.0" r="2.9" fill="#02D9D7"/><circle cx="217.5" cy="563.5" r="2.9" fill="#02D9D7"/><circle cx="719.0" cy="683.5" r="2.9" fill="#02D9D7"/><circle cx="438.5" cy="809.0" r="2.9" fill="#02D9D7"/><circle cx="374.0" cy="790.5" r="2.9" fill="#02D9D7"/><circle cx="653.0" cy="743.5" r="2.9" fill="#02D9D7"/><circle cx="240.0" cy="663.0" r="2.9" fill="#02D9D7"/><circle cx="1330.5" cy="433.5" r="2.9" fill="#02D9D7"/><circle cx="210.0" cy="426.5" r="2.9" fill="#02D9D7"/><circle cx="359.0" cy="784.0" r="2.9" fill="#02D9D7"/><circle cx="459.0" cy="804.5" r="2.9" fill="#02D9D7"/><circle cx="246.0" cy="679.0" r="2.9" fill="#02D9D7"/><circle cx="639.0" cy="771.5" r="2.9" fill="#02D9D7"/><circle cx="613.0" cy="779.5" r="2.9" fill="#02D9D7"/><circle cx="396.5" cy="279.5" r="2.9" fill="#02D9D7"/><circle cx="159.0" cy="528.0" r="2.9" fill="#E496B6"/><circle cx="485.0" cy="893.5" r="2.9" fill="#8476AB"/><circle cx="276.5" cy="798.0" r="2.9" fill="#8476AB"/><circle cx="259.0" cy="805.0" r="2.9" fill="#8476AB"/><circle cx="581.0" cy="853.5" r="2.9" fill="#8476AB"/><circle cx="675.5" cy="255.0" r="2.9" fill="#E496B6"/><circle cx="378.5" cy="850.0" r="2.9" fill="#E496B6"/><circle cx="444.0" cy="913.0" r="2.9" fill="#8476AB"/><circle cx="1368.2" cy="653.7" r="2.9" fill="#FDE1DF"/><circle cx="1568.5" cy="453.7" r="2.9" fill="#02D9D7"/><circle cx="1580.1" cy="455.6" r="2.9" fill="#02D9D7"/><circle cx="1304.2" cy="668.0" r="2.9" fill="#02D9D7"/><circle cx="1298.1" cy="480.6" r="2.9" fill="#02D9D7"/><circle cx="1558.2" cy="427.8" r="2.9" fill="#02D9D7"/><circle cx="1521.2" cy="521.0" r="2.9" fill="#FDE1DF"/><circle cx="1314.9" cy="612.9" r="2.9" fill="#FDE1DF"/><circle cx="1531.3" cy="721.7" r="2.9" fill="#93D1C2"/><circle cx="1415.9" cy="413.1" r="2.9" fill="#02D9D7"/><circle cx="1383.3" cy="406.3" r="2.9" fill="#02D9D7"/><circle cx="1380.1" cy="734.1" r="2.9" fill="#93D1C2"/><circle cx="1425.9" cy="407.0" r="2.9" fill="#02D9D7"/><circle cx="1443.0" cy="396.8" r="2.9" fill="#02D9D7"/><circle cx="1454.6" cy="742.0" r="2.9" fill="#02D9D7"/><circle cx="390.0" cy="767.5" r="2.8" fill="#8C2F8B"/><circle cx="510.0" cy="778.0" r="2.8" fill="#02D9D7"/><circle cx="399.5" cy="782.5" r="2.8" fill="#8C2F8B"/><circle cx="430.5" cy="785.5" r="2.8" fill="#8C2F8B"/><circle cx="529.0" cy="831.0" r="2.8" fill="#8C2F8B"/><circle cx="1310.0" cy="665.0" r="2.8" fill="#02D9D7"/><circle cx="217.5" cy="459.5" r="2.8" fill="#02D9D7"/><circle cx="196.0" cy="522.0" r="2.8" fill="#02D9D7"/><circle cx="1305.0" cy="460.0" r="2.8" fill="#02D9D7"/><circle cx="724.5" cy="420.5" r="2.8" fill="#02D9D7"/><circle cx="619.5" cy="309.0" r="2.8" fill="#02D9D7"/><circle cx="490.5" cy="819.0" r="2.8" fill="#02D9D7"/><circle cx="249.0" cy="651.5" r="2.8" fill="#02D9D7"/><circle cx="231.0" cy="378.0" r="2.8" fill="#02D9D7"/><circle cx="1471.0" cy="400.5" r="2.8" fill="#02D9D7"/><circle cx="285.0" cy="352.0" r="2.8" fill="#02D9D7"/><circle cx="403.5" cy="239.0" r="2.8" fill="#949C9F"/><circle cx="509.0" cy="251.0" r="2.8" fill="#037C8E"/><circle cx="331.5" cy="274.5" r="2.8" fill="#93D1C2"/><circle cx="529.5" cy="256.5" r="2.8" fill="#93D1C2"/><circle cx="477.5" cy="253.5" r="2.8" fill="#02D9D7"/><circle cx="535.0" cy="260.0" r="2.8" fill="#949C9F"/><circle cx="485.5" cy="253.5" r="2.8" fill="#93D1C2"/><circle cx="241.5" cy="338.5" r="2.8" fill="#93D1C2"/><circle cx="325.5" cy="296.0" r="2.8" fill="#E496B6"/><circle cx="521.0" cy="255.5" r="2.8" fill="#949C9F"/><circle cx="735.0" cy="400.0" r="2.8" fill="#949C9F"/><circle cx="765.5" cy="495.5" r="2.8" fill="#037C8E"/><circle cx="215.0" cy="700.0" r="2.8" fill="#949C9F"/><circle cx="716.5" cy="364.0" r="2.8" fill="#93D1C2"/><circle cx="714.5" cy="352.0" r="2.8" fill="#02D9D7"/><circle cx="544.5" cy="260.0" r="2.8" fill="#949C9F"/><circle cx="492.0" cy="255.5" r="2.8" fill="#949C9F"/><circle cx="199.5" cy="422.0" r="2.8" fill="#93D1C2"/><circle cx="736.0" cy="408.0" r="2.8" fill="#93D1C2"/><circle cx="268.0" cy="756.0" r="2.8" fill="#93D1C2"/><circle cx="500.0" cy="255.5" r="2.8" fill="#93D1C2"/><circle cx="330.5" cy="284.5" r="2.8" fill="#93D1C2"/><circle cx="169.5" cy="554.5" r="2.8" fill="#E496B6"/><circle cx="328.5" cy="290.5" r="2.8" fill="#949C9F"/><circle cx="394.5" cy="837.0" r="2.8" fill="#E496B6"/><circle cx="588.0" cy="824.5" r="2.8" fill="#949C9F"/><circle cx="754.5" cy="435.5" r="2.8" fill="#93D1C2"/><circle cx="472.5" cy="845.0" r="2.8" fill="#037C8E"/><circle cx="1598.5" cy="488.0" r="2.8" fill="#93D1C2"/><circle cx="191.5" cy="457.0" r="2.8" fill="#93D1C2"/><circle cx="213.0" cy="405.5" r="2.8" fill="#E496B6"/><circle cx="676.5" cy="312.0" r="2.8" fill="#E496B6"/><circle cx="766.5" cy="505.5" r="2.8" fill="#949C9F"/><circle cx="704.5" cy="725.0" r="2.8" fill="#02D9D7"/><circle cx="242.0" cy="732.0" r="2.8" fill="#93D1C2"/><circle cx="171.5" cy="545.0" r="2.8" fill="#037C8E"/><circle cx="450.0" cy="853.0" r="2.8" fill="#037C8E"/><circle cx="197.5" cy="664.0" r="2.8" fill="#949C9F"/><circle cx="189.5" cy="635.5" r="2.8" fill="#949C9F"/><circle cx="189.5" cy="444.5" r="2.8" fill="#949C9F"/><circle cx="580.5" cy="231.0" r="2.8" fill="#949C9F"/><circle cx="508.0" cy="241.0" r="2.8" fill="#93D1C2"/><circle cx="187.0" cy="461.5" r="2.8" fill="#949C9F"/><circle cx="184.5" cy="468.5" r="2.8" fill="#93D1C2"/><circle cx="150.5" cy="574.5" r="2.8" fill="#949C9F"/><circle cx="275.5" cy="761.5" r="2.8" fill="#949C9F"/><circle cx="191.5" cy="641.5" r="2.8" fill="#949C9F"/><circle cx="443.5" cy="850.5" r="2.8" fill="#037C8E"/><circle cx="729.0" cy="373.5" r="2.8" fill="#02D9D7"/><circle cx="465.5" cy="847.5" r="2.8" fill="#949C9F"/><circle cx="599.0" cy="819.0" r="2.8" fill="#949C9F"/><circle cx="176.0" cy="606.5" r="2.8" fill="#037C8E"/><circle cx="766.5" cy="666.5" r="2.8" fill="#949C9F"/><circle cx="690.0" cy="758.5" r="2.8" fill="#949C9F"/><circle cx="647.0" cy="301.5" r="2.8" fill="#93D1C2"/><circle cx="457.0" cy="852.5" r="2.8" fill="#93D1C2"/><circle cx="371.0" cy="258.5" r="2.8" fill="#949C9F"/><circle cx="392.5" cy="233.5" r="2.8" fill="#E496B6"/><circle cx="558.5" cy="233.5" r="2.8" fill="#93D1C2"/><circle cx="729.5" cy="704.5" r="2.8" fill="#E496B6"/><circle cx="424.5" cy="840.0" r="2.8" fill="#949C9F"/><circle cx="185.0" cy="475.0" r="2.8" fill="#037C8E"/><circle cx="782.5" cy="464.5" r="2.8" fill="#037C8E"/><circle cx="692.0" cy="750.5" r="2.8" fill="#037C8E"/><circle cx="354.0" cy="824.5" r="2.8" fill="#93D1C2"/><circle cx="612.0" cy="280.5" r="2.8" fill="#E496B6"/><circle cx="303.5" cy="294.5" r="2.8" fill="#02D9D7"/><circle cx="736.5" cy="695.5" r="2.8" fill="#E496B6"/><circle cx="231.0" cy="708.5" r="2.8" fill="#93D1C2"/><circle cx="438.0" cy="846.0" r="2.8" fill="#93D1C2"/><circle cx="369.0" cy="818.0" r="2.8" fill="#949C9F"/><circle cx="477.0" cy="849.5" r="2.8" fill="#93D1C2"/><circle cx="364.0" cy="260.5" r="2.8" fill="#949C9F"/><circle cx="170.0" cy="539.0" r="2.8" fill="#93D1C2"/><circle cx="294.0" cy="777.0" r="2.8" fill="#949C9F"/><circle cx="410.5" cy="840.5" r="2.8" fill="#93D1C2"/><circle cx="778.0" cy="529.5" r="2.8" fill="#93D1C2"/><circle cx="740.5" cy="431.5" r="2.8" fill="#037C8E"/><circle cx="743.5" cy="335.0" r="2.8" fill="#E496B6"/><circle cx="382.5" cy="254.5" r="2.8" fill="#93D1C2"/><circle cx="1273.5" cy="625.5" r="2.8" fill="#93D1C2"/><circle cx="560.0" cy="241.0" r="2.8" fill="#949C9F"/><circle cx="184.5" cy="615.5" r="2.8" fill="#949C9F"/><circle cx="733.0" cy="416.0" r="2.8" fill="#93D1C2"/><circle cx="339.5" cy="820.5" r="2.8" fill="#037C8E"/><circle cx="628.5" cy="286.0" r="2.8" fill="#037C8E"/><circle cx="464.5" cy="255.0" r="2.8" fill="#037C8E"/><circle cx="721.5" cy="368.0" r="2.8" fill="#949C9F"/><circle cx="727.5" cy="384.0" r="2.8" fill="#949C9F"/><circle cx="677.5" cy="319.0" r="2.8" fill="#93D1C2"/><circle cx="222.0" cy="372.5" r="2.8" fill="#949C9F"/><circle cx="223.0" cy="383.5" r="2.8" fill="#949C9F"/><circle cx="284.0" cy="761.5" r="2.8" fill="#93D1C2"/><circle cx="268.5" cy="314.0" r="2.8" fill="#93D1C2"/><circle cx="661.5" cy="780.5" r="2.8" fill="#949C9F"/><circle cx="162.0" cy="559.5" r="2.8" fill="#02D9D7"/><circle cx="203.0" cy="433.0" r="2.8" fill="#949C9F"/><circle cx="330.5" cy="806.0" r="2.8" fill="#93D1C2"/><circle cx="600.5" cy="812.0" r="2.8" fill="#949C9F"/><circle cx="779.5" cy="542.5" r="2.8" fill="#949C9F"/><circle cx="618.5" cy="786.5" r="2.8" fill="#93D1C2"/><circle cx="401.0" cy="837.5" r="2.8" fill="#037C8E"/><circle cx="608.5" cy="272.0" r="2.8" fill="#949C9F"/><circle cx="512.0" cy="838.0" r="2.8" fill="#93D1C2"/><circle cx="289.5" cy="764.5" r="2.8" fill="#93D1C2"/><circle cx="233.0" cy="332.5" r="2.8" fill="#93D1C2"/><circle cx="802.0" cy="636.5" r="2.8" fill="#949C9F"/><circle cx="205.5" cy="680.5" r="2.8" fill="#037C8E"/><circle cx="290.0" cy="306.5" r="2.8" fill="#93D1C2"/><circle cx="565.0" cy="833.0" r="2.8" fill="#949C9F"/><circle cx="241.0" cy="352.0" r="2.8" fill="#949C9F"/><circle cx="730.5" cy="393.0" r="2.8" fill="#02D9D7"/><circle cx="734.5" cy="426.0" r="2.8" fill="#E496B6"/><circle cx="782.0" cy="608.0" r="2.8" fill="#02D9D7"/><circle cx="293.0" cy="769.5" r="2.8" fill="#93D1C2"/><circle cx="234.5" cy="731.5" r="2.8" fill="#949C9F"/><circle cx="487.0" cy="851.5" r="2.8" fill="#949C9F"/><circle cx="380.5" cy="815.5" r="2.8" fill="#037C8E"/><circle cx="637.0" cy="780.0" r="2.8" fill="#93D1C2"/><circle cx="764.0" cy="512.0" r="2.8" fill="#E496B6"/><circle cx="210.5" cy="414.5" r="2.8" fill="#949C9F"/><circle cx="667.0" cy="774.0" r="2.8" fill="#02D9D7"/><circle cx="620.0" cy="284.5" r="2.8" fill="#93D1C2"/><circle cx="317.5" cy="784.0" r="2.8" fill="#949C9F"/><circle cx="649.0" cy="784.0" r="2.8" fill="#949C9F"/><circle cx="215.0" cy="688.0" r="2.8" fill="#93D1C2"/><circle cx="435.5" cy="248.5" r="2.8" fill="#949C9F"/><circle cx="385.5" cy="845.0" r="2.8" fill="#949C9F"/><circle cx="251.5" cy="719.5" r="2.8" fill="#949C9F"/><circle cx="174.5" cy="500.5" r="2.8" fill="#93D1C2"/><circle cx="228.5" cy="388.0" r="2.8" fill="#037C8E"/><circle cx="604.0" cy="237.0" r="2.8" fill="#02D9D7"/><circle cx="550.0" cy="264.5" r="2.8" fill="#949C9F"/><circle cx="544.5" cy="226.0" r="2.8" fill="#037C8E"/><circle cx="192.5" cy="480.5" r="2.8" fill="#E496B6"/><circle cx="299.5" cy="300.0" r="2.8" fill="#949C9F"/><circle cx="634.5" cy="797.5" r="2.8" fill="#949C9F"/><circle cx="651.5" cy="307.5" r="2.8" fill="#E496B6"/><circle cx="284.5" cy="316.0" r="2.8" fill="#949C9F"/><circle cx="228.5" cy="401.0" r="2.8" fill="#037C8E"/><circle cx="271.5" cy="748.0" r="2.8" fill="#02D9D7"/><circle cx="234.0" cy="366.0" r="2.8" fill="#E496B6"/><circle cx="192.0" cy="614.5" r="2.8" fill="#93D1C2"/><circle cx="644.0" cy="780.0" r="2.8" fill="#02D9D7"/><circle cx="239.0" cy="359.5" r="2.8" fill="#037C8E"/><circle cx="1349.0" cy="717.5" r="2.8" fill="#93D1C2"/><circle cx="751.0" cy="366.5" r="2.8" fill="#949C9F"/><circle cx="228.0" cy="370.5" r="2.8" fill="#E496B6"/><circle cx="441.5" cy="243.5" r="2.8" fill="#93D1C2"/><circle cx="660.0" cy="312.5" r="2.8" fill="#949C9F"/><circle cx="469.5" cy="824.0" r="2.8" fill="#037C8E"/><circle cx="703.5" cy="348.5" r="2.8" fill="#949C9F"/><circle cx="739.0" cy="685.0" r="2.8" fill="#E496B6"/><circle cx="555.0" cy="828.5" r="2.8" fill="#93D1C2"/><circle cx="790.5" cy="472.5" r="2.8" fill="#949C9F"/><circle cx="314.0" cy="297.5" r="2.8" fill="#949C9F"/><circle cx="704.0" cy="372.5" r="2.8" fill="#949C9F"/><circle cx="668.5" cy="313.0" r="2.8" fill="#037C8E"/><circle cx="230.5" cy="394.0" r="2.8" fill="#949C9F"/><circle cx="219.5" cy="405.5" r="2.8" fill="#E496B6"/><circle cx="756.5" cy="494.5" r="2.8" fill="#93D1C2"/><circle cx="1289.5" cy="485.5" r="2.8" fill="#93D1C2"/><circle cx="767.0" cy="572.5" r="2.8" fill="#93D1C2"/><circle cx="424.0" cy="250.5" r="2.8" fill="#949C9F"/><circle cx="197.0" cy="609.0" r="2.8" fill="#93D1C2"/><circle cx="530.5" cy="839.0" r="2.8" fill="#02D9D7"/><circle cx="748.0" cy="682.5" r="2.8" fill="#E496B6"/><circle cx="552.5" cy="229.0" r="2.8" fill="#E496B6"/><circle cx="781.0" cy="628.5" r="2.8" fill="#949C9F"/><circle cx="477.0" cy="839.5" r="2.8" fill="#93D1C2"/><circle cx="388.0" cy="819.0" r="2.8" fill="#93D1C2"/><circle cx="1613.5" cy="519.0" r="2.8" fill="#949C9F"/><circle cx="784.0" cy="564.5" r="2.8" fill="#E496B6"/><circle cx="346.0" cy="822.5" r="2.8" fill="#02D9D7"/><circle cx="247.0" cy="737.5" r="2.8" fill="#93D1C2"/><circle cx="711.0" cy="369.0" r="2.8" fill="#949C9F"/><circle cx="1337.5" cy="717.5" r="2.8" fill="#02D9D7"/><circle cx="770.5" cy="593.0" r="2.8" fill="#E496B6"/><circle cx="678.0" cy="771.5" r="2.8" fill="#E496B6"/><circle cx="187.0" cy="502.0" r="2.8" fill="#93D1C2"/><circle cx="711.0" cy="733.0" r="2.8" fill="#949C9F"/><circle cx="751.0" cy="487.5" r="2.8" fill="#E496B6"/><circle cx="226.0" cy="329.5" r="2.8" fill="#93D1C2"/><circle cx="612.0" cy="258.0" r="2.8" fill="#93D1C2"/><circle cx="754.0" cy="359.5" r="2.8" fill="#E496B6"/><circle cx="801.5" cy="663.0" r="2.8" fill="#037C8E"/><circle cx="685.0" cy="294.5" r="2.8" fill="#949C9F"/><circle cx="284.0" cy="795.0" r="2.8" fill="#949C9F"/><circle cx="1538.5" cy="722.5" r="2.8" fill="#93D1C2"/><circle cx="632.0" cy="292.0" r="2.8" fill="#949C9F"/><circle cx="777.5" cy="595.5" r="2.8" fill="#E496B6"/><circle cx="624.5" cy="812.0" r="2.8" fill="#93D1C2"/><circle cx="225.5" cy="704.5" r="2.8" fill="#949C9F"/><circle cx="1299.5" cy="470.0" r="2.8" fill="#037C8E"/><circle cx="753.0" cy="480.0" r="2.8" fill="#93D1C2"/><circle cx="1598.5" cy="479.5" r="2.8" fill="#02D9D7"/><circle cx="533.0" cy="231.0" r="2.8" fill="#93D1C2"/><circle cx="478.0" cy="833.0" r="2.8" fill="#949C9F"/><circle cx="735.0" cy="731.0" r="2.8" fill="#93D1C2"/><circle cx="636.5" cy="254.0" r="2.8" fill="#949C9F"/><circle cx="616.5" cy="811.5" r="2.8" fill="#949C9F"/><circle cx="751.5" cy="671.5" r="2.8" fill="#037C8E"/><circle cx="454.5" cy="245.5" r="2.8" fill="#E496B6"/><circle cx="705.5" cy="281.0" r="2.8" fill="#93D1C2"/><circle cx="610.0" cy="265.0" r="2.8" fill="#02D9D7"/><circle cx="788.5" cy="491.5" r="2.8" fill="#E496B6"/><circle cx="420.5" cy="215.0" r="2.8" fill="#949C9F"/><circle cx="270.0" cy="776.5" r="2.8" fill="#037C8E"/><circle cx="1276.5" cy="632.5" r="2.8" fill="#949C9F"/><circle cx="227.0" cy="722.0" r="2.8" fill="#949C9F"/><circle cx="1454.0" cy="756.5" r="2.8" fill="#93D1C2"/><circle cx="544.0" cy="835.5" r="2.8" fill="#949C9F"/><circle cx="778.0" cy="448.5" r="2.8" fill="#949C9F"/><circle cx="400.5" cy="247.5" r="2.8" fill="#037C8E"/><circle cx="324.0" cy="270.5" r="2.8" fill="#949C9F"/><circle cx="406.5" cy="231.0" r="2.8" fill="#949C9F"/><circle cx="600.5" cy="804.0" r="2.8" fill="#E496B6"/><circle cx="410.5" cy="242.5" r="2.8" fill="#93D1C2"/><circle cx="168.5" cy="604.5" r="2.8" fill="#949C9F"/><circle cx="432.5" cy="840.5" r="2.8" fill="#037C8E"/><circle cx="188.0" cy="628.0" r="2.8" fill="#949C9F"/><circle cx="300.0" cy="782.0" r="2.8" fill="#037C8E"/><circle cx="748.5" cy="431.0" r="2.8" fill="#949C9F"/><circle cx="775.0" cy="548.5" r="2.8" fill="#93D1C2"/><circle cx="276.0" cy="317.0" r="2.8" fill="#93D1C2"/><circle cx="513.5" cy="257.0" r="2.8" fill="#949C9F"/><circle cx="474.5" cy="247.0" r="2.8" fill="#949C9F"/><circle cx="389.5" cy="255.5" r="2.8" fill="#949C9F"/><circle cx="243.5" cy="345.5" r="2.8" fill="#E496B6"/><circle cx="152.0" cy="581.5" r="2.8" fill="#949C9F"/><circle cx="417.5" cy="838.5" r="2.8" fill="#E496B6"/><circle cx="706.0" cy="718.0" r="2.8" fill="#E496B6"/><circle cx="516.0" cy="250.0" r="2.8" fill="#949C9F"/><circle cx="194.0" cy="450.5" r="2.8" fill="#949C9F"/><circle cx="1274.5" cy="618.5" r="2.8" fill="#93D1C2"/><circle cx="471.5" cy="257.0" r="2.8" fill="#949C9F"/><circle cx="566.5" cy="243.5" r="2.8" fill="#E496B6"/><circle cx="247.5" cy="335.0" r="2.8" fill="#93D1C2"/><circle cx="777.5" cy="613.0" r="2.8" fill="#949C9F"/><circle cx="198.5" cy="657.0" r="2.8" fill="#E496B6"/><circle cx="612.0" cy="789.0" r="2.8" fill="#949C9F"/><circle cx="698.0" cy="727.0" r="2.8" fill="#93D1C2"/><circle cx="458.5" cy="251.5" r="2.8" fill="#949C9F"/><circle cx="462.5" cy="824.5" r="2.8" fill="#E496B6"/><circle cx="630.5" cy="792.0" r="2.8" fill="#93D1C2"/><circle cx="687.0" cy="745.5" r="2.8" fill="#949C9F"/><circle cx="246.0" cy="723.5" r="2.8" fill="#93D1C2"/><circle cx="337.0" cy="270.5" r="2.8" fill="#93D1C2"/><circle cx="206.0" cy="419.5" r="2.8" fill="#949C9F"/><circle cx="530.5" cy="249.5" r="2.8" fill="#E496B6"/><circle cx="506.5" cy="257.5" r="2.8" fill="#93D1C2"/><circle cx="400.0" cy="233.0" r="2.8" fill="#949C9F"/><circle cx="761.0" cy="438.5" r="2.8" fill="#949C9F"/><circle cx="322.0" cy="789.0" r="2.8" fill="#93D1C2"/><circle cx="604.0" cy="823.5" r="2.8" fill="#93D1C2"/><circle cx="393.0" cy="830.5" r="2.8" fill="#93D1C2"/><circle cx="686.0" cy="764.0" r="2.8" fill="#037C8E"/><circle cx="650.5" cy="791.0" r="2.8" fill="#949C9F"/><circle cx="396.0" cy="252.5" r="2.8" fill="#037C8E"/><circle cx="330.0" cy="267.5" r="2.8" fill="#949C9F"/><circle cx="166.5" cy="452.5" r="2.8" fill="#8476AB"/><circle cx="377.5" cy="218.5" r="2.8" fill="#8476AB"/><circle cx="313.0" cy="252.5" r="2.8" fill="#E496B6"/><circle cx="181.5" cy="368.0" r="2.8" fill="#8476AB"/><circle cx="383.5" cy="230.5" r="2.8" fill="#E496B6"/><circle cx="159.5" cy="473.5" r="2.8" fill="#E496B6"/><circle cx="750.5" cy="750.0" r="2.8" fill="#8476AB"/><circle cx="168.0" cy="631.5" r="2.8" fill="#E496B6"/><circle cx="245.5" cy="784.5" r="2.8" fill="#E496B6"/><circle cx="482.8" cy="501.9" r="2.8" fill="#FF4F8A"/><circle cx="508.2" cy="411.8" r="2.8" fill="#FDE1DF"/><circle cx="512.0" cy="232.5" r="2.7" fill="#93D1C2"/><circle cx="195.0" cy="690.5" r="2.7" fill="#93D1C2"/><circle cx="195.0" cy="416.0" r="2.7" fill="#E496B6"/><circle cx="156.0" cy="593.0" r="2.7" fill="#02D9D7"/><circle cx="1377.0" cy="404.0" r="2.7" fill="#949C9F"/><circle cx="168.0" cy="504.5" r="2.7" fill="#93D1C2"/><circle cx="681.5" cy="303.0" r="2.7" fill="#02D9D7"/><circle cx="785.5" cy="523.0" r="2.7" fill="#02D9D7"/><circle cx="360.0" cy="820.0" r="2.7" fill="#949C9F"/><circle cx="417.0" cy="264.5" r="2.7" fill="#93D1C2"/><circle cx="278.5" cy="785.0" r="2.7" fill="#037C8E"/><circle cx="796.5" cy="667.0" r="2.7" fill="#949C9F"/><circle cx="335.0" cy="280.0" r="2.7" fill="#93D1C2"/><circle cx="1609.0" cy="524.0" r="2.7" fill="#949C9F"/><circle cx="396.5" cy="239.0" r="2.7" fill="#949C9F"/><circle cx="718.0" cy="357.5" r="2.7" fill="#93D1C2"/><circle cx="780.5" cy="458.0" r="2.7" fill="#949C9F"/><circle cx="215.5" cy="371.0" r="2.7" fill="#949C9F"/><circle cx="481.5" cy="258.5" r="2.7" fill="#949C9F"/><circle cx="538.0" cy="227.0" r="2.7" fill="#93D1C2"/><circle cx="592.5" cy="820.0" r="2.7" fill="#949C9F"/><circle cx="699.0" cy="750.5" r="2.7" fill="#949C9F"/><circle cx="743.0" cy="408.5" r="2.7" fill="#949C9F"/><circle cx="409.5" cy="225.0" r="2.7" fill="#949C9F"/><circle cx="607.5" cy="326.0" r="2.6" fill="#02D9D7"/><circle cx="1549.5" cy="469.5" r="2.6" fill="#8C2F8B"/><circle cx="195.0" cy="502.0" r="2.6" fill="#8C2F8B"/><circle cx="217.0" cy="572.5" r="2.6" fill="#8C2F8B"/><circle cx="341.0" cy="385.5" r="2.6" fill="#8C2F8B"/><circle cx="224.5" cy="532.0" r="2.6" fill="#8C2F8B"/><circle cx="258.5" cy="394.5" r="2.6" fill="#8C2F8B"/><circle cx="448.5" cy="802.5" r="2.6" fill="#8C2F8B"/><circle cx="1342.0" cy="699.5" r="2.6" fill="#8C2F8B"/><circle cx="756.0" cy="536.0" r="2.6" fill="#02D9D7"/><circle cx="280.0" cy="357.0" r="2.6" fill="#02D9D7"/><circle cx="710.0" cy="407.5" r="2.6" fill="#02D9D7"/><circle cx="709.0" cy="399.0" r="2.6" fill="#02D9D7"/><circle cx="254.0" cy="333.0" r="2.6" fill="#02D9D7"/><circle cx="663.5" cy="739.0" r="2.6" fill="#02D9D7"/><circle cx="734.0" cy="573.0" r="2.6" fill="#02D9D7"/><circle cx="1291.0" cy="653.0" r="2.6" fill="#02D9D7"/><circle cx="194.0" cy="622.5" r="2.6" fill="#02D9D7"/><circle cx="385.5" cy="264.0" r="2.6" fill="#02D9D7"/><circle cx="246.0" cy="397.0" r="2.6" fill="#02D9D7"/><circle cx="657.0" cy="320.0" r="2.6" fill="#02D9D7"/><circle cx="359.5" cy="269.0" r="2.6" fill="#02D9D7"/><circle cx="729.0" cy="432.0" r="2.6" fill="#93D1C2"/><circle cx="1283.5" cy="492.0" r="2.6" fill="#02D9D7"/><circle cx="669.0" cy="733.0" r="2.6" fill="#02D9D7"/><circle cx="499.0" cy="799.0" r="2.6" fill="#02D9D7"/><circle cx="405.5" cy="786.0" r="2.6" fill="#02D9D7"/><circle cx="679.5" cy="745.0" r="2.6" fill="#02D9D7"/><circle cx="655.0" cy="754.5" r="2.6" fill="#02D9D7"/><circle cx="803.0" cy="505.0" r="2.6" fill="#8476AB"/><circle cx="483.0" cy="207.5" r="2.6" fill="#8476AB"/><circle cx="579.0" cy="210.0" r="2.6" fill="#8476AB"/><circle cx="171.5" cy="476.5" r="2.6" fill="#E496B6"/><circle cx="437.0" cy="857.0" r="2.6" fill="#E496B6"/><circle cx="712.5" cy="749.5" r="2.6" fill="#E496B6"/><circle cx="189.5" cy="657.5" r="2.6" fill="#E496B6"/><circle cx="209.5" cy="374.0" r="2.6" fill="#E496B6"/><circle cx="369.0" cy="213.5" r="2.6" fill="#8476AB"/><circle cx="175.0" cy="384.0" r="2.6" fill="#8476AB"/><circle cx="633.5" cy="834.0" r="2.6" fill="#8476AB"/><circle cx="329.0" cy="830.0" r="2.6" fill="#E496B6"/><circle cx="826.0" cy="552.0" r="2.6" fill="#8476AB"/><circle cx="571.0" cy="839.5" r="2.6" fill="#E496B6"/><circle cx="634.0" cy="848.5" r="2.6" fill="#8476AB"/><circle cx="536.5" cy="836.0" r="2.5" fill="#E496B6"/><circle cx="178.0" cy="478.5" r="2.5" fill="#037C8E"/><circle cx="1382.5" cy="728.0" r="2.5" fill="#93D1C2"/><circle cx="260.5" cy="725.5" r="2.5" fill="#93D1C2"/><circle cx="166.0" cy="527.5" r="2.5" fill="#93D1C2"/><circle cx="459.5" cy="235.5" r="2.5" fill="#949C9F"/><circle cx="300.5" cy="282.0" r="2.5" fill="#949C9F"/><circle cx="721.5" cy="705.5" r="2.5" fill="#949C9F"/><circle cx="443.5" cy="229.5" r="2.5" fill="#037C8E"/><circle cx="287.5" cy="820.0" r="2.5" fill="#949C9F"/><circle cx="194.0" cy="486.5" r="2.5" fill="#93D1C2"/><circle cx="778.5" cy="536.0" r="2.5" fill="#93D1C2"/><circle cx="789.5" cy="562.5" r="2.5" fill="#949C9F"/><circle cx="529.0" cy="263.0" r="2.5" fill="#949C9F"/><circle cx="320.0" cy="299.5" r="2.5" fill="#93D1C2"/><circle cx="327.0" cy="279.0" r="2.5" fill="#037C8E"/><circle cx="487.5" cy="247.5" r="2.5" fill="#949C9F"/><circle cx="211.5" cy="682.5" r="2.5" fill="#E496B6"/><circle cx="506.0" cy="836.0" r="2.5" fill="#93D1C2"/><circle cx="481.5" cy="248.5" r="2.5" fill="#93D1C2"/><circle cx="329.0" cy="301.5" r="2.5" fill="#949C9F"/><circle cx="239.5" cy="332.5" r="2.5" fill="#93D1C2"/><circle cx="503.5" cy="236.5" r="2.5" fill="#93D1C2"/><circle cx="261.5" cy="754.5" r="2.5" fill="#93D1C2"/><circle cx="217.0" cy="694.0" r="2.5" fill="#949C9F"/><circle cx="207.5" cy="401.5" r="2.5" fill="#93D1C2"/><circle cx="180.5" cy="502.5" r="2.5" fill="#02D9D7"/><circle cx="166.0" cy="534.0" r="2.5" fill="#037C8E"/><circle cx="1352.9" cy="511.7" r="2.5" fill="#FDE1DF"/><circle cx="1340.6" cy="523.6" r="2.5" fill="#FDE1DF"/><circle cx="547.0" cy="777.5" r="2.4" fill="#8C2F8B"/><circle cx="1412.5" cy="707.0" r="2.4" fill="#02D9D7"/><circle cx="1266.5" cy="591.0" r="2.4" fill="#02D9D7"/><circle cx="261.5" cy="378.0" r="2.4" fill="#8C2F8B"/><circle cx="510.5" cy="809.0" r="2.4" fill="#02D9D7"/><circle cx="431.0" cy="798.0" r="2.4" fill="#02D9D7"/><circle cx="277.5" cy="703.0" r="2.4" fill="#8C2F8B"/><circle cx="633.5" cy="348.5" r="2.4" fill="#8C2F8B"/><circle cx="540.5" cy="830.0" r="2.4" fill="#8C2F8B"/><circle cx="515.5" cy="822.5" r="2.4" fill="#8C2F8B"/><circle cx="304.5" cy="306.0" r="2.4" fill="#02D9D7"/><circle cx="617.0" cy="292.0" r="2.4" fill="#02D9D7"/><circle cx="1401.5" cy="403.0" r="2.4" fill="#02D9D7"/><circle cx="646.5" cy="741.5" r="2.4" fill="#02D9D7"/><circle cx="722.0" cy="677.0" r="2.4" fill="#02D9D7"/><circle cx="694.0" cy="681.0" r="2.4" fill="#02D9D7"/><circle cx="352.0" cy="783.0" r="2.4" fill="#02D9D7"/><circle cx="370.0" cy="808.5" r="2.4" fill="#02D9D7"/><circle cx="1576.5" cy="481.0" r="2.4" fill="#02D9D7"/><circle cx="247.5" cy="357.5" r="2.4" fill="#02D9D7"/><circle cx="1267.0" cy="597.0" r="2.4" fill="#02D9D7"/><circle cx="742.5" cy="558.5" r="2.4" fill="#02D9D7"/><circle cx="1262.5" cy="586.0" r="2.4" fill="#02D9D7"/><circle cx="404.0" cy="830.0" r="2.4" fill="#02D9D7"/><circle cx="393.5" cy="787.5" r="2.4" fill="#02D9D7"/><circle cx="702.5" cy="392.0" r="2.4" fill="#02D9D7"/><circle cx="297.0" cy="353.0" r="2.4" fill="#02D9D7"/><circle cx="774.0" cy="669.0" r="2.4" fill="#E496B6"/><circle cx="179.5" cy="739.0" r="2.4" fill="#949C9F"/><circle cx="1603.0" cy="497.0" r="2.4" fill="#93D1C2"/><circle cx="213.0" cy="746.5" r="2.4" fill="#949C9F"/><circle cx="1534.5" cy="727.0" r="2.4" fill="#93D1C2"/><circle cx="377.5" cy="258.5" r="2.4" fill="#949C9F"/><circle cx="358.0" cy="262.0" r="2.4" fill="#93D1C2"/><circle cx="535.0" cy="253.5" r="2.4" fill="#949C9F"/><circle cx="503.0" cy="249.5" r="2.4" fill="#93D1C2"/><circle cx="574.0" cy="230.5" r="2.4" fill="#93D1C2"/><circle cx="731.0" cy="698.5" r="2.4" fill="#93D1C2"/><circle cx="221.5" cy="699.5" r="2.4" fill="#93D1C2"/><circle cx="212.0" cy="705.5" r="2.4" fill="#E496B6"/><circle cx="374.5" cy="814.0" r="2.4" fill="#E496B6"/><circle cx="760.0" cy="432.5" r="2.4" fill="#949C9F"/><circle cx="302.0" cy="288.5" r="2.4" fill="#949C9F"/><circle cx="681.0" cy="324.5" r="2.4" fill="#02D9D7"/><circle cx="747.5" cy="340.0" r="2.4" fill="#949C9F"/><circle cx="179.0" cy="612.5" r="2.4" fill="#949C9F"/><circle cx="463.5" cy="204.0" r="2.4" fill="#8476AB"/><circle cx="506.0" cy="230.5" r="2.4" fill="#E496B6"/><circle cx="345.0" cy="246.0" r="2.4" fill="#8476AB"/><circle cx="637.5" cy="286.0" r="2.4" fill="#E496B6"/><circle cx="136.0" cy="611.5" r="2.4" fill="#8476AB"/><circle cx="795.0" cy="491.0" r="2.4" fill="#8476AB"/><circle cx="149.0" cy="511.0" r="2.4" fill="#E496B6"/><circle cx="263.5" cy="781.5" r="2.4" fill="#E496B6"/><circle cx="610.0" cy="858.0" r="2.4" fill="#E496B6"/><circle cx="147.5" cy="631.5" r="2.4" fill="#8476AB"/><circle cx="753.5" cy="339.0" r="2.4" fill="#8476AB"/><circle cx="760.5" cy="425.0" r="2.4" fill="#E496B6"/><circle cx="796.5" cy="480.0" r="2.4" fill="#8476AB"/><circle cx="130.5" cy="526.0" r="2.4" fill="#8476AB"/><circle cx="130.5" cy="476.0" r="2.4" fill="#8476AB"/><circle cx="450.5" cy="222.0" r="2.4" fill="#E496B6"/><circle cx="464.0" cy="197.5" r="2.4" fill="#8476AB"/><circle cx="226.5" cy="778.5" r="2.4" fill="#8476AB"/><circle cx="566.0" cy="852.5" r="2.4" fill="#E496B6"/><circle cx="474.5" cy="221.0" r="2.4" fill="#E496B6"/><circle cx="380.5" cy="894.5" r="2.4" fill="#8476AB"/><circle cx="157.5" cy="621.0" r="2.4" fill="#8476AB"/><circle cx="296.5" cy="728.5" r="2.3" fill="#8C2F8B"/><circle cx="197.5" cy="514.5" r="2.3" fill="#02D9D7"/><circle cx="675.0" cy="431.0" r="2.3" fill="#8C2F8B"/><circle cx="324.0" cy="327.5" r="2.3" fill="#8C2F8B"/><circle cx="252.5" cy="412.0" r="2.3" fill="#8C2F8B"/><circle cx="425.0" cy="767.5" r="2.3" fill="#8C2F8B"/><circle cx="652.0" cy="737.0" r="2.3" fill="#02D9D7"/><circle cx="454.5" cy="785.5" r="2.3" fill="#8C2F8B"/><circle cx="253.5" cy="657.0" r="2.3" fill="#8C2F8B"/><circle cx="337.5" cy="788.5" r="2.3" fill="#02D9D7"/><circle cx="298.5" cy="762.5" r="2.3" fill="#02D9D7"/><circle cx="550.0" cy="281.0" r="2.3" fill="#02D9D7"/><circle cx="221.5" cy="612.5" r="2.3" fill="#02D9D7"/><circle cx="303.0" cy="336.5" r="2.3" fill="#02D9D7"/><circle cx="751.5" cy="545.0" r="2.3" fill="#02D9D7"/><circle cx="754.0" cy="426.0" r="2.3" fill="#949C9F"/><circle cx="158.0" cy="566.0" r="2.3" fill="#949C9F"/><circle cx="734.5" cy="711.5" r="2.3" fill="#E496B6"/><circle cx="756.0" cy="421.0" r="2.3" fill="#949C9F"/><circle cx="195.0" cy="651.5" r="2.3" fill="#93D1C2"/><circle cx="767.0" cy="489.5" r="2.3" fill="#037C8E"/><circle cx="719.0" cy="348.0" r="2.3" fill="#E496B6"/><circle cx="735.0" cy="372.0" r="2.3" fill="#949C9F"/><circle cx="193.5" cy="423.5" r="2.3" fill="#E496B6"/><circle cx="710.0" cy="348.0" r="2.3" fill="#037C8E"/><circle cx="296.0" cy="305.0" r="2.3" fill="#02D9D7"/><circle cx="539.5" cy="264.0" r="2.3" fill="#949C9F"/><circle cx="540.0" cy="256.0" r="2.3" fill="#02D9D7"/><circle cx="586.5" cy="233.0" r="2.3" fill="#949C9F"/><circle cx="735.0" cy="689.5" r="2.3" fill="#02D9D7"/><circle cx="201.0" cy="669.0" r="2.3" fill="#037C8E"/><circle cx="1353.5" cy="721.5" r="2.3" fill="#037C8E"/><circle cx="389.0" cy="840.0" r="2.3" fill="#E496B6"/><circle cx="482.0" cy="846.0" r="2.3" fill="#02D9D7"/><circle cx="470.0" cy="251.0" r="2.3" fill="#E496B6"/><circle cx="512.0" cy="245.5" r="2.3" fill="#E496B6"/><circle cx="193.5" cy="382.0" r="2.3" fill="#E496B6"/><circle cx="791.0" cy="527.5" r="2.3" fill="#E496B6"/><circle cx="816.0" cy="499.5" r="2.3" fill="#E496B6"/><circle cx="151.0" cy="544.5" r="2.3" fill="#8476AB"/><circle cx="746.0" cy="402.5" r="2.3" fill="#E496B6"/><circle cx="770.0" cy="749.5" r="2.3" fill="#8476AB"/><circle cx="739.0" cy="759.5" r="2.3" fill="#8476AB"/><circle cx="1525.5" cy="526.4" r="2.3" fill="#FDE1DF"/><circle cx="1491.8" cy="630.4" r="2.3" fill="#FDE1DF"/><circle cx="1540.2" cy="729.2" r="2.3" fill="#949C9F"/><circle cx="1620.5" cy="517.4" r="2.3" fill="#E496B6"/><circle cx="1425.0" cy="427.4" r="2.3" fill="#FDE1DF"/><circle cx="1445.5" cy="757.8" r="2.3" fill="#949C9F"/><circle cx="305.5" cy="359.0" r="2.2" fill="#8C2F8B"/><circle cx="393.5" cy="781.0" r="2.2" fill="#02D9D7"/><circle cx="294.5" cy="715.0" r="2.2" fill="#8C2F8B"/><circle cx="270.5" cy="684.0" r="2.2" fill="#8C2F8B"/><circle cx="199.5" cy="647.0" r="2.2" fill="#02D9D7"/><circle cx="171.5" cy="529.5" r="2.2" fill="#02D9D7"/><circle cx="245.5" cy="410.0" r="2.2" fill="#02D9D7"/><circle cx="261.0" cy="372.0" r="2.2" fill="#02D9D7"/><circle cx="205.5" cy="602.0" r="2.2" fill="#02D9D7"/><circle cx="732.5" cy="563.5" r="2.2" fill="#02D9D7"/><circle cx="1415.5" cy="406.5" r="2.2" fill="#02D9D7"/><circle cx="313.0" cy="329.0" r="2.2" fill="#02D9D7"/><circle cx="614.0" cy="326.0" r="2.2" fill="#02D9D7"/><circle cx="653.0" cy="333.0" r="2.2" fill="#02D9D7"/><circle cx="515.5" cy="291.0" r="2.2" fill="#02D9D7"/><circle cx="224.0" cy="470.0" r="2.2" fill="#02D9D7"/><circle cx="494.0" cy="814.0" r="2.2" fill="#02D9D7"/><circle cx="326.0" cy="760.5" r="2.2" fill="#02D9D7"/><circle cx="387.0" cy="236.0" r="2.2" fill="#037C8E"/><circle cx="409.0" cy="236.5" r="2.2" fill="#93D1C2"/><circle cx="268.5" cy="307.5" r="2.2" fill="#949C9F"/><circle cx="764.5" cy="479.5" r="2.2" fill="#949C9F"/><circle cx="1608.5" cy="512.0" r="2.2" fill="#949C9F"/><circle cx="771.5" cy="493.5" r="2.2" fill="#949C9F"/><circle cx="730.5" cy="421.5" r="2.2" fill="#93D1C2"/><circle cx="184.0" cy="437.5" r="2.2" fill="#93D1C2"/><circle cx="203.5" cy="426.5" r="2.2" fill="#949C9F"/><circle cx="741.0" cy="398.5" r="2.2" fill="#949C9F"/><circle cx="1497.0" cy="399.5" r="2.2" fill="#949C9F"/><circle cx="262.5" cy="760.0" r="2.2" fill="#93D1C2"/><circle cx="672.0" cy="770.5" r="2.2" fill="#93D1C2"/><circle cx="357.0" cy="830.0" r="2.2" fill="#949C9F"/><circle cx="779.5" cy="671.0" r="2.2" fill="#949C9F"/><circle cx="208.5" cy="700.5" r="2.2" fill="#93D1C2"/><circle cx="760.0" cy="702.0" r="2.2" fill="#93D1C2"/><circle cx="530.5" cy="846.0" r="2.2" fill="#93D1C2"/><circle cx="549.5" cy="831.5" r="2.2" fill="#949C9F"/><circle cx="742.0" cy="698.0" r="2.2" fill="#93D1C2"/><circle cx="390.5" cy="215.5" r="2.2" fill="#8476AB"/><circle cx="526.0" cy="867.5" r="2.2" fill="#E496B6"/><circle cx="368.5" cy="876.0" r="2.2" fill="#E496B6"/><circle cx="517.2" cy="493.9" r="2.2" fill="#FF4F8A"/><circle cx="351.5" cy="347.5" r="2.1" fill="#8C2F8B"/><circle cx="677.5" cy="394.5" r="2.1" fill="#02D9D7"/><circle cx="631.5" cy="354.0" r="2.1" fill="#8C2F8B"/><circle cx="355.5" cy="778.0" r="2.1" fill="#8C2F8B"/><circle cx="527.0" cy="773.0" r="2.1" fill="#8C2F8B"/><circle cx="333.5" cy="755.5" r="2.1" fill="#02D9D7"/><circle cx="1430.0" cy="711.0" r="2.1" fill="#8C2F8B"/><circle cx="597.5" cy="738.5" r="2.1" fill="#8C2F8B"/><circle cx="1274.0" cy="507.0" r="2.1" fill="#02D9D7"/><circle cx="752.5" cy="528.0" r="2.1" fill="#02D9D7"/><circle cx="238.0" cy="444.5" r="2.1" fill="#02D9D7"/><circle cx="435.0" cy="277.5" r="2.1" fill="#02D9D7"/><circle cx="611.5" cy="320.5" r="2.1" fill="#02D9D7"/><circle cx="1420.0" cy="408.5" r="2.1" fill="#02D9D7"/><circle cx="1430.5" cy="403.0" r="2.1" fill="#02D9D7"/><circle cx="1480.5" cy="748.5" r="2.1" fill="#02D9D7"/><circle cx="271.5" cy="706.0" r="2.1" fill="#02D9D7"/><circle cx="709.5" cy="699.0" r="2.1" fill="#02D9D7"/><circle cx="250.0" cy="689.5" r="2.1" fill="#02D9D7"/><circle cx="1616.5" cy="611.5" r="2.1" fill="#02D9D7"/><circle cx="741.5" cy="575.5" r="2.1" fill="#02D9D7"/><circle cx="742.0" cy="503.5" r="2.1" fill="#02D9D7"/><circle cx="192.0" cy="517.5" r="2.1" fill="#02D9D7"/><circle cx="309.5" cy="768.5" r="2.1" fill="#02D9D7"/><circle cx="368.0" cy="793.0" r="2.1" fill="#02D9D7"/><circle cx="770.0" cy="414.5" r="2.1" fill="#E496B6"/><circle cx="172.0" cy="419.0" r="2.1" fill="#E496B6"/><circle cx="140.0" cy="539.0" r="2.1" fill="#E496B6"/><circle cx="179.0" cy="434.0" r="2.1" fill="#E496B6"/><circle cx="176.5" cy="472.5" r="2.1" fill="#E496B6"/><circle cx="338.0" cy="251.5" r="2.1" fill="#8476AB"/><circle cx="480.5" cy="220.0" r="2.1" fill="#E496B6"/><circle cx="193.0" cy="682.5" r="2.1" fill="#E496B6"/><circle cx="282.0" cy="819.0" r="2.1" fill="#8476AB"/><circle cx="238.0" cy="343.5" r="2.0" fill="#949C9F"/><circle cx="635.0" cy="297.5" r="2.0" fill="#93D1C2"/><circle cx="534.5" cy="266.0" r="2.0" fill="#02D9D7"/><circle cx="523.0" cy="261.0" r="2.0" fill="#02D9D7"/><circle cx="289.5" cy="312.5" r="2.0" fill="#E496B6"/><circle cx="235.5" cy="338.0" r="2.0" fill="#949C9F"/><circle cx="582.0" cy="825.5" r="2.0" fill="#93D1C2"/><circle cx="154.0" cy="587.0" r="2.0" fill="#949C9F"/><circle cx="1623.0" cy="582.5" r="2.0" fill="#949C9F"/><circle cx="229.5" cy="714.5" r="2.0" fill="#93D1C2"/><circle cx="684.5" cy="797.5" r="2.0" fill="#E496B6"/><circle cx="561.5" cy="828.0" r="2.0" fill="#949C9F"/><circle cx="463.0" cy="853.0" r="2.0" fill="#949C9F"/><circle cx="466.5" cy="841.5" r="2.0" fill="#949C9F"/><circle cx="497.0" cy="849.0" r="2.0" fill="#949C9F"/><circle cx="639.5" cy="801.5" r="2.0" fill="#E496B6"/><circle cx="524.5" cy="250.5" r="2.0" fill="#93D1C2"/><circle cx="487.5" cy="259.0" r="2.0" fill="#949C9F"/><circle cx="402.0" cy="253.0" r="2.0" fill="#949C9F"/><circle cx="430.0" cy="251.0" r="2.0" fill="#93D1C2"/><circle cx="406.0" cy="246.0" r="2.0" fill="#949C9F"/><circle cx="598.0" cy="236.0" r="2.0" fill="#93D1C2"/><circle cx="577.0" cy="236.0" r="2.0" fill="#93D1C2"/><circle cx="426.5" cy="214.5" r="2.0" fill="#93D1C2"/><circle cx="450.0" cy="227.5" r="2.0" fill="#949C9F"/><circle cx="416.0" cy="218.5" r="2.0" fill="#93D1C2"/><circle cx="712.5" cy="359.0" r="2.0" fill="#93D1C2"/><circle cx="753.5" cy="353.5" r="2.0" fill="#949C9F"/><circle cx="698.0" cy="352.0" r="2.0" fill="#949C9F"/><circle cx="699.0" cy="345.0" r="2.0" fill="#93D1C2"/><circle cx="738.0" cy="337.0" r="2.0" fill="#93D1C2"/><circle cx="308.0" cy="298.5" r="2.0" fill="#949C9F"/><circle cx="1391.5" cy="392.0" r="2.0" fill="#93D1C2"/><circle cx="1492.0" cy="394.0" r="2.0" fill="#93D1C2"/><circle cx="754.5" cy="371.0" r="2.0" fill="#037C8E"/><circle cx="1510.0" cy="399.5" r="2.0" fill="#93D1C2"/><circle cx="199.0" cy="428.0" r="2.0" fill="#02D9D7"/><circle cx="726.0" cy="378.5" r="2.0" fill="#E496B6"/><circle cx="730.5" cy="379.0" r="2.0" fill="#93D1C2"/><circle cx="726.0" cy="389.5" r="2.0" fill="#949C9F"/><circle cx="188.0" cy="450.5" r="2.0" fill="#949C9F"/><circle cx="785.5" cy="469.5" r="2.0" fill="#E496B6"/><circle cx="633.0" cy="282.0" r="2.0" fill="#02D9D7"/><circle cx="649.0" cy="295.5" r="2.0" fill="#E496B6"/><circle cx="496.0" cy="259.5" r="2.0" fill="#93D1C2"/><circle cx="564.5" cy="263.5" r="2.0" fill="#93D1C2"/><circle cx="556.0" cy="265.0" r="2.0" fill="#93D1C2"/><circle cx="381.0" cy="249.0" r="2.0" fill="#93D1C2"/><circle cx="456.5" cy="230.5" r="2.0" fill="#949C9F"/><circle cx="154.0" cy="569.5" r="2.0" fill="#949C9F"/><circle cx="173.5" cy="558.5" r="2.0" fill="#02D9D7"/><circle cx="173.5" cy="550.5" r="2.0" fill="#93D1C2"/><circle cx="167.5" cy="549.0" r="2.0" fill="#93D1C2"/><circle cx="1613.5" cy="527.5" r="2.0" fill="#949C9F"/><circle cx="166.5" cy="518.5" r="2.0" fill="#949C9F"/><circle cx="190.5" cy="497.5" r="2.0" fill="#E496B6"/><circle cx="769.0" cy="500.0" r="2.0" fill="#93D1C2"/><circle cx="791.0" cy="480.0" r="2.0" fill="#949C9F"/><circle cx="778.0" cy="468.0" r="2.0" fill="#E496B6"/><circle cx="1619.5" cy="575.5" r="2.0" fill="#02D9D7"/><circle cx="146.0" cy="578.5" r="2.0" fill="#037C8E"/><circle cx="764.0" cy="661.0" r="2.0" fill="#E496B6"/><circle cx="191.5" cy="647.5" r="2.0" fill="#949C9F"/><circle cx="776.0" cy="631.5" r="2.0" fill="#93D1C2"/><circle cx="753.0" cy="686.0" r="2.0" fill="#93D1C2"/><circle cx="203.5" cy="674.0" r="2.0" fill="#949C9F"/><circle cx="797.5" cy="574.5" r="2.0" fill="#02D9D7"/><circle cx="253.0" cy="752.5" r="2.0" fill="#949C9F"/><circle cx="311.0" cy="784.0" r="2.0" fill="#949C9F"/><circle cx="260.5" cy="732.0" r="2.0" fill="#E496B6"/><circle cx="334.5" cy="810.5" r="2.0" fill="#949C9F"/><circle cx="280.5" cy="790.5" r="2.0" fill="#949C9F"/><circle cx="337.5" cy="815.0" r="2.0" fill="#E496B6"/><circle cx="590.0" cy="830.0" r="2.0" fill="#E496B6"/><circle cx="412.5" cy="846.0" r="2.0" fill="#93D1C2"/><circle cx="492.5" cy="850.0" r="2.0" fill="#E496B6"/><circle cx="198.0" cy="492.0" r="1.9" fill="#8C2F8B"/><circle cx="303.0" cy="353.0" r="1.9" fill="#8C2F8B"/><circle cx="218.5" cy="531.5" r="1.9" fill="#02D9D7"/><circle cx="231.5" cy="544.0" r="1.9" fill="#8C2F8B"/><circle cx="320.5" cy="724.5" r="1.9" fill="#8C2F8B"/><circle cx="290.5" cy="694.5" r="1.9" fill="#8C2F8B"/><circle cx="582.0" cy="766.0" r="1.9" fill="#8C2F8B"/><circle cx="545.5" cy="827.5" r="1.9" fill="#8C2F8B"/><circle cx="356.5" cy="351.5" r="1.9" fill="#8C2F8B"/><circle cx="694.5" cy="348.0" r="1.9" fill="#8C2F8B"/><circle cx="601.0" cy="347.5" r="1.9" fill="#8C2F8B"/><circle cx="700.5" cy="397.0" r="1.9" fill="#02D9D7"/><circle cx="253.5" cy="398.0" r="1.9" fill="#8C2F8B"/><circle cx="1508.0" cy="404.0" r="1.9" fill="#8C2F8B"/><circle cx="268.0" cy="474.0" r="1.9" fill="#8C2F8B"/><circle cx="1570.5" cy="479.5" r="1.9" fill="#8C2F8B"/><circle cx="206.5" cy="481.0" r="1.9" fill="#8C2F8B"/><circle cx="660.0" cy="408.5" r="1.9" fill="#8C2F8B"/><circle cx="1553.0" cy="486.5" r="1.9" fill="#8C2F8B"/><circle cx="268.0" cy="375.0" r="1.9" fill="#8C2F8B"/><circle cx="204.5" cy="546.5" r="1.9" fill="#02D9D7"/><circle cx="196.5" cy="496.5" r="1.9" fill="#8C2F8B"/><circle cx="196.0" cy="508.0" r="1.9" fill="#8C2F8B"/><circle cx="214.0" cy="577.5" r="1.9" fill="#02D9D7"/><circle cx="1289.0" cy="647.5" r="1.9" fill="#02D9D7"/><circle cx="247.0" cy="663.5" r="1.9" fill="#8C2F8B"/><circle cx="1339.0" cy="682.5" r="1.9" fill="#8C2F8B"/><circle cx="1539.5" cy="680.0" r="1.9" fill="#8C2F8B"/><circle cx="1334.5" cy="678.0" r="1.9" fill="#8C2F8B"/><circle cx="660.5" cy="733.5" r="1.9" fill="#8C2F8B"/><circle cx="670.5" cy="726.5" r="1.9" fill="#8C2F8B"/><circle cx="368.5" cy="740.0" r="1.9" fill="#8C2F8B"/><circle cx="337.5" cy="748.0" r="1.9" fill="#8C2F8B"/><circle cx="371.5" cy="772.5" r="1.9" fill="#8C2F8B"/><circle cx="514.0" cy="773.5" r="1.9" fill="#8C2F8B"/><circle cx="557.0" cy="802.0" r="1.9" fill="#8C2F8B"/><circle cx="440.0" cy="803.0" r="1.9" fill="#8C2F8B"/><circle cx="535.0" cy="830.5" r="1.9" fill="#8C2F8B"/><circle cx="514.0" cy="274.0" r="1.9" fill="#02D9D7"/><circle cx="212.0" cy="432.0" r="1.9" fill="#02D9D7"/><circle cx="240.0" cy="371.0" r="1.9" fill="#02D9D7"/><circle cx="273.5" cy="357.5" r="1.9" fill="#02D9D7"/><circle cx="1613.5" cy="536.0" r="1.9" fill="#02D9D7"/><circle cx="211.0" cy="448.5" r="1.9" fill="#02D9D7"/><circle cx="1280.0" cy="614.5" r="1.9" fill="#02D9D7"/><circle cx="645.0" cy="772.0" r="1.9" fill="#02D9D7"/><circle cx="560.5" cy="807.5" r="1.9" fill="#02D9D7"/><circle cx="431.0" cy="804.0" r="1.9" fill="#02D9D7"/><circle cx="1430.5" cy="735.0" r="1.9" fill="#02D9D7"/><circle cx="639.5" cy="746.5" r="1.9" fill="#02D9D7"/><circle cx="426.5" cy="804.0" r="1.9" fill="#02D9D7"/><circle cx="576.5" cy="823.5" r="1.9" fill="#02D9D7"/><circle cx="650.5" cy="315.5" r="1.9" fill="#02D9D7"/><circle cx="613.0" cy="303.0" r="1.9" fill="#02D9D7"/><circle cx="283.0" cy="371.5" r="1.9" fill="#02D9D7"/><circle cx="271.0" cy="338.5" r="1.9" fill="#02D9D7"/><circle cx="476.0" cy="285.0" r="1.9" fill="#02D9D7"/><circle cx="519.5" cy="285.0" r="1.9" fill="#02D9D7"/><circle cx="1334.5" cy="428.5" r="1.9" fill="#02D9D7"/><circle cx="721.5" cy="392.5" r="1.9" fill="#02D9D7"/><circle cx="253.0" cy="392.5" r="1.9" fill="#02D9D7"/><circle cx="237.5" cy="395.0" r="1.9" fill="#02D9D7"/><circle cx="686.0" cy="374.0" r="1.9" fill="#02D9D7"/><circle cx="742.5" cy="513.0" r="1.9" fill="#02D9D7"/><circle cx="1349.0" cy="440.5" r="1.9" fill="#02D9D7"/><circle cx="200.0" cy="479.0" r="1.9" fill="#02D9D7"/><circle cx="742.0" cy="449.0" r="1.9" fill="#02D9D7"/><circle cx="265.5" cy="349.5" r="1.9" fill="#02D9D7"/><circle cx="625.5" cy="293.0" r="1.9" fill="#02D9D7"/><circle cx="700.5" cy="670.5" r="1.9" fill="#02D9D7"/><circle cx="231.5" cy="622.5" r="1.9" fill="#02D9D7"/><circle cx="1619.0" cy="562.5" r="1.9" fill="#02D9D7"/><circle cx="1617.0" cy="548.5" r="1.9" fill="#02D9D7"/><circle cx="209.0" cy="582.0" r="1.9" fill="#02D9D7"/><circle cx="206.0" cy="476.0" r="1.9" fill="#02D9D7"/><circle cx="192.5" cy="511.5" r="1.9" fill="#02D9D7"/><circle cx="758.5" cy="501.5" r="1.9" fill="#02D9D7"/><circle cx="1328.0" cy="455.5" r="1.9" fill="#02D9D7"/><circle cx="1323.0" cy="450.5" r="1.9" fill="#02D9D7"/><circle cx="729.5" cy="691.5" r="1.9" fill="#02D9D7"/><circle cx="254.5" cy="710.5" r="1.9" fill="#02D9D7"/><circle cx="698.0" cy="718.0" r="1.9" fill="#02D9D7"/><circle cx="693.5" cy="719.5" r="1.9" fill="#02D9D7"/><circle cx="712.0" cy="684.0" r="1.9" fill="#02D9D7"/><circle cx="698.5" cy="686.0" r="1.9" fill="#02D9D7"/><circle cx="732.5" cy="675.0" r="1.9" fill="#02D9D7"/><circle cx="263.0" cy="685.0" r="1.9" fill="#02D9D7"/><circle cx="1566.0" cy="448.0" r="1.9" fill="#02D9D7"/><circle cx="268.5" cy="370.0" r="1.9" fill="#02D9D7"/><circle cx="506.0" cy="813.5" r="1.9" fill="#02D9D7"/><circle cx="1395.5" cy="731.5" r="1.9" fill="#02D9D7"/><circle cx="1515.5" cy="721.0" r="1.9" fill="#02D9D7"/><circle cx="507.0" cy="803.5" r="1.9" fill="#02D9D7"/><circle cx="406.5" cy="818.0" r="1.9" fill="#02D9D7"/><circle cx="509.5" cy="819.5" r="1.9" fill="#02D9D7"/><circle cx="461.0" cy="228.0" r="1.9" fill="#E496B6"/><circle cx="375.0" cy="250.0" r="1.9" fill="#E496B6"/><circle cx="819.5" cy="507.0" r="1.9" fill="#8476AB"/><circle cx="753.5" cy="406.5" r="1.9" fill="#E496B6"/><circle cx="821.5" cy="484.0" r="1.9" fill="#8476AB"/><circle cx="803.0" cy="574.0" r="1.9" fill="#8476AB"/><circle cx="150.0" cy="674.0" r="1.9" fill="#8476AB"/><circle cx="340.5" cy="858.0" r="1.9" fill="#8476AB"/><circle cx="414.0" cy="879.5" r="1.9" fill="#8476AB"/><circle cx="423.0" cy="900.5" r="1.9" fill="#8476AB"/><circle cx="469.5" cy="855.5" r="1.9" fill="#E496B6"/><circle cx="418.0" cy="846.5" r="1.9" fill="#E496B6"/><circle cx="412.0" cy="215.5" r="1.9" fill="#8476AB"/><circle cx="406.0" cy="220.5" r="1.9" fill="#8476AB"/><circle cx="661.5" cy="248.5" r="1.9" fill="#8476AB"/><circle cx="431.0" cy="211.0" r="1.9" fill="#E496B6"/><circle cx="545.5" cy="200.0" r="1.9" fill="#8476AB"/><circle cx="584.5" cy="211.5" r="1.9" fill="#8476AB"/><circle cx="167.5" cy="496.0" r="1.9" fill="#8476AB"/><circle cx="806.5" cy="500.5" r="1.9" fill="#8476AB"/><circle cx="827.0" cy="528.5" r="1.9" fill="#E496B6"/><circle cx="758.0" cy="351.5" r="1.9" fill="#8476AB"/><circle cx="229.5" cy="321.5" r="1.9" fill="#8476AB"/><circle cx="246.5" cy="307.0" r="1.9" fill="#8476AB"/><circle cx="175.5" cy="368.0" r="1.9" fill="#8476AB"/><circle cx="128.5" cy="488.0" r="1.9" fill="#8476AB"/><circle cx="198.5" cy="328.0" r="1.9" fill="#8476AB"/><circle cx="170.5" cy="651.0" r="1.9" fill="#E496B6"/><circle cx="797.0" cy="580.0" r="1.9" fill="#E496B6"/><circle cx="831.0" cy="586.5" r="1.9" fill="#E496B6"/><circle cx="820.5" cy="583.5" r="1.9" fill="#E496B6"/><circle cx="126.0" cy="558.0" r="1.9" fill="#8476AB"/><circle cx="710.0" cy="277.0" r="1.9" fill="#8476AB"/><circle cx="450.5" cy="210.0" r="1.9" fill="#E496B6"/><circle cx="704.0" cy="826.5" r="1.9" fill="#8476AB"/><circle cx="240.5" cy="799.5" r="1.9" fill="#8476AB"/><circle cx="253.5" cy="791.5" r="1.9" fill="#8476AB"/><circle cx="715.5" cy="738.5" r="1.9" fill="#E496B6"/><circle cx="657.5" cy="802.0" r="1.9" fill="#E496B6"/><circle cx="238.5" cy="789.5" r="1.9" fill="#8476AB"/><circle cx="269.0" cy="783.0" r="1.9" fill="#E496B6"/><circle cx="135.0" cy="617.5" r="1.9" fill="#8476AB"/><circle cx="791.0" cy="608.0" r="1.9" fill="#E496B6"/><circle cx="706.0" cy="765.0" r="1.9" fill="#E496B6"/><circle cx="826.5" cy="636.5" r="1.9" fill="#E496B6"/><circle cx="398.0" cy="873.5" r="1.9" fill="#8476AB"/><circle cx="314.0" cy="835.5" r="1.9" fill="#E496B6"/><circle cx="464.5" cy="870.0" r="1.9" fill="#E496B6"/><circle cx="530.5" cy="854.0" r="1.9" fill="#8476AB"/><circle cx="637.0" cy="854.5" r="1.9" fill="#8476AB"/><circle cx="415.5" cy="870.0" r="1.9" fill="#E496B6"/><circle cx="586.5" cy="834.5" r="1.9" fill="#E496B6"/><circle cx="688.0" cy="832.0" r="1.9" fill="#8476AB"/><circle cx="526.5" cy="849.5" r="1.9" fill="#E496B6"/><circle cx="320.0" cy="293.5" r="1.7" fill="#949C9F"/><circle cx="273.5" cy="767.0" r="1.7" fill="#949C9F"/><circle cx="708.0" cy="746.0" r="1.7" fill="#037C8E"/><circle cx="698.5" cy="374.0" r="1.7" fill="#949C9F"/><circle cx="212.5" cy="399.5" r="1.7" fill="#949C9F"/><circle cx="750.0" cy="410.5" r="1.7" fill="#037C8E"/><circle cx="218.0" cy="386.0" r="1.7" fill="#949C9F"/><circle cx="729.5" cy="398.5" r="1.7" fill="#93D1C2"/><circle cx="273.5" cy="781.0" r="1.7" fill="#949C9F"/><circle cx="204.5" cy="735.0" r="1.7" fill="#949C9F"/><circle cx="793.0" cy="577.0" r="1.7" fill="#949C9F"/><circle cx="778.5" cy="623.5" r="1.7" fill="#949C9F"/><circle cx="780.0" cy="602.5" r="1.7" fill="#93D1C2"/><circle cx="765.0" cy="694.0" r="1.7" fill="#93D1C2"/><circle cx="605.0" cy="242.5" r="1.7" fill="#949C9F"/><circle cx="165.5" cy="714.5" r="1.7" fill="#E496B6"/><circle cx="1331.5" cy="717.5" r="1.7" fill="#93D1C2"/><circle cx="790.0" cy="497.0" r="1.7" fill="#93D1C2"/><circle cx="763.0" cy="500.5" r="1.7" fill="#037C8E"/><circle cx="230.5" cy="727.0" r="1.7" fill="#949C9F"/><circle cx="709.5" cy="727.5" r="1.7" fill="#93D1C2"/><circle cx="1604.0" cy="489.0" r="1.7" fill="#93D1C2"/><circle cx="194.0" cy="441.0" r="1.7" fill="#949C9F"/><circle cx="419.0" cy="247.0" r="1.7" fill="#949C9F"/><circle cx="415.5" cy="245.0" r="1.7" fill="#949C9F"/><circle cx="201.0" cy="684.0" r="1.7" fill="#037C8E"/><circle cx="756.5" cy="669.0" r="1.7" fill="#93D1C2"/><circle cx="390.0" cy="824.5" r="1.7" fill="#93D1C2"/><circle cx="318.0" cy="270.5" r="1.7" fill="#93D1C2"/><circle cx="548.0" cy="255.5" r="1.7" fill="#037C8E"/><circle cx="406.5" cy="836.5" r="1.7" fill="#949C9F"/><circle cx="418.0" cy="285.5" r="1.6" fill="#8C2F8B"/><circle cx="429.0" cy="297.0" r="1.6" fill="#8C2F8B"/><circle cx="428.0" cy="301.0" r="1.6" fill="#8C2F8B"/><circle cx="339.5" cy="325.5" r="1.6" fill="#8C2F8B"/><circle cx="680.0" cy="331.0" r="1.6" fill="#8C2F8B"/><circle cx="322.5" cy="371.5" r="1.6" fill="#8C2F8B"/><circle cx="701.5" cy="413.0" r="1.6" fill="#8C2F8B"/><circle cx="703.0" cy="409.0" r="1.6" fill="#8C2F8B"/><circle cx="264.0" cy="471.5" r="1.6" fill="#8C2F8B"/><circle cx="226.0" cy="609.0" r="1.6" fill="#02D9D7"/><circle cx="251.0" cy="500.5" r="1.6" fill="#8C2F8B"/><circle cx="612.0" cy="725.5" r="1.6" fill="#8C2F8B"/><circle cx="459.5" cy="786.5" r="1.6" fill="#8C2F8B"/><circle cx="512.0" cy="814.0" r="1.6" fill="#8C2F8B"/><circle cx="435.5" cy="801.0" r="1.6" fill="#8C2F8B"/><circle cx="494.5" cy="793.0" r="1.6" fill="#8C2F8B"/><circle cx="1332.5" cy="712.5" r="1.6" fill="#02D9D7"/><circle cx="281.5" cy="340.0" r="1.6" fill="#02D9D7"/><circle cx="447.0" cy="276.0" r="1.6" fill="#02D9D7"/><circle cx="482.5" cy="264.0" r="1.6" fill="#02D9D7"/><circle cx="1347.0" cy="428.0" r="1.6" fill="#02D9D7"/><circle cx="603.0" cy="312.5" r="1.6" fill="#02D9D7"/><circle cx="629.0" cy="298.5" r="1.6" fill="#02D9D7"/><circle cx="397.0" cy="285.5" r="1.6" fill="#02D9D7"/><circle cx="226.0" cy="647.0" r="1.6" fill="#02D9D7"/><circle cx="232.5" cy="636.5" r="1.6" fill="#02D9D7"/><circle cx="747.0" cy="561.0" r="1.6" fill="#02D9D7"/><circle cx="222.5" cy="443.0" r="1.6" fill="#02D9D7"/><circle cx="1579.0" cy="461.0" r="1.6" fill="#02D9D7"/><circle cx="251.5" cy="342.0" r="1.6" fill="#02D9D7"/><circle cx="706.5" cy="412.5" r="1.6" fill="#02D9D7"/><circle cx="1375.0" cy="409.5" r="1.6" fill="#02D9D7"/><circle cx="418.5" cy="280.5" r="1.6" fill="#02D9D7"/><circle cx="383.5" cy="799.5" r="1.6" fill="#02D9D7"/><circle cx="559.5" cy="797.5" r="1.6" fill="#02D9D7"/><circle cx="379.5" cy="793.0" r="1.6" fill="#02D9D7"/><circle cx="323.5" cy="779.0" r="1.6" fill="#02D9D7"/><circle cx="455.0" cy="800.5" r="1.6" fill="#02D9D7"/><circle cx="221.0" cy="683.5" r="1.6" fill="#02D9D7"/><circle cx="247.5" cy="699.0" r="1.6" fill="#02D9D7"/><circle cx="419.0" cy="817.0" r="1.6" fill="#02D9D7"/><circle cx="444.5" cy="808.0" r="1.6" fill="#02D9D7"/><circle cx="173.0" cy="495.0" r="1.6" fill="#93D1C2"/><circle cx="256.5" cy="722.0" r="1.6" fill="#93D1C2"/><circle cx="752.0" cy="440.5" r="1.6" fill="#93D1C2"/><circle cx="732.0" cy="404.5" r="1.6" fill="#93D1C2"/><circle cx="214.5" cy="411.0" r="1.6" fill="#949C9F"/><circle cx="682.0" cy="768.0" r="1.6" fill="#037C8E"/><circle cx="274.5" cy="743.5" r="1.6" fill="#93D1C2"/><circle cx="225.5" cy="405.5" r="1.6" fill="#949C9F"/><circle cx="296.0" cy="785.5" r="1.6" fill="#E496B6"/><circle cx="274.0" cy="298.0" r="1.6" fill="#949C9F"/><circle cx="654.0" cy="312.5" r="1.6" fill="#93D1C2"/><circle cx="680.5" cy="308.5" r="1.6" fill="#949C9F"/><circle cx="1594.0" cy="485.0" r="1.6" fill="#93D1C2"/><circle cx="1594.5" cy="491.5" r="1.6" fill="#93D1C2"/><circle cx="213.0" cy="722.0" r="1.6" fill="#949C9F"/><circle cx="496.0" cy="252.0" r="1.6" fill="#93D1C2"/><circle cx="470.5" cy="237.5" r="1.6" fill="#E496B6"/><circle cx="192.5" cy="631.0" r="1.6" fill="#93D1C2"/><circle cx="179.5" cy="602.5" r="1.6" fill="#93D1C2"/><circle cx="779.5" cy="568.0" r="1.6" fill="#037C8E"/><circle cx="706.0" cy="730.5" r="1.6" fill="#949C9F"/><circle cx="785.5" cy="543.0" r="1.6" fill="#949C9F"/><circle cx="790.5" cy="485.5" r="1.6" fill="#93D1C2"/><circle cx="331.5" cy="295.5" r="1.6" fill="#93D1C2"/><circle cx="349.0" cy="827.0" r="1.6" fill="#93D1C2"/><circle cx="474.5" cy="829.0" r="1.6" fill="#949C9F"/><circle cx="709.0" cy="353.0" r="1.6" fill="#93D1C2"/><circle cx="246.5" cy="341.0" r="1.6" fill="#949C9F"/><circle cx="271.0" cy="319.0" r="1.6" fill="#949C9F"/><circle cx="309.5" cy="294.0" r="1.6" fill="#037C8E"/><circle cx="727.0" cy="368.5" r="1.6" fill="#949C9F"/><circle cx="745.5" cy="368.0" r="1.6" fill="#93D1C2"/><circle cx="663.5" cy="786.0" r="1.6" fill="#93D1C2"/><circle cx="199.0" cy="436.5" r="1.6" fill="#949C9F"/><circle cx="738.0" cy="413.0" r="1.6" fill="#949C9F"/><circle cx="223.5" cy="378.0" r="1.6" fill="#93D1C2"/><circle cx="284.0" cy="801.0" r="1.6" fill="#93D1C2"/><circle cx="656.0" cy="781.0" r="1.6" fill="#949C9F"/><circle cx="306.0" cy="783.5" r="1.6" fill="#93D1C2"/><circle cx="264.5" cy="776.0" r="1.6" fill="#93D1C2"/><circle cx="219.5" cy="704.0" r="1.6" fill="#93D1C2"/><circle cx="165.0" cy="514.0" r="1.6" fill="#949C9F"/><circle cx="235.0" cy="712.0" r="1.6" fill="#93D1C2"/><circle cx="182.0" cy="463.5" r="1.6" fill="#93D1C2"/><circle cx="190.5" cy="475.5" r="1.6" fill="#E496B6"/><circle cx="786.5" cy="461.0" r="1.6" fill="#93D1C2"/><circle cx="761.0" cy="516.5" r="1.6" fill="#E496B6"/><circle cx="801.5" cy="642.0" r="1.6" fill="#949C9F"/><circle cx="786.0" cy="630.5" r="1.6" fill="#949C9F"/><circle cx="478.5" cy="225.0" r="1.6" fill="#E496B6"/><circle cx="641.5" cy="302.0" r="1.6" fill="#E496B6"/><circle cx="743.0" cy="329.0" r="1.6" fill="#949C9F"/><circle cx="270.0" cy="761.0" r="1.6" fill="#037C8E"/><circle cx="279.5" cy="758.0" r="1.6" fill="#949C9F"/><circle cx="273.5" cy="756.5" r="1.6" fill="#949C9F"/><circle cx="692.0" cy="763.5" r="1.6" fill="#02D9D7"/><circle cx="447.0" cy="244.5" r="1.6" fill="#037C8E"/><circle cx="441.5" cy="237.5" r="1.6" fill="#93D1C2"/><circle cx="759.5" cy="686.0" r="1.6" fill="#949C9F"/><circle cx="189.0" cy="692.0" r="1.6" fill="#93D1C2"/><circle cx="749.5" cy="677.0" r="1.6" fill="#93D1C2"/><circle cx="1276.0" cy="642.5" r="1.6" fill="#E496B6"/><circle cx="194.5" cy="668.5" r="1.6" fill="#93D1C2"/><circle cx="772.5" cy="571.0" r="1.6" fill="#93D1C2"/><circle cx="148.5" cy="569.5" r="1.6" fill="#949C9F"/><circle cx="710.5" cy="738.5" r="1.6" fill="#93D1C2"/><circle cx="167.5" cy="560.0" r="1.6" fill="#949C9F"/><circle cx="518.0" cy="260.0" r="1.6" fill="#949C9F"/><circle cx="364.0" cy="816.0" r="1.6" fill="#949C9F"/><circle cx="613.0" cy="275.0" r="1.6" fill="#93D1C2"/><circle cx="334.5" cy="822.5" r="1.6" fill="#949C9F"/><circle cx="411.5" cy="265.0" r="1.6" fill="#93D1C2"/><circle cx="565.5" cy="838.5" r="1.6" fill="#949C9F"/><circle cx="405.0" cy="841.0" r="1.6" fill="#949C9F"/><circle cx="460.0" cy="848.0" r="1.6" fill="#949C9F"/><circle cx="475.0" cy="854.5" r="1.6" fill="#93D1C2"/><circle cx="469.5" cy="209.0" r="1.6" fill="#8476AB"/><circle cx="690.0" cy="796.0" r="1.6" fill="#8476AB"/><circle cx="705.0" cy="781.0" r="1.6" fill="#E496B6"/><circle cx="225.0" cy="727.5" r="1.6" fill="#E496B6"/><circle cx="773.0" cy="710.5" r="1.6" fill="#E496B6"/><circle cx="151.5" cy="696.0" r="1.6" fill="#8476AB"/><circle cx="705.5" cy="752.5" r="1.6" fill="#E496B6"/><circle cx="173.5" cy="739.0" r="1.6" fill="#8476AB"/><circle cx="168.5" cy="613.0" r="1.6" fill="#E496B6"/><circle cx="148.5" cy="626.0" r="1.6" fill="#8476AB"/><circle cx="136.0" cy="576.5" r="1.6" fill="#8476AB"/><circle cx="162.5" cy="542.0" r="1.6" fill="#E496B6"/><circle cx="324.5" cy="261.0" r="1.6" fill="#E496B6"/><circle cx="202.5" cy="333.0" r="1.6" fill="#8476AB"/><circle cx="351.0" cy="260.0" r="1.6" fill="#E496B6"/><circle cx="152.5" cy="484.5" r="1.6" fill="#8476AB"/><circle cx="155.0" cy="470.0" r="1.6" fill="#8476AB"/><circle cx="206.5" cy="396.5" r="1.6" fill="#E496B6"/><circle cx="795.5" cy="485.0" r="1.6" fill="#8476AB"/><circle cx="790.5" cy="516.0" r="1.6" fill="#E496B6"/><circle cx="327.5" cy="249.0" r="1.6" fill="#8476AB"/><circle cx="364.5" cy="870.0" r="1.6" fill="#8476AB"/><circle cx="625.0" cy="857.0" r="1.6" fill="#E496B6"/><circle cx="339.5" cy="846.5" r="1.6" fill="#8476AB"/><circle cx="634.0" cy="842.5" r="1.6" fill="#8476AB"/><circle cx="497.0" cy="890.5" r="1.6" fill="#8476AB"/><circle cx="390.0" cy="870.5" r="1.6" fill="#E496B6"/><circle cx="599.0" cy="329.0" r="1.5" fill="#8C2F8B"/><circle cx="404.5" cy="779.5" r="1.5" fill="#8C2F8B"/><circle cx="1346.5" cy="702.5" r="1.5" fill="#8C2F8B"/><circle cx="632.5" cy="748.5" r="1.5" fill="#02D9D7"/><circle cx="429.5" cy="762.5" r="1.5" fill="#8C2F8B"/><circle cx="1306.0" cy="677.0" r="1.5" fill="#8C2F8B"/><circle cx="1311.0" cy="674.0" r="1.5" fill="#8C2F8B"/><circle cx="1441.5" cy="419.5" r="1.5" fill="#8C2F8B"/><circle cx="1577.5" cy="488.0" r="1.5" fill="#8C2F8B"/><circle cx="1547.5" cy="464.5" r="1.5" fill="#8C2F8B"/><circle cx="348.0" cy="746.5" r="1.5" fill="#8C2F8B"/><circle cx="236.5" cy="555.5" r="1.5" fill="#8C2F8B"/><circle cx="543.0" cy="786.0" r="1.5" fill="#8C2F8B"/><circle cx="1437.0" cy="730.0" r="1.5" fill="#8C2F8B"/><circle cx="1307.5" cy="647.5" r="1.5" fill="#8C2F8B"/><circle cx="306.5" cy="343.0" r="1.5" fill="#8C2F8B"/><circle cx="523.5" cy="266.0" r="1.5" fill="#02D9D7"/><circle cx="533.5" cy="271.0" r="1.5" fill="#02D9D7"/><circle cx="601.0" cy="323.0" r="1.5" fill="#02D9D7"/><circle cx="643.0" cy="332.0" r="1.5" fill="#02D9D7"/><circle cx="235.0" cy="374.5" r="1.5" fill="#02D9D7"/><circle cx="1416.5" cy="395.5" r="1.5" fill="#02D9D7"/><circle cx="1313.0" cy="669.5" r="1.5" fill="#02D9D7"/><circle cx="1303.0" cy="673.5" r="1.5" fill="#02D9D7"/><circle cx="1614.5" cy="565.0" r="1.5" fill="#02D9D7"/><circle cx="1599.0" cy="514.5" r="1.5" fill="#02D9D7"/><circle cx="1574.0" cy="476.5" r="1.5" fill="#02D9D7"/><circle cx="707.5" cy="672.0" r="1.5" fill="#02D9D7"/><circle cx="289.5" cy="718.0" r="1.5" fill="#02D9D7"/><circle cx="548.0" cy="784.0" r="1.5" fill="#02D9D7"/><circle cx="323.0" cy="764.5" r="1.5" fill="#02D9D7"/><circle cx="402.5" cy="814.5" r="1.5" fill="#02D9D7"/><circle cx="422.5" cy="821.5" r="1.5" fill="#02D9D7"/><circle cx="473.0" cy="807.0" r="1.5" fill="#02D9D7"/><circle cx="563.0" cy="794.0" r="1.5" fill="#02D9D7"/><circle cx="658.0" cy="740.0" r="1.5" fill="#02D9D7"/><circle cx="1421.0" cy="737.5" r="1.5" fill="#02D9D7"/><circle cx="414.0" cy="282.0" r="1.5" fill="#02D9D7"/><circle cx="720.5" cy="383.0" r="1.5" fill="#02D9D7"/><circle cx="1356.0" cy="424.5" r="1.5" fill="#02D9D7"/><circle cx="1325.5" cy="436.5" r="1.5" fill="#02D9D7"/><circle cx="1562.0" cy="442.5" r="1.5" fill="#02D9D7"/><circle cx="210.0" cy="575.5" r="1.5" fill="#02D9D7"/><circle cx="1319.0" cy="462.0" r="1.5" fill="#02D9D7"/><circle cx="737.0" cy="560.0" r="1.5" fill="#02D9D7"/><circle cx="246.5" cy="657.5" r="1.5" fill="#02D9D7"/><circle cx="693.0" cy="700.5" r="1.5" fill="#02D9D7"/><circle cx="689.0" cy="701.0" r="1.5" fill="#02D9D7"/><circle cx="1342.5" cy="705.5" r="1.5" fill="#02D9D7"/><circle cx="240.0" cy="644.5" r="1.5" fill="#02D9D7"/><circle cx="198.0" cy="618.5" r="1.5" fill="#02D9D7"/><circle cx="217.0" cy="598.0" r="1.5" fill="#93D1C2"/><circle cx="1582.0" cy="486.5" r="1.5" fill="#02D9D7"/><circle cx="678.5" cy="737.5" r="1.5" fill="#02D9D7"/><circle cx="286.5" cy="751.0" r="1.5" fill="#02D9D7"/><circle cx="727.5" cy="407.0" r="1.5" fill="#93D1C2"/><circle cx="348.5" cy="303.5" r="1.5" fill="#02D9D7"/><circle cx="638.5" cy="342.5" r="1.5" fill="#02D9D7"/><circle cx="710.0" cy="377.5" r="1.5" fill="#02D9D7"/><circle cx="592.0" cy="309.0" r="1.5" fill="#02D9D7"/><circle cx="461.5" cy="287.5" r="1.5" fill="#02D9D7"/><circle cx="602.0" cy="275.0" r="1.5" fill="#02D9D7"/><circle cx="380.0" cy="263.0" r="1.5" fill="#02D9D7"/><circle cx="286.0" cy="754.5" r="1.5" fill="#02D9D7"/><circle cx="625.5" cy="767.0" r="1.5" fill="#02D9D7"/><circle cx="331.5" cy="760.0" r="1.5" fill="#02D9D7"/><circle cx="566.5" cy="810.5" r="1.5" fill="#02D9D7"/><circle cx="370.5" cy="777.0" r="1.5" fill="#02D9D7"/><circle cx="428.5" cy="844.0" r="1.5" fill="#E496B6"/><circle cx="385.5" cy="850.5" r="1.5" fill="#93D1C2"/><circle cx="445.0" cy="855.5" r="1.5" fill="#949C9F"/><circle cx="380.0" cy="843.5" r="1.5" fill="#93D1C2"/><circle cx="631.5" cy="828.0" r="1.5" fill="#949C9F"/><circle cx="285.5" cy="814.5" r="1.5" fill="#949C9F"/><circle cx="376.0" cy="818.5" r="1.5" fill="#02D9D7"/><circle cx="338.5" cy="275.5" r="1.5" fill="#949C9F"/><circle cx="704.0" cy="275.5" r="1.5" fill="#949C9F"/><circle cx="674.0" cy="279.0" r="1.5" fill="#93D1C2"/><circle cx="657.5" cy="279.5" r="1.5" fill="#949C9F"/><circle cx="421.5" cy="256.0" r="1.5" fill="#037C8E"/><circle cx="476.0" cy="260.0" r="1.5" fill="#93D1C2"/><circle cx="504.0" cy="244.5" r="1.5" fill="#037C8E"/><circle cx="374.5" cy="254.5" r="1.5" fill="#E496B6"/><circle cx="453.5" cy="857.0" r="1.5" fill="#E496B6"/><circle cx="202.0" cy="661.0" r="1.5" fill="#93D1C2"/><circle cx="201.0" cy="605.5" r="1.5" fill="#93D1C2"/><circle cx="787.0" cy="606.5" r="1.5" fill="#E496B6"/><circle cx="186.5" cy="640.0" r="1.5" fill="#E496B6"/><circle cx="743.5" cy="733.0" r="1.5" fill="#02D9D7"/><circle cx="716.5" cy="734.0" r="1.5" fill="#93D1C2"/><circle cx="229.5" cy="734.5" r="1.5" fill="#93D1C2"/><circle cx="740.0" cy="733.0" r="1.5" fill="#93D1C2"/><circle cx="1344.5" cy="730.0" r="1.5" fill="#949C9F"/><circle cx="1343.0" cy="717.5" r="1.5" fill="#E496B6"/><circle cx="761.5" cy="507.0" r="1.5" fill="#93D1C2"/><circle cx="783.0" cy="528.0" r="1.5" fill="#E496B6"/><circle cx="164.0" cy="554.5" r="1.5" fill="#93D1C2"/><circle cx="193.0" cy="492.0" r="1.5" fill="#E496B6"/><circle cx="761.5" cy="492.0" r="1.5" fill="#93D1C2"/><circle cx="1600.0" cy="493.0" r="1.5" fill="#02D9D7"/><circle cx="197.0" cy="455.0" r="1.5" fill="#93D1C2"/><circle cx="731.5" cy="411.0" r="1.5" fill="#037C8E"/><circle cx="201.0" cy="417.0" r="1.5" fill="#037C8E"/><circle cx="736.0" cy="421.0" r="1.5" fill="#949C9F"/><circle cx="1382.0" cy="401.5" r="1.5" fill="#949C9F"/><circle cx="739.0" cy="403.5" r="1.5" fill="#93D1C2"/><circle cx="735.5" cy="394.5" r="1.5" fill="#02D9D7"/><circle cx="1505.0" cy="400.0" r="1.5" fill="#02D9D7"/><circle cx="723.5" cy="373.0" r="1.5" fill="#93D1C2"/><circle cx="623.0" cy="789.5" r="1.5" fill="#93D1C2"/><circle cx="385.5" cy="814.0" r="1.5" fill="#E496B6"/><circle cx="258.5" cy="771.5" r="1.5" fill="#949C9F"/><circle cx="270.0" cy="743.0" r="1.5" fill="#93D1C2"/><circle cx="266.5" cy="751.0" r="1.5" fill="#037C8E"/><circle cx="686.5" cy="754.5" r="1.5" fill="#93D1C2"/><circle cx="220.5" cy="330.5" r="1.5" fill="#93D1C2"/><circle cx="695.5" cy="342.0" r="1.5" fill="#93D1C2"/><circle cx="750.0" cy="344.5" r="1.5" fill="#E496B6"/><circle cx="721.5" cy="362.5" r="1.5" fill="#037C8E"/><circle cx="607.5" cy="283.5" r="1.5" fill="#949C9F"/><circle cx="334.0" cy="288.5" r="1.5" fill="#93D1C2"/><circle cx="479.0" cy="204.0" r="1.5" fill="#8476AB"/><circle cx="528.0" cy="214.5" r="1.5" fill="#8476AB"/><circle cx="316.0" cy="248.0" r="1.5" fill="#E496B6"/><circle cx="259.5" cy="313.5" r="1.5" fill="#E496B6"/><circle cx="171.0" cy="370.5" r="1.5" fill="#8476AB"/><circle cx="190.5" cy="419.0" r="1.5" fill="#E496B6"/><circle cx="201.5" cy="753.0" r="1.5" fill="#8476AB"/><circle cx="190.0" cy="686.5" r="1.5" fill="#E496B6"/><circle cx="836.0" cy="516.0" r="1.5" fill="#8476AB"/><circle cx="764.5" cy="731.5" r="1.5" fill="#8476AB"/><circle cx="702.5" cy="785.5" r="1.5" fill="#E496B6"/><circle cx="255.5" cy="775.0" r="1.5" fill="#E496B6"/><circle cx="272.5" cy="786.0" r="1.5" fill="#E496B6"/><circle cx="432.5" cy="919.5" r="1.5" fill="#8476AB"/><circle cx="508.5" cy="883.0" r="1.5" fill="#8476AB"/><circle cx="430.5" cy="848.5" r="1.5" fill="#E496B6"/><circle cx="557.5" cy="856.0" r="1.5" fill="#8476AB"/><circle cx="412.5" cy="866.5" r="1.5" fill="#8476AB"/><circle cx="261.5" cy="819.0" r="1.5" fill="#8476AB"/><circle cx="275.5" cy="792.0" r="1.5" fill="#E496B6"/><circle cx="399.5" cy="891.0" r="1.5" fill="#8476AB"/><circle cx="201.5" cy="396.0" r="1.5" fill="#E496B6"/><circle cx="163.0" cy="629.5" r="1.5" fill="#E496B6"/><circle cx="747.0" cy="736.5" r="1.5" fill="#8476AB"/><circle cx="180.5" cy="382.0" r="1.5" fill="#E496B6"/><circle cx="717.0" cy="754.0" r="1.5" fill="#8476AB"/><circle cx="257.5" cy="758.5" r="1.5" fill="#E496B6"/><circle cx="766.5" cy="746.0" r="1.5" fill="#8476AB"/><circle cx="745.0" cy="750.5" r="1.5" fill="#E496B6"/><circle cx="714.0" cy="743.0" r="1.5" fill="#E496B6"/><circle cx="177.5" cy="651.5" r="1.5" fill="#E496B6"/><circle cx="245.0" cy="315.0" r="1.5" fill="#8476AB"/><circle cx="181.5" cy="633.0" r="1.5" fill="#E496B6"/><circle cx="151.0" cy="551.5" r="1.5" fill="#8476AB"/><circle cx="834.5" cy="577.0" r="1.5" fill="#8476AB"/><circle cx="189.5" cy="357.5" r="1.5" fill="#E496B6"/><circle cx="760.0" cy="401.5" r="1.5" fill="#E496B6"/><circle cx="184.0" cy="373.0" r="1.5" fill="#E496B6"/><circle cx="249.0" cy="329.5" r="1.5" fill="#8476AB"/><circle cx="195.5" cy="355.5" r="1.5" fill="#E496B6"/><circle cx="817.0" cy="409.0" r="1.5" fill="#E496B6"/><circle cx="529.5" cy="225.5" r="1.5" fill="#8476AB"/><circle cx="288.5" cy="270.5" r="1.5" fill="#8476AB"/><circle cx="573.5" cy="225.0" r="1.5" fill="#8476AB"/><circle cx="492.5" cy="879.0" r="1.5" fill="#E496B6"/><circle cx="651.5" cy="815.0" r="1.5" fill="#E496B6"/><circle cx="572.0" cy="834.0" r="1.5" fill="#E496B6"/><circle cx="258.0" cy="827.0" r="1.5" fill="#8476AB"/><circle cx="670.5" cy="814.0" r="1.5" fill="#8476AB"/><circle cx="430.0" cy="890.0" r="1.5" fill="#8476AB"/><circle cx="498.0" cy="885.5" r="1.5" fill="#8476AB"/><circle cx="425.5" cy="881.5" r="1.5" fill="#E496B6"/><circle cx="556.5" cy="877.5" r="1.5" fill="#E496B6"/><circle cx="487.0" cy="880.0" r="1.5" fill="#8476AB"/><circle cx="253.0" cy="320.0" r="1.5" fill="#8476AB"/><circle cx="181.5" cy="443.0" r="1.5" fill="#E496B6"/><circle cx="658.0" cy="275.5" r="1.5" fill="#E496B6"/><circle cx="157.5" cy="428.5" r="1.5" fill="#E496B6"/><circle cx="1434.0" cy="407.0" r="1.4" fill="#02D9D7"/><circle cx="1500.0" cy="403.5" r="1.4" fill="#8C2F8B"/><circle cx="1503.5" cy="403.5" r="1.4" fill="#8C2F8B"/><circle cx="663.0" cy="690.5" r="1.4" fill="#8C2F8B"/><circle cx="648.5" cy="690.0" r="1.4" fill="#8C2F8B"/><circle cx="221.5" cy="596.0" r="1.4" fill="#8C2F8B"/><circle cx="1328.0" cy="659.5" r="1.4" fill="#8C2F8B"/><circle cx="255.0" cy="452.0" r="1.4" fill="#8C2F8B"/><circle cx="250.0" cy="497.0" r="1.4" fill="#8C2F8B"/><circle cx="238.5" cy="580.5" r="1.4" fill="#8C2F8B"/><circle cx="237.0" cy="479.5" r="1.4" fill="#8C2F8B"/><circle cx="259.5" cy="382.5" r="1.4" fill="#8C2F8B"/><circle cx="664.5" cy="373.5" r="1.4" fill="#8C2F8B"/><circle cx="345.0" cy="381.5" r="1.4" fill="#8C2F8B"/><circle cx="258.5" cy="386.5" r="1.4" fill="#8C2F8B"/><circle cx="1514.5" cy="694.0" r="1.4" fill="#8C2F8B"/><circle cx="647.5" cy="734.0" r="1.4" fill="#02D9D7"/><circle cx="297.5" cy="740.0" r="1.4" fill="#8C2F8B"/><circle cx="320.0" cy="730.5" r="1.4" fill="#8C2F8B"/><circle cx="1411.0" cy="722.0" r="1.4" fill="#02D9D7"/><circle cx="1323.0" cy="716.0" r="1.4" fill="#8C2F8B"/><circle cx="654.0" cy="709.0" r="1.4" fill="#8C2F8B"/><circle cx="1423.5" cy="714.5" r="1.4" fill="#8C2F8B"/><circle cx="414.5" cy="769.5" r="1.4" fill="#8C2F8B"/><circle cx="374.5" cy="776.0" r="1.4" fill="#8C2F8B"/><circle cx="410.0" cy="780.5" r="1.4" fill="#8C2F8B"/><circle cx="514.0" cy="818.0" r="1.4" fill="#8C2F8B"/><circle cx="1412.0" cy="393.5" r="1.4" fill="#02D9D7"/><circle cx="255.5" cy="381.5" r="1.4" fill="#02D9D7"/><circle cx="703.5" cy="386.5" r="1.4" fill="#02D9D7"/><circle cx="256.5" cy="369.5" r="1.4" fill="#02D9D7"/><circle cx="255.0" cy="388.0" r="1.4" fill="#02D9D7"/><circle cx="1423.0" cy="394.5" r="1.4" fill="#02D9D7"/><circle cx="261.0" cy="350.0" r="1.4" fill="#02D9D7"/><circle cx="300.0" cy="357.5" r="1.4" fill="#02D9D7"/><circle cx="535.5" cy="291.5" r="1.4" fill="#02D9D7"/><circle cx="663.0" cy="319.5" r="1.4" fill="#02D9D7"/><circle cx="640.5" cy="307.0" r="1.4" fill="#02D9D7"/><circle cx="516.5" cy="296.0" r="1.4" fill="#02D9D7"/><circle cx="1289.0" cy="492.5" r="1.4" fill="#02D9D7"/><circle cx="1592.5" cy="505.0" r="1.4" fill="#02D9D7"/><circle cx="233.0" cy="632.0" r="1.4" fill="#02D9D7"/><circle cx="1280.5" cy="619.5" r="1.4" fill="#02D9D7"/><circle cx="198.0" cy="557.0" r="1.4" fill="#02D9D7"/><circle cx="1268.5" cy="513.5" r="1.4" fill="#02D9D7"/><circle cx="191.0" cy="507.5" r="1.4" fill="#02D9D7"/><circle cx="254.0" cy="448.0" r="1.4" fill="#02D9D7"/><circle cx="1285.0" cy="646.0" r="1.4" fill="#02D9D7"/><circle cx="268.0" cy="333.5" r="1.4" fill="#02D9D7"/><circle cx="252.0" cy="359.0" r="1.4" fill="#02D9D7"/><circle cx="511.0" cy="262.5" r="1.4" fill="#02D9D7"/><circle cx="503.0" cy="285.0" r="1.4" fill="#02D9D7"/><circle cx="422.0" cy="283.5" r="1.4" fill="#02D9D7"/><circle cx="429.5" cy="276.5" r="1.4" fill="#02D9D7"/><circle cx="473.0" cy="263.5" r="1.4" fill="#02D9D7"/><circle cx="1396.0" cy="726.0" r="1.4" fill="#02D9D7"/><circle cx="689.0" cy="719.0" r="1.4" fill="#02D9D7"/><circle cx="272.5" cy="717.5" r="1.4" fill="#02D9D7"/><circle cx="683.0" cy="711.5" r="1.4" fill="#02D9D7"/><circle cx="701.0" cy="708.5" r="1.4" fill="#02D9D7"/><circle cx="728.0" cy="674.5" r="1.4" fill="#02D9D7"/><circle cx="687.5" cy="681.5" r="1.4" fill="#02D9D7"/><circle cx="764.5" cy="656.0" r="1.4" fill="#02D9D7"/><circle cx="696.5" cy="673.5" r="1.4" fill="#02D9D7"/><circle cx="468.5" cy="797.5" r="1.4" fill="#02D9D7"/><circle cx="457.5" cy="790.5" r="1.4" fill="#02D9D7"/><circle cx="598.5" cy="792.5" r="1.4" fill="#02D9D7"/><circle cx="1435.0" cy="733.5" r="1.4" fill="#02D9D7"/><circle cx="286.0" cy="732.0" r="1.4" fill="#02D9D7"/><circle cx="376.0" cy="809.0" r="1.4" fill="#02D9D7"/><circle cx="503.0" cy="829.5" r="1.4" fill="#02D9D7"/><circle cx="420.0" cy="832.0" r="1.4" fill="#02D9D7"/><circle cx="144.5" cy="475.0" r="1.4" fill="#8476AB"/><circle cx="165.0" cy="475.0" r="1.4" fill="#E496B6"/><circle cx="141.5" cy="562.0" r="1.4" fill="#8476AB"/><circle cx="798.5" cy="556.5" r="1.4" fill="#E496B6"/><circle cx="141.5" cy="558.5" r="1.4" fill="#E496B6"/><circle cx="144.5" cy="730.0" r="1.4" fill="#8476AB"/><circle cx="217.0" cy="725.5" r="1.4" fill="#E496B6"/><circle cx="162.5" cy="401.0" r="1.4" fill="#8476AB"/><circle cx="754.5" cy="345.0" r="1.4" fill="#8476AB"/><circle cx="241.0" cy="328.0" r="1.4" fill="#8476AB"/><circle cx="636.5" cy="237.5" r="1.4" fill="#8476AB"/><circle cx="509.0" cy="197.5" r="1.4" fill="#8476AB"/><circle cx="473.0" cy="194.5" r="1.4" fill="#8476AB"/><circle cx="445.0" cy="225.0" r="1.4" fill="#8476AB"/><circle cx="546.0" cy="208.0" r="1.4" fill="#8476AB"/><circle cx="503.0" cy="194.5" r="1.4" fill="#8476AB"/><circle cx="334.5" cy="226.5" r="1.4" fill="#8476AB"/><circle cx="289.0" cy="256.5" r="1.4" fill="#8476AB"/><circle cx="314.5" cy="257.5" r="1.4" fill="#E496B6"/><circle cx="346.0" cy="262.0" r="1.4" fill="#E496B6"/><circle cx="642.0" cy="276.5" r="1.4" fill="#E496B6"/><circle cx="501.0" cy="232.0" r="1.4" fill="#E496B6"/><circle cx="364.0" cy="253.0" r="1.4" fill="#E496B6"/><circle cx="691.5" cy="786.5" r="1.4" fill="#8476AB"/><circle cx="206.0" cy="767.0" r="1.4" fill="#8476AB"/><circle cx="766.0" cy="766.5" r="1.4" fill="#8476AB"/><circle cx="209.5" cy="733.5" r="1.4" fill="#E496B6"/><circle cx="742.0" cy="736.5" r="1.4" fill="#E496B6"/><circle cx="142.0" cy="577.0" r="1.4" fill="#8476AB"/><circle cx="802.0" cy="569.0" r="1.4" fill="#E496B6"/><circle cx="139.0" cy="637.0" r="1.4" fill="#8476AB"/><circle cx="791.5" cy="612.5" r="1.4" fill="#E496B6"/><circle cx="1324.5" cy="719.5" r="1.4" fill="#E496B6"/><circle cx="608.5" cy="827.0" r="1.4" fill="#E496B6"/><circle cx="528.0" cy="872.5" r="1.4" fill="#E496B6"/><circle cx="498.5" cy="869.5" r="1.4" fill="#8476AB"/><circle cx="576.0" cy="864.5" r="1.4" fill="#8476AB"/><circle cx="656.5" cy="797.0" r="1.4" fill="#E496B6"/><circle cx="699.0" cy="808.0" r="1.4" fill="#8476AB"/><circle cx="644.5" cy="818.5" r="1.4" fill="#8476AB"/><circle cx="546.0" cy="882.5" r="1.4" fill="#8476AB"/><circle cx="483.5" cy="888.0" r="1.4" fill="#E496B6"/><circle cx="546.0" cy="887.0" r="1.4" fill="#E496B6"/><circle cx="407.5" cy="892.5" r="1.4" fill="#8476AB"/><circle cx="435.0" cy="904.0" r="1.4" fill="#8476AB"/><circle cx="1571.0" cy="444.0" r="1.3" fill="#93D1C2"/><circle cx="1566.5" cy="439.5" r="1.3" fill="#93D1C2"/><circle cx="1331.5" cy="423.0" r="1.3" fill="#93D1C2"/><circle cx="1563.5" cy="436.5" r="1.3" fill="#949C9F"/><circle cx="1324.5" cy="429.0" r="1.3" fill="#93D1C2"/><circle cx="1576.5" cy="449.5" r="1.3" fill="#02D9D7"/><circle cx="1574.0" cy="447.0" r="1.3" fill="#037C8E"/><circle cx="1322.0" cy="431.5" r="1.3" fill="#949C9F"/><circle cx="1613.0" cy="506.0" r="1.3" fill="#93D1C2"/><circle cx="1267.5" cy="505.0" r="1.3" fill="#E496B6"/><circle cx="1269.5" cy="501.0" r="1.3" fill="#93D1C2"/><circle cx="1364.5" cy="400.0" r="1.3" fill="#E496B6"/><circle cx="1279.5" cy="485.0" r="1.3" fill="#93D1C2"/><circle cx="1258.0" cy="593.0" r="1.3" fill="#E496B6"/><circle cx="1283.5" cy="654.5" r="1.3" fill="#037C8E"/><circle cx="1625.0" cy="563.0" r="1.3" fill="#93D1C2"/><circle cx="1264.0" cy="511.5" r="1.3" fill="#949C9F"/><circle cx="1620.0" cy="532.0" r="1.3" fill="#E496B6"/><circle cx="1623.0" cy="546.0" r="1.3" fill="#949C9F"/><circle cx="1293.5" cy="465.0" r="1.3" fill="#037C8E"/><circle cx="1283.5" cy="479.0" r="1.3" fill="#949C9F"/><circle cx="1281.5" cy="482.0" r="1.3" fill="#949C9F"/><circle cx="1337.0" cy="418.5" r="1.3" fill="#949C9F"/><circle cx="1360.0" cy="402.5" r="1.3" fill="#949C9F"/><circle cx="1357.0" cy="404.5" r="1.3" fill="#949C9F"/><circle cx="1352.0" cy="407.5" r="1.3" fill="#93D1C2"/><circle cx="1349.0" cy="409.5" r="1.3" fill="#93D1C2"/><circle cx="1345.0" cy="412.5" r="1.3" fill="#93D1C2"/><circle cx="1341.0" cy="415.5" r="1.3" fill="#949C9F"/><circle cx="1277.5" cy="488.0" r="1.3" fill="#949C9F"/><circle cx="1275.5" cy="491.0" r="1.3" fill="#949C9F"/><circle cx="1273.5" cy="494.0" r="1.3" fill="#949C9F"/><circle cx="1610.0" cy="498.0" r="1.3" fill="#949C9F"/><circle cx="1296.5" cy="461.0" r="1.3" fill="#949C9F"/><circle cx="1299.0" cy="457.5" r="1.3" fill="#93D1C2"/><circle cx="1285.5" cy="657.5" r="1.3" fill="#E496B6"/><circle cx="1288.5" cy="661.5" r="1.3" fill="#93D1C2"/><circle cx="1290.5" cy="664.5" r="1.3" fill="#93D1C2"/><circle cx="1292.5" cy="667.5" r="1.3" fill="#93D1C2"/><circle cx="1294.5" cy="670.5" r="1.3" fill="#93D1C2"/><circle cx="1296.5" cy="673.5" r="1.3" fill="#93D1C2"/><circle cx="1299.0" cy="678.0" r="1.3" fill="#949C9F"/><circle cx="1419.5" cy="389.5" r="1.3" fill="#93D1C2"/><circle cx="1391.5" cy="736.5" r="1.3" fill="#93D1C2"/><circle cx="1257.0" cy="588.0" r="1.3" fill="#949C9F"/><circle cx="1259.5" cy="597.5" r="1.3" fill="#949C9F"/><circle cx="1256.0" cy="583.5" r="1.3" fill="#949C9F"/><circle cx="1371.5" cy="398.0" r="1.3" fill="#949C9F"/><circle cx="1368.5" cy="399.0" r="1.3" fill="#037C8E"/><circle cx="1473.5" cy="393.5" r="1.3" fill="#E496B6"/><circle cx="1376.0" cy="396.5" r="1.3" fill="#93D1C2"/><circle cx="1625.5" cy="572.0" r="1.3" fill="#949C9F"/><circle cx="1625.5" cy="567.0" r="1.3" fill="#949C9F"/><circle cx="1260.5" cy="600.5" r="1.3" fill="#02D9D7"/><circle cx="1611.5" cy="502.5" r="1.3" fill="#949C9F"/><circle cx="1622.5" cy="543.0" r="1.3" fill="#02D9D7"/><circle cx="1624.5" cy="555.5" r="1.3" fill="#949C9F"/><circle cx="1624.5" cy="558.5" r="1.3" fill="#E496B6"/><circle cx="1624.0" cy="551.0" r="1.3" fill="#949C9F"/><circle cx="1626.0" cy="575.0" r="1.3" fill="#949C9F"/><circle cx="1621.5" cy="537.5" r="1.3" fill="#949C9F"/><circle cx="1618.5" cy="526.5" r="1.3" fill="#93D1C2"/><circle cx="1614.5" cy="510.5" r="1.3" fill="#02D9D7"/><circle cx="1416.5" cy="389.5" r="1.3" fill="#949C9F"/><circle cx="1402.5" cy="738.5" r="1.3" fill="#037C8E"/><circle cx="1396.5" cy="737.5" r="1.3" fill="#02D9D7"/><circle cx="1388.0" cy="736.0" r="1.3" fill="#949C9F"/><circle cx="1300.5" cy="682.0" r="1.3" fill="#E496B6"/><circle cx="1334.5" cy="420.5" r="1.3" fill="#949C9F"/><circle cx="1272.0" cy="497.0" r="1.3" fill="#93D1C2"/><circle cx="1608.5" cy="495.0" r="1.3" fill="#949C9F"/><circle cx="1313.5" cy="439.5" r="1.3" fill="#949C9F"/><circle cx="1316.0" cy="437.0" r="1.3" fill="#949C9F"/><circle cx="1282.0" cy="651.5" r="1.3" fill="#949C9F"/><circle cx="1319.5" cy="433.5" r="1.3" fill="#949C9F"/><circle cx="1327.5" cy="426.5" r="1.3" fill="#949C9F"/><circle cx="1280.0" cy="647.5" r="1.3" fill="#E496B6"/><circle cx="1594.5" cy="469.0" r="1.3" fill="#949C9F"/><circle cx="1417.5" cy="743.0" r="1.3" fill="#949C9F"/><circle cx="1369.0" cy="732.0" r="1.3" fill="#949C9F"/><circle cx="1470.0" cy="393.0" r="1.3" fill="#E496B6"/><circle cx="1413.0" cy="389.0" r="1.3" fill="#037C8E"/><circle cx="1423.0" cy="389.0" r="1.3" fill="#E496B6"/><circle cx="1477.0" cy="394.0" r="1.3" fill="#037C8E"/><circle cx="1435.0" cy="748.5" r="1.3" fill="#949C9F"/><circle cx="1373.0" cy="733.5" r="1.3" fill="#949C9F"/><circle cx="1619.5" cy="617.0" r="1.3" fill="#E496B6"/><circle cx="1454.5" cy="390.0" r="1.3" fill="#93D1C2"/><circle cx="1364.0" cy="732.0" r="1.3" fill="#949C9F"/><circle cx="1429.5" cy="747.0" r="1.3" fill="#037C8E"/><circle cx="1458.0" cy="390.5" r="1.3" fill="#93D1C2"/><circle cx="1411.5" cy="742.0" r="1.3" fill="#E496B6"/><circle cx="1592.0" cy="465.5" r="1.3" fill="#949C9F"/><circle cx="1406.5" cy="740.0" r="1.3" fill="#02D9D7"/><circle cx="1300.5" cy="454.0" r="1.3" fill="#93D1C2"/><circle cx="1561.5" cy="433.0" r="1.3" fill="#949C9F"/><circle cx="1421.0" cy="744.5" r="1.3" fill="#949C9F"/><circle cx="1626.5" cy="579.0" r="1.3" fill="#949C9F"/><circle cx="1607.5" cy="491.0" r="1.3" fill="#037C8E"/><circle cx="1597.0" cy="472.0" r="1.3" fill="#E496B6"/><circle cx="1290.5" cy="467.5" r="1.3" fill="#93D1C2"/><circle cx="1265.5" cy="508.0" r="1.3" fill="#949C9F"/><circle cx="412.5" cy="221.0" r="1.3" fill="#02D9D7"/><circle cx="549.5" cy="224.5" r="1.3" fill="#93D1C2"/><circle cx="482.0" cy="852.5" r="1.3" fill="#037C8E"/><circle cx="563.5" cy="231.5" r="1.3" fill="#949C9F"/><circle cx="438.5" cy="851.5" r="1.3" fill="#E496B6"/><circle cx="493.0" cy="235.0" r="1.3" fill="#949C9F"/><circle cx="561.5" cy="850.0" r="1.3" fill="#93D1C2"/><circle cx="533.0" cy="850.0" r="1.3" fill="#93D1C2"/><circle cx="553.0" cy="268.5" r="1.3" fill="#949C9F"/><circle cx="288.0" cy="274.5" r="1.3" fill="#037C8E"/><circle cx="607.5" cy="277.0" r="1.3" fill="#949C9F"/><circle cx="617.0" cy="279.5" r="1.3" fill="#949C9F"/><circle cx="625.0" cy="282.5" r="1.3" fill="#E496B6"/><circle cx="614.5" cy="285.0" r="1.3" fill="#93D1C2"/><circle cx="325.5" cy="286.5" r="1.3" fill="#949C9F"/><circle cx="623.5" cy="288.0" r="1.3" fill="#949C9F"/><circle cx="323.0" cy="290.5" r="1.3" fill="#037C8E"/><circle cx="271.0" cy="301.5" r="1.3" fill="#037C8E"/><circle cx="634.5" cy="785.0" r="1.3" fill="#93D1C2"/><circle cx="633.5" cy="788.0" r="1.3" fill="#949C9F"/><circle cx="639.5" cy="796.5" r="1.3" fill="#949C9F"/><circle cx="599.5" cy="799.0" r="1.3" fill="#E496B6"/><circle cx="631.5" cy="801.5" r="1.3" fill="#93D1C2"/><circle cx="327.0" cy="802.5" r="1.3" fill="#E496B6"/><circle cx="642.5" cy="805.0" r="1.3" fill="#037C8E"/><circle cx="596.5" cy="807.0" r="1.3" fill="#02D9D7"/><circle cx="628.0" cy="808.5" r="1.3" fill="#93D1C2"/><circle cx="327.0" cy="809.5" r="1.3" fill="#93D1C2"/><circle cx="596.0" cy="823.5" r="1.3" fill="#93D1C2"/><circle cx="330.0" cy="824.5" r="1.3" fill="#949C9F"/><circle cx="593.0" cy="825.5" r="1.3" fill="#949C9F"/><circle cx="571.0" cy="829.5" r="1.3" fill="#93D1C2"/><circle cx="657.0" cy="308.0" r="1.3" fill="#949C9F"/><circle cx="672.0" cy="309.5" r="1.3" fill="#02D9D7"/><circle cx="263.5" cy="315.0" r="1.3" fill="#949C9F"/><circle cx="680.5" cy="315.0" r="1.3" fill="#E496B6"/><circle cx="664.0" cy="315.5" r="1.3" fill="#949C9F"/><circle cx="683.5" cy="328.5" r="1.3" fill="#02D9D7"/><circle cx="752.0" cy="349.0" r="1.3" fill="#93D1C2"/><circle cx="699.5" cy="369.5" r="1.3" fill="#949C9F"/><circle cx="731.0" cy="387.5" r="1.3" fill="#02D9D7"/><circle cx="233.0" cy="398.5" r="1.3" fill="#93D1C2"/><circle cx="203.0" cy="400.5" r="1.3" fill="#037C8E"/><circle cx="223.0" cy="402.0" r="1.3" fill="#93D1C2"/><circle cx="1512.5" cy="403.0" r="1.3" fill="#949C9F"/><circle cx="209.5" cy="409.0" r="1.3" fill="#949C9F"/><circle cx="754.0" cy="415.0" r="1.3" fill="#949C9F"/><circle cx="744.5" cy="434.5" r="1.3" fill="#949C9F"/><circle cx="186.5" cy="456.0" r="1.3" fill="#949C9F"/><circle cx="1300.5" cy="465.0" r="1.3" fill="#E496B6"/><circle cx="1530.0" cy="728.5" r="1.3" fill="#93D1C2"/><circle cx="1376.0" cy="731.0" r="1.3" fill="#E496B6"/><circle cx="730.0" cy="733.0" r="1.3" fill="#93D1C2"/><circle cx="238.0" cy="735.0" r="1.3" fill="#E496B6"/><circle cx="704.0" cy="748.5" r="1.3" fill="#949C9F"/><circle cx="257.0" cy="753.5" r="1.3" fill="#949C9F"/><circle cx="694.0" cy="755.5" r="1.3" fill="#93D1C2"/><circle cx="279.5" cy="764.5" r="1.3" fill="#02D9D7"/><circle cx="227.0" cy="773.0" r="1.3" fill="#949C9F"/><circle cx="297.0" cy="773.0" r="1.3" fill="#E496B6"/><circle cx="661.5" cy="775.0" r="1.3" fill="#949C9F"/><circle cx="640.5" cy="776.5" r="1.3" fill="#949C9F"/><circle cx="315.0" cy="779.5" r="1.3" fill="#93D1C2"/><circle cx="323.0" cy="784.0" r="1.3" fill="#93D1C2"/><circle cx="758.0" cy="479.0" r="1.3" fill="#949C9F"/><circle cx="187.5" cy="479.5" r="1.3" fill="#E496B6"/><circle cx="1294.5" cy="484.0" r="1.3" fill="#E496B6"/><circle cx="1294.0" cy="488.0" r="1.3" fill="#949C9F"/><circle cx="771.5" cy="506.5" r="1.3" fill="#93D1C2"/><circle cx="786.5" cy="517.5" r="1.3" fill="#02D9D7"/><circle cx="167.5" cy="522.5" r="1.3" fill="#E496B6"/><circle cx="774.5" cy="526.0" r="1.3" fill="#E496B6"/><circle cx="1614.5" cy="531.5" r="1.3" fill="#E496B6"/><circle cx="175.0" cy="541.0" r="1.3" fill="#E496B6"/><circle cx="212.5" cy="695.0" r="1.3" fill="#93D1C2"/><circle cx="735.5" cy="700.5" r="1.3" fill="#037C8E"/><circle cx="716.5" cy="704.5" r="1.3" fill="#949C9F"/><circle cx="235.0" cy="705.5" r="1.3" fill="#93D1C2"/><circle cx="1349.0" cy="723.0" r="1.3" fill="#949C9F"/><circle cx="242.0" cy="726.5" r="1.3" fill="#949C9F"/><circle cx="238.5" cy="728.5" r="1.3" fill="#93D1C2"/><circle cx="793.0" cy="559.5" r="1.3" fill="#93D1C2"/><circle cx="189.0" cy="597.5" r="1.3" fill="#93D1C2"/><circle cx="166.0" cy="600.0" r="1.3" fill="#93D1C2"/><circle cx="173.0" cy="602.0" r="1.3" fill="#949C9F"/><circle cx="165.0" cy="608.0" r="1.3" fill="#93D1C2"/><circle cx="171.0" cy="609.0" r="1.3" fill="#949C9F"/><circle cx="776.5" cy="618.0" r="1.3" fill="#949C9F"/><circle cx="185.0" cy="621.0" r="1.3" fill="#93D1C2"/><circle cx="1268.5" cy="626.5" r="1.3" fill="#037C8E"/><circle cx="185.5" cy="632.5" r="1.3" fill="#037C8E"/><circle cx="195.0" cy="645.0" r="1.3" fill="#949C9F"/><circle cx="194.5" cy="660.0" r="1.3" fill="#949C9F"/><circle cx="761.5" cy="667.5" r="1.3" fill="#93D1C2"/><circle cx="765.5" cy="671.5" r="1.3" fill="#949C9F"/><circle cx="739.5" cy="690.5" r="1.3" fill="#949C9F"/><circle cx="508.0" cy="235.5" r="1.3" fill="#037C8E"/><circle cx="512.0" cy="238.0" r="1.3" fill="#93D1C2"/><circle cx="556.0" cy="238.0" r="1.3" fill="#949C9F"/><circle cx="383.5" cy="239.0" r="1.3" fill="#E496B6"/><circle cx="472.5" cy="242.0" r="1.3" fill="#E496B6"/><circle cx="556.5" cy="244.5" r="1.3" fill="#93D1C2"/><circle cx="492.0" cy="250.0" r="1.3" fill="#93D1C2"/><circle cx="631.5" cy="253.0" r="1.3" fill="#93D1C2"/><circle cx="609.5" cy="253.5" r="1.3" fill="#93D1C2"/><circle cx="367.0" cy="255.5" r="1.3" fill="#E496B6"/><circle cx="459.5" cy="256.5" r="1.3" fill="#02D9D7"/><circle cx="385.5" cy="258.5" r="1.3" fill="#949C9F"/><circle cx="639.0" cy="258.5" r="1.3" fill="#037C8E"/><circle cx="368.5" cy="263.0" r="1.3" fill="#93D1C2"/><circle cx="325.0" cy="265.5" r="1.3" fill="#E496B6"/><circle cx="558.5" cy="832.0" r="1.3" fill="#E496B6"/><circle cx="421.5" cy="835.5" r="1.3" fill="#949C9F"/><circle cx="429.0" cy="836.5" r="1.3" fill="#949C9F"/><circle cx="397.5" cy="841.0" r="1.3" fill="#E496B6"/><circle cx="393.5" cy="842.0" r="1.3" fill="#93D1C2"/><circle cx="513.5" cy="843.0" r="1.3" fill="#949C9F"/><circle cx="453.5" cy="849.0" r="1.3" fill="#949C9F"/><circle cx="1555.0" cy="709.0" r="1.2" fill="#93D1C2"/><circle cx="1524.5" cy="406.5" r="1.2" fill="#02D9D7"/><circle cx="1444.5" cy="389.5" r="1.2" fill="#949C9F"/><circle cx="1461.0" cy="390.0" r="1.2" fill="#949C9F"/><circle cx="1585.0" cy="456.0" r="1.2" fill="#949C9F"/><circle cx="1441.5" cy="388.5" r="1.2" fill="#037C8E"/><circle cx="1451.5" cy="389.0" r="1.2" fill="#949C9F"/><circle cx="1448.5" cy="389.0" r="1.2" fill="#E496B6"/><circle cx="1621.0" cy="613.0" r="1.2" fill="#949C9F"/><circle cx="1569.5" cy="441.0" r="1.2" fill="#037C8E"/><circle cx="1619.0" cy="523.0" r="1.2" fill="#93D1C2"/><circle cx="1253.5" cy="581.0" r="1.2" fill="#93D1C2"/><circle cx="1438.0" cy="750.0" r="1.2" fill="#02D9D7"/><circle cx="1467.0" cy="391.0" r="1.2" fill="#93D1C2"/><circle cx="1355.5" cy="407.5" r="1.2" fill="#93D1C2"/><circle cx="1617.0" cy="513.5" r="1.2" fill="#E496B6"/><circle cx="1618.0" cy="621.0" r="1.2" fill="#E496B6"/><circle cx="1300.0" cy="685.5" r="1.2" fill="#93D1C2"/><circle cx="1261.0" cy="513.5" r="1.2" fill="#93D1C2"/><circle cx="1590.5" cy="462.5" r="1.2" fill="#037C8E"/><circle cx="396.0" cy="289.5" r="1.2" fill="#02D9D7"/><circle cx="529.0" cy="304.5" r="1.2" fill="#8C2F8B"/><circle cx="445.0" cy="311.0" r="1.2" fill="#8C2F8B"/><circle cx="447.5" cy="313.5" r="1.2" fill="#8C2F8B"/><circle cx="456.5" cy="306.5" r="1.2" fill="#8C2F8B"/><circle cx="595.5" cy="342.5" r="1.2" fill="#8C2F8B"/><circle cx="691.5" cy="342.5" r="1.2" fill="#8C2F8B"/><circle cx="683.5" cy="333.5" r="1.2" fill="#8C2F8B"/><circle cx="638.0" cy="346.5" r="1.2" fill="#8C2F8B"/><circle cx="304.5" cy="347.0" r="1.2" fill="#8C2F8B"/><circle cx="681.0" cy="372.0" r="1.2" fill="#8C2F8B"/><circle cx="681.0" cy="391.5" r="1.2" fill="#8C2F8B"/><circle cx="271.5" cy="400.0" r="1.2" fill="#8C2F8B"/><circle cx="1490.0" cy="418.5" r="1.2" fill="#8C2F8B"/><circle cx="1500.0" cy="426.5" r="1.2" fill="#8C2F8B"/><circle cx="1498.0" cy="431.5" r="1.2" fill="#8C2F8B"/><circle cx="257.5" cy="446.0" r="1.2" fill="#8C2F8B"/><circle cx="240.0" cy="463.5" r="1.2" fill="#8C2F8B"/><circle cx="222.0" cy="476.5" r="1.2" fill="#8C2F8B"/><circle cx="232.5" cy="477.5" r="1.2" fill="#8C2F8B"/><circle cx="200.5" cy="518.0" r="1.2" fill="#8C2F8B"/><circle cx="219.5" cy="557.5" r="1.2" fill="#8C2F8B"/><circle cx="249.5" cy="660.0" r="1.2" fill="#8C2F8B"/><circle cx="1320.5" cy="673.0" r="1.2" fill="#8C2F8B"/><circle cx="248.5" cy="674.0" r="1.2" fill="#8C2F8B"/><circle cx="265.5" cy="680.5" r="1.2" fill="#8C2F8B"/><circle cx="1359.0" cy="684.0" r="1.2" fill="#8C2F8B"/><circle cx="1532.5" cy="685.5" r="1.2" fill="#8C2F8B"/><circle cx="665.5" cy="695.0" r="1.2" fill="#8C2F8B"/><circle cx="1550.0" cy="707.0" r="1.2" fill="#02D9D7"/><circle cx="278.5" cy="707.5" r="1.2" fill="#8C2F8B"/><circle cx="650.5" cy="708.0" r="1.2" fill="#8C2F8B"/><circle cx="1393.0" cy="709.5" r="1.2" fill="#8C2F8B"/><circle cx="657.5" cy="404.5" r="1.2" fill="#8C2F8B"/><circle cx="1435.0" cy="709.5" r="1.2" fill="#8C2F8B"/><circle cx="315.5" cy="719.0" r="1.2" fill="#8C2F8B"/><circle cx="1326.5" cy="715.0" r="1.2" fill="#8C2F8B"/><circle cx="656.5" cy="736.0" r="1.2" fill="#8C2F8B"/><circle cx="594.0" cy="757.5" r="1.2" fill="#8C2F8B"/><circle cx="389.0" cy="762.5" r="1.2" fill="#8C2F8B"/><circle cx="341.0" cy="765.0" r="1.2" fill="#8C2F8B"/><circle cx="446.0" cy="779.5" r="1.2" fill="#8C2F8B"/><circle cx="420.0" cy="767.5" r="1.2" fill="#8C2F8B"/><circle cx="378.0" cy="786.0" r="1.2" fill="#8C2F8B"/><circle cx="549.0" cy="824.0" r="1.2" fill="#8C2F8B"/><circle cx="573.5" cy="238.5" r="1.2" fill="#02D9D7"/><circle cx="497.5" cy="263.5" r="1.2" fill="#02D9D7"/><circle cx="421.5" cy="271.5" r="1.2" fill="#02D9D7"/><circle cx="551.0" cy="272.5" r="1.2" fill="#02D9D7"/><circle cx="468.0" cy="273.0" r="1.2" fill="#02D9D7"/><circle cx="534.0" cy="276.5" r="1.2" fill="#02D9D7"/><circle cx="503.5" cy="278.5" r="1.2" fill="#02D9D7"/><circle cx="478.0" cy="281.0" r="1.2" fill="#02D9D7"/><circle cx="573.0" cy="284.0" r="1.2" fill="#02D9D7"/><circle cx="465.0" cy="285.0" r="1.2" fill="#02D9D7"/><circle cx="613.5" cy="288.5" r="1.2" fill="#02D9D7"/><circle cx="608.0" cy="304.0" r="1.2" fill="#02D9D7"/><circle cx="322.5" cy="320.0" r="1.2" fill="#02D9D7"/><circle cx="624.0" cy="328.5" r="1.2" fill="#02D9D7"/><circle cx="300.0" cy="332.5" r="1.2" fill="#02D9D7"/><circle cx="252.5" cy="338.0" r="1.2" fill="#02D9D7"/><circle cx="634.5" cy="344.0" r="1.2" fill="#02D9D7"/><circle cx="300.0" cy="349.5" r="1.2" fill="#02D9D7"/><circle cx="291.5" cy="352.5" r="1.2" fill="#02D9D7"/><circle cx="706.0" cy="395.0" r="1.2" fill="#02D9D7"/><circle cx="1465.5" cy="403.0" r="1.2" fill="#02D9D7"/><circle cx="1400.5" cy="408.0" r="1.2" fill="#02D9D7"/><circle cx="1359.0" cy="410.5" r="1.2" fill="#02D9D7"/><circle cx="1379.0" cy="410.5" r="1.2" fill="#02D9D7"/><circle cx="727.0" cy="425.0" r="1.2" fill="#93D1C2"/><circle cx="248.0" cy="435.5" r="1.2" fill="#02D9D7"/><circle cx="1345.5" cy="443.0" r="1.2" fill="#02D9D7"/><circle cx="226.5" cy="453.5" r="1.2" fill="#02D9D7"/><circle cx="1589.0" cy="495.5" r="1.2" fill="#02D9D7"/><circle cx="1606.0" cy="502.5" r="1.2" fill="#02D9D7"/><circle cx="174.5" cy="507.5" r="1.2" fill="#02D9D7"/><circle cx="1271.0" cy="510.5" r="1.2" fill="#02D9D7"/><circle cx="757.0" cy="515.0" r="1.2" fill="#02D9D7"/><circle cx="1617.0" cy="539.0" r="1.2" fill="#02D9D7"/><circle cx="1617.5" cy="542.0" r="1.2" fill="#02D9D7"/><circle cx="1609.5" cy="549.5" r="1.2" fill="#02D9D7"/><circle cx="204.5" cy="567.0" r="1.2" fill="#02D9D7"/><circle cx="731.5" cy="568.0" r="1.2" fill="#02D9D7"/><circle cx="1260.5" cy="581.5" r="1.2" fill="#02D9D7"/><circle cx="749.0" cy="583.0" r="1.2" fill="#02D9D7"/><circle cx="205.0" cy="584.0" r="1.2" fill="#02D9D7"/><circle cx="201.0" cy="615.5" r="1.2" fill="#02D9D7"/><circle cx="1614.0" cy="621.0" r="1.2" fill="#02D9D7"/><circle cx="244.0" cy="646.0" r="1.2" fill="#02D9D7"/><circle cx="231.0" cy="650.5" r="1.2" fill="#02D9D7"/><circle cx="1304.5" cy="650.5" r="1.2" fill="#02D9D7"/><circle cx="1294.5" cy="656.5" r="1.2" fill="#02D9D7"/><circle cx="1305.5" cy="662.5" r="1.2" fill="#02D9D7"/><circle cx="1308.5" cy="670.5" r="1.2" fill="#02D9D7"/><circle cx="267.0" cy="687.0" r="1.2" fill="#02D9D7"/><circle cx="1417.5" cy="726.5" r="1.2" fill="#02D9D7"/><circle cx="641.5" cy="733.0" r="1.2" fill="#02D9D7"/><circle cx="644.0" cy="735.0" r="1.2" fill="#02D9D7"/><circle cx="294.0" cy="738.5" r="1.2" fill="#02D9D7"/><circle cx="278.5" cy="745.5" r="1.2" fill="#02D9D7"/><circle cx="293.5" cy="745.5" r="1.2" fill="#02D9D7"/><circle cx="682.5" cy="749.0" r="1.2" fill="#02D9D7"/><circle cx="660.0" cy="755.5" r="1.2" fill="#02D9D7"/><circle cx="650.5" cy="757.5" r="1.2" fill="#02D9D7"/><circle cx="312.5" cy="765.0" r="1.2" fill="#02D9D7"/><circle cx="338.5" cy="767.5" r="1.2" fill="#02D9D7"/><circle cx="326.0" cy="775.5" r="1.2" fill="#02D9D7"/><circle cx="398.5" cy="801.0" r="1.2" fill="#02D9D7"/><circle cx="576.5" cy="804.5" r="1.2" fill="#02D9D7"/><circle cx="593.0" cy="808.0" r="1.2" fill="#02D9D7"/><circle cx="583.5" cy="818.0" r="1.2" fill="#93D1C2"/><circle cx="433.0" cy="822.0" r="1.2" fill="#02D9D7"/><circle cx="489.5" cy="824.0" r="1.2" fill="#02D9D7"/><circle cx="436.0" cy="827.0" r="1.2" fill="#02D9D7"/><circle cx="444.5" cy="205.5" r="1.2" fill="#8476AB"/><circle cx="506.0" cy="207.5" r="1.2" fill="#8476AB"/><circle cx="508.5" cy="210.5" r="1.2" fill="#8476AB"/><circle cx="539.0" cy="216.5" r="1.2" fill="#8476AB"/><circle cx="471.0" cy="217.5" r="1.2" fill="#8476AB"/><circle cx="570.0" cy="218.0" r="1.2" fill="#8476AB"/><circle cx="540.0" cy="219.5" r="1.2" fill="#8476AB"/><circle cx="454.5" cy="224.5" r="1.2" fill="#E496B6"/><circle cx="463.5" cy="232.0" r="1.2" fill="#E496B6"/><circle cx="382.0" cy="235.5" r="1.2" fill="#E496B6"/><circle cx="631.5" cy="238.0" r="1.2" fill="#8476AB"/><circle cx="641.5" cy="248.0" r="1.2" fill="#8476AB"/><circle cx="349.5" cy="248.5" r="1.2" fill="#8476AB"/><circle cx="679.0" cy="259.0" r="1.2" fill="#E496B6"/><circle cx="263.5" cy="264.0" r="1.2" fill="#E496B6"/><circle cx="661.0" cy="268.5" r="1.2" fill="#E496B6"/><circle cx="653.5" cy="278.5" r="1.2" fill="#E496B6"/><circle cx="640.0" cy="279.5" r="1.2" fill="#E496B6"/><circle cx="233.5" cy="295.5" r="1.2" fill="#8476AB"/><circle cx="266.0" cy="302.5" r="1.2" fill="#E496B6"/><circle cx="219.0" cy="326.5" r="1.2" fill="#8476AB"/><circle cx="172.0" cy="342.5" r="1.2" fill="#8476AB"/><circle cx="178.0" cy="364.5" r="1.2" fill="#8476AB"/><circle cx="759.0" cy="371.5" r="1.2" fill="#8476AB"/><circle cx="171.5" cy="380.5" r="1.2" fill="#8476AB"/><circle cx="810.5" cy="414.0" r="1.2" fill="#E496B6"/><circle cx="758.0" cy="414.5" r="1.2" fill="#E496B6"/><circle cx="789.5" cy="420.0" r="1.2" fill="#E496B6"/><circle cx="178.5" cy="460.5" r="1.2" fill="#E496B6"/><circle cx="808.0" cy="474.5" r="1.2" fill="#8476AB"/><circle cx="129.5" cy="480.5" r="1.2" fill="#8476AB"/><circle cx="791.5" cy="502.0" r="1.2" fill="#E496B6"/><circle cx="152.5" cy="514.5" r="1.2" fill="#E496B6"/><circle cx="788.5" cy="540.0" r="1.2" fill="#E496B6"/><circle cx="818.0" cy="557.0" r="1.2" fill="#E496B6"/><circle cx="796.5" cy="560.5" r="1.2" fill="#E496B6"/><circle cx="830.5" cy="573.0" r="1.2" fill="#8476AB"/><circle cx="123.5" cy="584.5" r="1.2" fill="#8476AB"/><circle cx="178.5" cy="619.5" r="1.2" fill="#E496B6"/><circle cx="153.0" cy="663.0" r="1.2" fill="#E496B6"/><circle cx="762.0" cy="673.5" r="1.2" fill="#8476AB"/><circle cx="158.0" cy="710.5" r="1.2" fill="#E496B6"/><circle cx="213.5" cy="727.0" r="1.2" fill="#E496B6"/><circle cx="227.5" cy="731.0" r="1.2" fill="#8476AB"/><circle cx="730.0" cy="737.0" r="1.2" fill="#E496B6"/><circle cx="202.5" cy="739.0" r="1.2" fill="#E496B6"/><circle cx="185.0" cy="741.5" r="1.2" fill="#8476AB"/><circle cx="204.5" cy="743.5" r="1.2" fill="#8476AB"/><circle cx="201.0" cy="763.0" r="1.2" fill="#8476AB"/><circle cx="718.0" cy="768.0" r="1.2" fill="#E496B6"/><circle cx="255.0" cy="770.5" r="1.2" fill="#E496B6"/><circle cx="713.5" cy="771.5" r="1.2" fill="#E496B6"/><circle cx="259.5" cy="777.5" r="1.2" fill="#E496B6"/><circle cx="669.0" cy="802.0" r="1.2" fill="#E496B6"/><circle cx="280.0" cy="802.5" r="1.2" fill="#8476AB"/><circle cx="657.0" cy="813.5" r="1.2" fill="#E496B6"/><circle cx="578.5" cy="829.0" r="1.2" fill="#E496B6"/><circle cx="636.5" cy="830.0" r="1.2" fill="#E496B6"/><circle cx="568.0" cy="843.5" r="1.2" fill="#E496B6"/><circle cx="335.5" cy="845.5" r="1.2" fill="#E496B6"/><circle cx="325.5" cy="856.5" r="1.2" fill="#8476AB"/><circle cx="465.0" cy="857.5" r="1.2" fill="#E496B6"/><circle cx="497.5" cy="866.0" r="1.2" fill="#E496B6"/><circle cx="479.0" cy="868.5" r="1.2" fill="#E496B6"/><circle cx="579.5" cy="869.5" r="1.2" fill="#8476AB"/><circle cx="576.0" cy="877.5" r="1.2" fill="#8476AB"/><circle cx="401.0" cy="879.0" r="1.2" fill="#8476AB"/><circle cx="376.5" cy="886.5" r="1.2" fill="#E496B6"/><circle cx="480.0" cy="891.0" r="1.2" fill="#E496B6"/><circle cx="450.0" cy="896.0" r="1.2" fill="#8476AB"/><circle cx="426.5" cy="897.5" r="1.2" fill="#8476AB"/><circle cx="1517.5" cy="404.0" r="1.1" fill="#949C9F"/><circle cx="1587.0" cy="458.5" r="1.1" fill="#E496B6"/><circle cx="1558.0" cy="707.0" r="1.1" fill="#E496B6"/><circle cx="1520.5" cy="405.0" r="1.1" fill="#E496B6"/><circle cx="1425.5" cy="746.5" r="1.1" fill="#949C9F"/><circle cx="1480.0" cy="393.0" r="1.1" fill="#E496B6"/><circle cx="1353.5" cy="404.5" r="1.1" fill="#93D1C2"/><circle cx="1310.5" cy="440.5" r="1.1" fill="#037C8E"/><circle cx="1579.5" cy="450.5" r="1.1" fill="#93D1C2"/><circle cx="1284.5" cy="476.0" r="1.1" fill="#02D9D7"/><circle cx="1622.0" cy="553.5" r="1.1" fill="#949C9F"/><circle cx="1627.5" cy="569.5" r="1.1" fill="#93D1C2"/><circle cx="1619.0" cy="535.0" r="1.1" fill="#93D1C2"/><circle cx="1622.5" cy="534.5" r="1.1" fill="#93D1C2"/><circle cx="1623.5" cy="540.0" r="1.1" fill="#93D1C2"/><circle cx="1399.5" cy="739.5" r="1.1" fill="#93D1C2"/><circle cx="1384.5" cy="736.5" r="1.1" fill="#949C9F"/><circle cx="391.0" cy="844.0" r="1.1" fill="#93D1C2"/><circle cx="433.0" cy="845.5" r="1.1" fill="#93D1C2"/><circle cx="443.0" cy="845.5" r="1.1" fill="#E496B6"/><circle cx="448.0" cy="848.5" r="1.1" fill="#949C9F"/><circle cx="437.5" cy="841.0" r="1.1" fill="#93D1C2"/><circle cx="504.0" cy="841.0" r="1.1" fill="#93D1C2"/><circle cx="586.0" cy="829.5" r="1.1" fill="#E496B6"/><circle cx="397.5" cy="833.0" r="1.1" fill="#037C8E"/><circle cx="549.5" cy="259.5" r="1.1" fill="#949C9F"/><circle cx="502.0" cy="260.0" r="1.1" fill="#E496B6"/><circle cx="683.5" cy="263.5" r="1.1" fill="#E496B6"/><circle cx="544.0" cy="265.0" r="1.1" fill="#037C8E"/><circle cx="456.5" cy="241.0" r="1.1" fill="#949C9F"/><circle cx="400.0" cy="242.5" r="1.1" fill="#949C9F"/><circle cx="397.0" cy="244.0" r="1.1" fill="#949C9F"/><circle cx="507.0" cy="246.0" r="1.1" fill="#93D1C2"/><circle cx="593.5" cy="235.5" r="1.1" fill="#E496B6"/><circle cx="743.0" cy="682.0" r="1.1" fill="#93D1C2"/><circle cx="197.0" cy="686.0" r="1.1" fill="#E496B6"/><circle cx="801.5" cy="631.5" r="1.1" fill="#93D1C2"/><circle cx="807.0" cy="636.0" r="1.1" fill="#93D1C2"/><circle cx="194.5" cy="637.5" r="1.1" fill="#037C8E"/><circle cx="181.0" cy="608.5" r="1.1" fill="#93D1C2"/><circle cx="197.5" cy="614.0" r="1.1" fill="#93D1C2"/><circle cx="782.0" cy="560.0" r="1.1" fill="#E496B6"/><circle cx="768.5" cy="577.5" r="1.1" fill="#02D9D7"/><circle cx="1623.0" cy="601.5" r="1.1" fill="#949C9F"/><circle cx="245.5" cy="718.5" r="1.1" fill="#949C9F"/><circle cx="700.0" cy="722.5" r="1.1" fill="#93D1C2"/><circle cx="222.0" cy="723.0" r="1.1" fill="#949C9F"/><circle cx="717.5" cy="708.0" r="1.1" fill="#949C9F"/><circle cx="730.5" cy="709.5" r="1.1" fill="#949C9F"/><circle cx="1337.5" cy="711.0" r="1.1" fill="#949C9F"/><circle cx="1348.5" cy="712.5" r="1.1" fill="#949C9F"/><circle cx="771.5" cy="695.0" r="1.1" fill="#949C9F"/><circle cx="773.5" cy="531.5" r="1.1" fill="#93D1C2"/><circle cx="157.5" cy="556.5" r="1.1" fill="#93D1C2"/><circle cx="768.5" cy="510.0" r="1.1" fill="#93D1C2"/><circle cx="766.0" cy="516.5" r="1.1" fill="#93D1C2"/><circle cx="781.0" cy="525.0" r="1.1" fill="#949C9F"/><circle cx="1601.5" cy="484.0" r="1.1" fill="#949C9F"/><circle cx="766.0" cy="485.0" r="1.1" fill="#93D1C2"/><circle cx="752.0" cy="492.5" r="1.1" fill="#E496B6"/><circle cx="189.5" cy="466.0" r="1.1" fill="#949C9F"/><circle cx="1299.0" cy="475.5" r="1.1" fill="#037C8E"/><circle cx="302.0" cy="777.5" r="1.1" fill="#93D1C2"/><circle cx="666.5" cy="779.0" r="1.1" fill="#93D1C2"/><circle cx="288.5" cy="759.5" r="1.1" fill="#949C9F"/><circle cx="261.0" cy="774.0" r="1.1" fill="#037C8E"/><circle cx="176.5" cy="735.5" r="1.1" fill="#949C9F"/><circle cx="690.5" cy="742.0" r="1.1" fill="#949C9F"/><circle cx="248.5" cy="742.5" r="1.1" fill="#93D1C2"/><circle cx="710.0" cy="742.5" r="1.1" fill="#949C9F"/><circle cx="692.0" cy="745.0" r="1.1" fill="#93D1C2"/><circle cx="245.5" cy="728.5" r="1.1" fill="#93D1C2"/><circle cx="692.5" cy="732.5" r="1.1" fill="#949C9F"/><circle cx="778.5" cy="453.5" r="1.1" fill="#949C9F"/><circle cx="192.0" cy="462.0" r="1.1" fill="#949C9F"/><circle cx="753.5" cy="430.5" r="1.1" fill="#949C9F"/><circle cx="735.0" cy="431.0" r="1.1" fill="#949C9F"/><circle cx="741.5" cy="369.5" r="1.1" fill="#E496B6"/><circle cx="709.0" cy="373.5" r="1.1" fill="#93D1C2"/><circle cx="228.0" cy="383.0" r="1.1" fill="#037C8E"/><circle cx="719.5" cy="352.5" r="1.1" fill="#949C9F"/><circle cx="243.0" cy="356.5" r="1.1" fill="#02D9D7"/><circle cx="694.0" cy="361.0" r="1.1" fill="#037C8E"/><circle cx="711.5" cy="363.5" r="1.1" fill="#93D1C2"/><circle cx="239.5" cy="364.5" r="1.1" fill="#949C9F"/><circle cx="280.5" cy="319.0" r="1.1" fill="#93D1C2"/><circle cx="285.5" cy="310.5" r="1.1" fill="#93D1C2"/><circle cx="673.0" cy="315.5" r="1.1" fill="#949C9F"/><circle cx="646.0" cy="306.5" r="1.1" fill="#93D1C2"/><circle cx="677.0" cy="306.5" r="1.1" fill="#93D1C2"/><circle cx="627.0" cy="825.5" r="1.1" fill="#E496B6"/><circle cx="350.5" cy="820.5" r="1.1" fill="#93D1C2"/><circle cx="584.0" cy="821.5" r="1.1" fill="#93D1C2"/><circle cx="612.0" cy="823.0" r="1.1" fill="#949C9F"/><circle cx="614.0" cy="784.5" r="1.1" fill="#93D1C2"/><circle cx="326.5" cy="787.0" r="1.1" fill="#949C9F"/><circle cx="612.5" cy="794.0" r="1.1" fill="#93D1C2"/><circle cx="653.0" cy="795.5" r="1.1" fill="#E496B6"/><circle cx="292.5" cy="302.0" r="1.1" fill="#93D1C2"/><circle cx="324.5" cy="302.0" r="1.1" fill="#E496B6"/><circle cx="652.0" cy="302.5" r="1.1" fill="#949C9F"/><circle cx="689.5" cy="292.5" r="1.1" fill="#02D9D7"/><circle cx="296.5" cy="279.0" r="1.1" fill="#93D1C2"/><circle cx="636.0" cy="279.0" r="1.1" fill="#E496B6"/><circle cx="499.0" cy="235.5" r="1.1" fill="#E496B6"/><circle cx="608.5" cy="235.0" r="1.1" fill="#949C9F"/><circle cx="591.0" cy="234.5" r="1.1" fill="#93D1C2"/><circle cx="557.5" cy="228.5" r="1.1" fill="#037C8E"/><circle cx="583.0" cy="226.5" r="1.1" fill="#037C8E"/><circle cx="487.5" cy="856.5" r="1.1" fill="#93D1C2"/><circle cx="396.0" cy="869.5" r="1.1" fill="#949C9F"/><circle cx="392.0" cy="867.5" r="1.0" fill="#037C8E"/><circle cx="448.5" cy="857.5" r="1.0" fill="#93D1C2"/><circle cx="577.0" cy="227.0" r="1.0" fill="#93D1C2"/><circle cx="391.0" cy="229.0" r="1.0" fill="#949C9F"/><circle cx="528.0" cy="229.0" r="1.0" fill="#949C9F"/><circle cx="420.0" cy="259.5" r="1.0" fill="#E496B6"/><circle cx="491.0" cy="260.5" r="1.0" fill="#93D1C2"/><circle cx="354.0" cy="263.5" r="1.0" fill="#949C9F"/><circle cx="560.0" cy="264.0" r="1.0" fill="#93D1C2"/><circle cx="674.0" cy="275.0" r="1.0" fill="#E496B6"/><circle cx="610.5" cy="800.0" r="1.0" fill="#949C9F"/><circle cx="333.5" cy="802.0" r="1.0" fill="#02D9D7"/><circle cx="284.0" cy="805.0" r="1.0" fill="#949C9F"/><circle cx="603.5" cy="808.0" r="1.0" fill="#037C8E"/><circle cx="285.0" cy="811.0" r="1.0" fill="#93D1C2"/><circle cx="294.5" cy="765.0" r="1.0" fill="#E496B6"/><circle cx="668.0" cy="769.0" r="1.0" fill="#949C9F"/><circle cx="272.0" cy="771.5" r="1.0" fill="#93D1C2"/><circle cx="673.5" cy="774.5" r="1.0" fill="#E496B6"/><circle cx="289.5" cy="778.5" r="1.0" fill="#949C9F"/><circle cx="294.0" cy="782.0" r="1.0" fill="#949C9F"/><circle cx="680.0" cy="798.5" r="1.0" fill="#E496B6"/><circle cx="638.5" cy="276.5" r="1.0" fill="#949C9F"/><circle cx="276.0" cy="278.0" r="1.0" fill="#949C9F"/><circle cx="710.5" cy="282.0" r="1.0" fill="#949C9F"/><circle cx="335.5" cy="285.0" r="1.0" fill="#949C9F"/><circle cx="333.0" cy="292.0" r="1.0" fill="#E496B6"/><circle cx="645.0" cy="297.0" r="1.0" fill="#93D1C2"/><circle cx="286.0" cy="303.5" r="1.0" fill="#93D1C2"/><circle cx="664.5" cy="310.0" r="1.0" fill="#93D1C2"/><circle cx="265.0" cy="310.5" r="1.0" fill="#949C9F"/><circle cx="230.5" cy="328.0" r="1.0" fill="#949C9F"/><circle cx="734.0" cy="707.0" r="1.0" fill="#E496B6"/><circle cx="725.5" cy="707.5" r="1.0" fill="#93D1C2"/><circle cx="703.0" cy="714.0" r="1.0" fill="#949C9F"/><circle cx="1543.5" cy="722.0" r="1.0" fill="#037C8E"/><circle cx="709.0" cy="722.5" r="1.0" fill="#949C9F"/><circle cx="695.0" cy="723.0" r="1.0" fill="#037C8E"/><circle cx="242.0" cy="737.0" r="1.0" fill="#93D1C2"/><circle cx="272.0" cy="753.0" r="1.0" fill="#E496B6"/><circle cx="769.5" cy="670.5" r="1.0" fill="#93D1C2"/><circle cx="216.5" cy="683.0" r="1.0" fill="#037C8E"/><circle cx="744.0" cy="685.5" r="1.0" fill="#949C9F"/><circle cx="184.0" cy="693.0" r="1.0" fill="#949C9F"/><circle cx="179.0" cy="695.0" r="1.0" fill="#E496B6"/><circle cx="175.0" cy="697.0" r="1.0" fill="#02D9D7"/><circle cx="749.5" cy="697.0" r="1.0" fill="#949C9F"/><circle cx="746.5" cy="698.0" r="1.0" fill="#949C9F"/><circle cx="688.0" cy="334.5" r="1.0" fill="#949C9F"/><circle cx="205.0" cy="336.0" r="1.0" fill="#93D1C2"/><circle cx="715.0" cy="346.5" r="1.0" fill="#93D1C2"/><circle cx="237.5" cy="348.0" r="1.0" fill="#93D1C2"/><circle cx="695.0" cy="356.0" r="1.0" fill="#E496B6"/><circle cx="234.5" cy="361.0" r="1.0" fill="#93D1C2"/><circle cx="716.0" cy="369.0" r="1.0" fill="#93D1C2"/><circle cx="767.0" cy="596.5" r="1.0" fill="#E496B6"/><circle cx="786.5" cy="610.0" r="1.0" fill="#02D9D7"/><circle cx="773.0" cy="611.0" r="1.0" fill="#037C8E"/><circle cx="188.5" cy="618.5" r="1.0" fill="#949C9F"/><circle cx="1277.5" cy="622.5" r="1.0" fill="#037C8E"/><circle cx="797.0" cy="636.5" r="1.0" fill="#93D1C2"/><circle cx="185.0" cy="637.0" r="1.0" fill="#949C9F"/><circle cx="1276.0" cy="637.5" r="1.0" fill="#93D1C2"/><circle cx="196.5" cy="642.0" r="1.0" fill="#93D1C2"/><circle cx="187.0" cy="643.5" r="1.0" fill="#93D1C2"/><circle cx="233.5" cy="390.0" r="1.0" fill="#E496B6"/><circle cx="211.0" cy="396.0" r="1.0" fill="#93D1C2"/><circle cx="1501.5" cy="399.5" r="1.0" fill="#949C9F"/><circle cx="193.0" cy="411.0" r="1.0" fill="#93D1C2"/><circle cx="170.5" cy="534.0" r="1.0" fill="#949C9F"/><circle cx="167.0" cy="543.0" r="1.0" fill="#93D1C2"/><circle cx="176.5" cy="544.0" r="1.0" fill="#E496B6"/><circle cx="778.0" cy="552.5" r="1.0" fill="#93D1C2"/><circle cx="174.5" cy="554.5" r="1.0" fill="#93D1C2"/><circle cx="793.5" cy="564.0" r="1.0" fill="#93D1C2"/><circle cx="776.0" cy="569.5" r="1.0" fill="#E496B6"/><circle cx="785.0" cy="569.5" r="1.0" fill="#93D1C2"/><circle cx="146.0" cy="573.0" r="1.0" fill="#93D1C2"/><circle cx="155.5" cy="573.0" r="1.0" fill="#93D1C2"/><circle cx="188.5" cy="471.5" r="1.0" fill="#037C8E"/><circle cx="181.0" cy="472.0" r="1.0" fill="#949C9F"/><circle cx="1285.0" cy="487.0" r="1.0" fill="#93D1C2"/><circle cx="761.0" cy="497.0" r="1.0" fill="#949C9F"/><circle cx="170.0" cy="499.0" r="1.0" fill="#949C9F"/><circle cx="163.0" cy="508.0" r="1.0" fill="#E496B6"/><circle cx="784.0" cy="509.5" r="1.0" fill="#E496B6"/><circle cx="750.0" cy="437.0" r="1.0" fill="#93D1C2"/><circle cx="188.0" cy="440.0" r="1.0" fill="#93D1C2"/><circle cx="756.0" cy="440.0" r="1.0" fill="#949C9F"/><circle cx="185.5" cy="441.5" r="1.0" fill="#949C9F"/><circle cx="185.0" cy="446.0" r="1.0" fill="#949C9F"/><circle cx="773.5" cy="446.0" r="1.0" fill="#949C9F"/><circle cx="196.0" cy="458.5" r="1.0" fill="#949C9F"/><circle cx="180.0" cy="467.0" r="1.0" fill="#93D1C2"/><circle cx="789.0" cy="468.0" r="1.0" fill="#93D1C2"/><circle cx="781.5" cy="469.5" r="1.0" fill="#949C9F"/><circle cx="396.0" cy="230.0" r="1.0" fill="#93D1C2"/><circle cx="516.5" cy="230.0" r="1.0" fill="#949C9F"/><circle cx="605.5" cy="232.5" r="1.0" fill="#02D9D7"/><circle cx="441.5" cy="233.5" r="1.0" fill="#949C9F"/><circle cx="466.0" cy="236.0" r="1.0" fill="#93D1C2"/><circle cx="562.5" cy="236.5" r="1.0" fill="#E496B6"/><circle cx="381.0" cy="243.0" r="1.0" fill="#93D1C2"/><circle cx="431.0" cy="247.0" r="1.0" fill="#949C9F"/><circle cx="428.0" cy="247.5" r="1.0" fill="#949C9F"/><circle cx="464.0" cy="829.0" r="1.0" fill="#949C9F"/><circle cx="516.0" cy="835.0" r="1.0" fill="#E496B6"/><circle cx="390.0" cy="835.5" r="1.0" fill="#E496B6"/><circle cx="471.0" cy="840.5" r="1.0" fill="#949C9F"/><circle cx="507.5" cy="840.5" r="1.0" fill="#93D1C2"/><circle cx="421.0" cy="843.5" r="1.0" fill="#949C9F"/><circle cx="564.5" cy="843.5" r="1.0" fill="#E496B6"/><circle cx="477.5" cy="844.5" r="1.0" fill="#93D1C2"/><circle cx="470.0" cy="849.5" r="1.0" fill="#949C9F"/><circle cx="558.5" cy="851.5" r="1.0" fill="#93D1C2"/><circle cx="546.5" cy="848.5" r="0.9" fill="#93D1C2"/><circle cx="467.0" cy="852.0" r="0.9" fill="#93D1C2"/><circle cx="462.5" cy="844.0" r="0.9" fill="#037C8E"/><circle cx="563.5" cy="847.0" r="0.9" fill="#93D1C2"/><circle cx="597.5" cy="839.0" r="0.9" fill="#93D1C2"/><circle cx="397.5" cy="829.5" r="0.9" fill="#E496B6"/><circle cx="360.5" cy="832.5" r="0.9" fill="#949C9F"/><circle cx="366.5" cy="833.0" r="0.9" fill="#E496B6"/><circle cx="513.5" cy="833.5" r="0.9" fill="#E496B6"/><circle cx="436.5" cy="244.0" r="0.9" fill="#93D1C2"/><circle cx="562.0" cy="245.5" r="0.9" fill="#949C9F"/><circle cx="440.5" cy="248.0" r="0.9" fill="#949C9F"/><circle cx="564.5" cy="239.0" r="0.9" fill="#949C9F"/><circle cx="553.5" cy="233.5" r="0.9" fill="#93D1C2"/><circle cx="581.5" cy="235.5" r="0.9" fill="#949C9F"/><circle cx="440.5" cy="854.0" r="0.9" fill="#949C9F"/><circle cx="547.5" cy="230.0" r="0.9" fill="#93D1C2"/><circle cx="388.0" cy="232.0" r="0.9" fill="#02D9D7"/><circle cx="184.0" cy="458.0" r="0.9" fill="#93D1C2"/><circle cx="765.0" cy="441.0" r="0.9" fill="#949C9F"/><circle cx="194.0" cy="445.5" r="0.9" fill="#02D9D7"/><circle cx="205.5" cy="437.0" r="0.9" fill="#E496B6"/><circle cx="190.5" cy="440.0" r="0.9" fill="#93D1C2"/><circle cx="176.5" cy="505.0" r="0.9" fill="#949C9F"/><circle cx="197.0" cy="481.5" r="0.9" fill="#E496B6"/><circle cx="175.0" cy="482.0" r="0.9" fill="#93D1C2"/><circle cx="755.0" cy="490.0" r="0.9" fill="#949C9F"/><circle cx="1596.0" cy="475.0" r="0.9" fill="#949C9F"/><circle cx="1601.5" cy="476.0" r="0.9" fill="#93D1C2"/><circle cx="750.0" cy="476.5" r="0.9" fill="#E496B6"/><circle cx="183.5" cy="479.5" r="0.9" fill="#949C9F"/><circle cx="798.0" cy="570.5" r="0.9" fill="#E496B6"/><circle cx="155.0" cy="575.5" r="0.9" fill="#93D1C2"/><circle cx="771.0" cy="551.0" r="0.9" fill="#037C8E"/><circle cx="766.0" cy="568.0" r="0.9" fill="#93D1C2"/><circle cx="774.5" cy="543.5" r="0.9" fill="#93D1C2"/><circle cx="176.0" cy="546.5" r="0.9" fill="#949C9F"/><circle cx="779.5" cy="547.5" r="0.9" fill="#037C8E"/><circle cx="1610.0" cy="516.0" r="0.9" fill="#949C9F"/><circle cx="781.5" cy="532.5" r="0.9" fill="#949C9F"/><circle cx="782.5" cy="539.0" r="0.9" fill="#949C9F"/><circle cx="739.5" cy="426.5" r="0.9" fill="#E496B6"/><circle cx="744.0" cy="428.5" r="0.9" fill="#949C9F"/><circle cx="206.5" cy="430.0" r="0.9" fill="#E496B6"/><circle cx="747.5" cy="435.5" r="0.9" fill="#93D1C2"/><circle cx="216.0" cy="402.0" r="0.9" fill="#E496B6"/><circle cx="1372.5" cy="402.0" r="0.9" fill="#949C9F"/><circle cx="205.0" cy="415.0" r="0.9" fill="#93D1C2"/><circle cx="733.0" cy="376.0" r="0.9" fill="#949C9F"/><circle cx="731.5" cy="369.5" r="0.9" fill="#949C9F"/><circle cx="233.0" cy="370.5" r="0.9" fill="#02D9D7"/><circle cx="756.5" cy="374.5" r="0.9" fill="#949C9F"/><circle cx="1277.5" cy="628.0" r="0.9" fill="#949C9F"/><circle cx="1272.5" cy="630.0" r="0.9" fill="#93D1C2"/><circle cx="1271.0" cy="621.5" r="0.9" fill="#949C9F"/><circle cx="187.5" cy="623.0" r="0.9" fill="#037C8E"/><circle cx="787.0" cy="626.5" r="0.9" fill="#93D1C2"/><circle cx="183.5" cy="611.0" r="0.9" fill="#02D9D7"/><circle cx="1622.0" cy="578.5" r="0.9" fill="#E496B6"/><circle cx="770.5" cy="588.0" r="0.9" fill="#E496B6"/><circle cx="781.5" cy="593.0" r="0.9" fill="#949C9F"/><circle cx="750.0" cy="362.0" r="0.9" fill="#93D1C2"/><circle cx="229.0" cy="366.0" r="0.9" fill="#949C9F"/><circle cx="211.5" cy="368.0" r="0.9" fill="#E496B6"/><circle cx="237.0" cy="355.0" r="0.9" fill="#949C9F"/><circle cx="748.5" cy="336.0" r="0.9" fill="#E496B6"/><circle cx="690.0" cy="336.5" r="0.9" fill="#949C9F"/><circle cx="692.0" cy="338.5" r="0.9" fill="#949C9F"/><circle cx="685.5" cy="331.0" r="0.9" fill="#93D1C2"/><circle cx="244.0" cy="332.0" r="0.9" fill="#02D9D7"/><circle cx="228.5" cy="333.5" r="0.9" fill="#949C9F"/><circle cx="762.0" cy="698.0" r="0.9" fill="#949C9F"/><circle cx="210.5" cy="687.0" r="0.9" fill="#E496B6"/><circle cx="771.0" cy="665.0" r="0.9" fill="#02D9D7"/><circle cx="746.5" cy="668.0" r="0.9" fill="#037C8E"/><circle cx="801.5" cy="658.0" r="0.9" fill="#037C8E"/><circle cx="767.5" cy="662.0" r="0.9" fill="#02D9D7"/><circle cx="193.0" cy="663.0" r="0.9" fill="#949C9F"/><circle cx="806.0" cy="664.0" r="0.9" fill="#E496B6"/><circle cx="202.0" cy="665.0" r="0.9" fill="#949C9F"/><circle cx="695.0" cy="730.5" r="0.9" fill="#93D1C2"/><circle cx="247.0" cy="732.5" r="0.9" fill="#93D1C2"/><circle cx="251.5" cy="736.0" r="0.9" fill="#93D1C2"/><circle cx="184.0" cy="738.5" r="0.9" fill="#037C8E"/><circle cx="216.5" cy="743.5" r="0.9" fill="#E496B6"/><circle cx="213.5" cy="751.0" r="0.9" fill="#93D1C2"/><circle cx="1369.5" cy="728.5" r="0.9" fill="#949C9F"/><circle cx="702.0" cy="729.5" r="0.9" fill="#949C9F"/><circle cx="207.5" cy="730.5" r="0.9" fill="#949C9F"/><circle cx="1339.0" cy="708.0" r="0.9" fill="#037C8E"/><circle cx="254.5" cy="716.0" r="0.9" fill="#037C8E"/><circle cx="166.5" cy="718.0" r="0.9" fill="#93D1C2"/><circle cx="726.5" cy="701.0" r="0.9" fill="#949C9F"/><circle cx="725.0" cy="703.0" r="0.9" fill="#93D1C2"/><circle cx="734.0" cy="703.5" r="0.9" fill="#949C9F"/><circle cx="681.5" cy="312.0" r="0.9" fill="#E496B6"/><circle cx="273.0" cy="313.0" r="0.9" fill="#949C9F"/><circle cx="280.0" cy="314.5" r="0.9" fill="#949C9F"/><circle cx="283.5" cy="320.5" r="0.9" fill="#E496B6"/><circle cx="682.0" cy="298.0" r="0.9" fill="#037C8E"/><circle cx="684.5" cy="299.5" r="0.9" fill="#93D1C2"/><circle cx="702.0" cy="284.5" r="0.9" fill="#037C8E"/><circle cx="682.0" cy="290.5" r="0.9" fill="#949C9F"/><circle cx="650.0" cy="292.0" r="0.9" fill="#037C8E"/><circle cx="293.5" cy="277.0" r="0.9" fill="#93D1C2"/><circle cx="621.5" cy="783.0" r="0.9" fill="#949C9F"/><circle cx="626.0" cy="790.5" r="0.9" fill="#E496B6"/><circle cx="686.5" cy="793.5" r="0.9" fill="#93D1C2"/><circle cx="654.0" cy="799.5" r="0.9" fill="#93D1C2"/><circle cx="632.5" cy="778.5" r="0.9" fill="#949C9F"/><circle cx="648.5" cy="779.0" r="0.9" fill="#93D1C2"/><circle cx="686.5" cy="779.5" r="0.9" fill="#93D1C2"/><circle cx="290.0" cy="773.0" r="0.9" fill="#93D1C2"/><circle cx="681.0" cy="775.0" r="0.9" fill="#949C9F"/><circle cx="694.5" cy="759.5" r="0.9" fill="#949C9F"/><circle cx="260.0" cy="763.5" r="0.9" fill="#E496B6"/><circle cx="690.5" cy="767.0" r="0.9" fill="#949C9F"/><circle cx="473.0" cy="821.0" r="0.9" fill="#02D9D7"/><circle cx="291.5" cy="821.5" r="0.9" fill="#949C9F"/><circle cx="369.0" cy="823.0" r="0.9" fill="#93D1C2"/><circle cx="552.0" cy="825.0" r="0.9" fill="#02D9D7"/><circle cx="466.0" cy="827.5" r="0.9" fill="#949C9F"/><circle cx="588.0" cy="819.0" r="0.9" fill="#93D1C2"/><circle cx="383.0" cy="819.5" r="0.9" fill="#949C9F"/><circle cx="355.0" cy="820.0" r="0.9" fill="#E496B6"/><circle cx="365.0" cy="820.5" r="0.9" fill="#949C9F"/><circle cx="605.0" cy="811.0" r="0.9" fill="#949C9F"/><circle cx="603.5" cy="815.5" r="0.9" fill="#E496B6"/><circle cx="603.5" cy="818.0" r="0.9" fill="#93D1C2"/><circle cx="604.5" cy="801.5" r="0.9" fill="#949C9F"/><circle cx="323.0" cy="275.0" r="0.9" fill="#93D1C2"/><circle cx="291.0" cy="275.5" r="0.9" fill="#E496B6"/><circle cx="361.5" cy="264.5" r="0.9" fill="#93D1C2"/><circle cx="420.0" cy="268.0" r="0.9" fill="#949C9F"/><circle cx="616.5" cy="256.5" r="0.9" fill="#93D1C2"/><circle cx="374.5" cy="261.5" r="0.9" fill="#949C9F"/><circle cx="566.0" cy="248.5" r="0.9" fill="#949C9F"/><circle cx="521.0" cy="249.5" r="0.9" fill="#93D1C2"/><circle cx="370.0" cy="254.0" r="0.9" fill="#037C8E"/><circle cx="525.5" cy="254.0" r="0.9" fill="#037C8E"/><circle cx="544.5" cy="254.5" r="0.9" fill="#93D1C2"/><circle cx="460.0" cy="856.0" r="0.9" fill="#93D1C2"/><circle cx="393.5" cy="229.0" r="0.9" fill="#949C9F"/><circle cx="579.5" cy="226.5" r="0.9" fill="#949C9F"/><circle cx="541.0" cy="223.0" r="0.9" fill="#949C9F"/><circle cx="423.5" cy="844.5" r="0.9" fill="#E496B6"/><circle cx="1361.0" cy="399.5" r="0.8" fill="#02D9D7"/><circle cx="1374.0" cy="399.5" r="0.8" fill="#93D1C2"/><circle cx="1367.0" cy="401.5" r="0.8" fill="#93D1C2"/><circle cx="1553.0" cy="711.5" r="0.8" fill="#949C9F"/><circle cx="1277.5" cy="646.0" r="0.8" fill="#949C9F"/><circle cx="1299.5" cy="674.5" r="0.8" fill="#93D1C2"/><circle cx="1624.0" cy="569.5" r="0.8" fill="#93D1C2"/><circle cx="1254.0" cy="585.5" r="0.8" fill="#037C8E"/><circle cx="1255.0" cy="590.0" r="0.8" fill="#93D1C2"/><circle cx="1259.0" cy="590.0" r="0.8" fill="#93D1C2"/><circle cx="1260.5" cy="594.5" r="0.8" fill="#93D1C2"/><circle cx="1257.0" cy="596.0" r="0.8" fill="#93D1C2"/><circle cx="1260.0" cy="603.5" r="0.8" fill="#93D1C2"/><circle cx="1616.0" cy="524.5" r="0.8" fill="#93D1C2"/><circle cx="1620.5" cy="528.5" r="0.8" fill="#02D9D7"/><circle cx="1617.0" cy="529.0" r="0.8" fill="#93D1C2"/><circle cx="1620.0" cy="540.0" r="0.8" fill="#949C9F"/><circle cx="1625.0" cy="548.0" r="0.8" fill="#93D1C2"/><circle cx="1622.0" cy="549.0" r="0.8" fill="#93D1C2"/><circle cx="1626.5" cy="560.5" r="0.8" fill="#93D1C2"/><circle cx="1623.0" cy="561.0" r="0.8" fill="#02D9D7"/><circle cx="1328.0" cy="423.5" r="0.8" fill="#93D1C2"/><circle cx="1330.5" cy="426.0" r="0.8" fill="#949C9F"/><circle cx="1316.5" cy="434.0" r="0.8" fill="#037C8E"/><circle cx="1560.0" cy="435.5" r="0.8" fill="#93D1C2"/><circle cx="1319.0" cy="436.5" r="0.8" fill="#949C9F"/><circle cx="1612.5" cy="499.5" r="0.8" fill="#E496B6"/><circle cx="1272.5" cy="500.0" r="0.8" fill="#93D1C2"/><circle cx="1609.0" cy="501.0" r="0.8" fill="#93D1C2"/><circle cx="1270.5" cy="504.0" r="0.8" fill="#93D1C2"/><circle cx="1615.5" cy="507.5" r="0.8" fill="#93D1C2"/><circle cx="1612.0" cy="509.0" r="0.8" fill="#93D1C2"/><circle cx="1613.0" cy="513.0" r="0.8" fill="#949C9F"/><circle cx="1606.0" cy="493.5" r="0.8" fill="#E496B6"/><circle cx="1567.0" cy="442.5" r="0.8" fill="#E496B6"/><circle cx="1302.5" cy="456.0" r="0.8" fill="#02D9D7"/><circle cx="1589.0" cy="460.0" r="0.8" fill="#02D9D7"/><circle cx="1410.0" cy="388.0" r="0.8" fill="#93D1C2"/><circle cx="1377.5" cy="394.0" r="0.8" fill="#949C9F"/><circle cx="1394.0" cy="735.0" r="0.8" fill="#949C9F"/><circle cx="1399.0" cy="736.0" r="0.8" fill="#949C9F"/><circle cx="1405.0" cy="737.0" r="0.8" fill="#93D1C2"/><circle cx="1393.5" cy="738.5" r="0.8" fill="#949C9F"/><circle cx="1415.5" cy="741.0" r="0.8" fill="#949C9F"/><circle cx="1414.5" cy="743.5" r="0.8" fill="#E496B6"/><circle cx="1432.0" cy="748.5" r="0.6" fill="#02D9D7"/><circle cx="1481.5" cy="752.5" r="0.6" fill="#E496B6"/><circle cx="1483.5" cy="752.5" r="0.6" fill="#02D9D7"/><circle cx="1423.5" cy="745.5" r="0.6" fill="#93D1C2"/><circle cx="1432.5" cy="746.5" r="0.6" fill="#93D1C2"/><circle cx="1404.0" cy="741.0" r="0.6" fill="#02D9D7"/><circle cx="1409.0" cy="741.0" r="0.6" fill="#949C9F"/><circle cx="1420.0" cy="741.5" r="0.6" fill="#E496B6"/><circle cx="1363.5" cy="397.5" r="0.6" fill="#037C8E"/><circle cx="1365.5" cy="397.5" r="0.6" fill="#93D1C2"/><circle cx="1378.5" cy="397.5" r="0.6" fill="#949C9F"/><circle cx="1377.0" cy="399.0" r="0.6" fill="#93D1C2"/><circle cx="1370.5" cy="395.5" r="0.6" fill="#93D1C2"/><circle cx="1372.5" cy="395.5" r="0.6" fill="#E496B6"/><circle cx="1472.5" cy="396.0" r="0.6" fill="#037C8E"/><circle cx="1474.5" cy="396.0" r="0.6" fill="#949C9F"/><circle cx="1367.5" cy="396.5" r="0.6" fill="#93D1C2"/><circle cx="1418.0" cy="392.0" r="0.6" fill="#93D1C2"/><circle cx="1420.5" cy="392.0" r="0.6" fill="#949C9F"/><circle cx="1482.5" cy="393.5" r="0.6" fill="#93D1C2"/><circle cx="1425.5" cy="388.0" r="0.6" fill="#949C9F"/><circle cx="1463.5" cy="390.5" r="0.6" fill="#E496B6"/><circle cx="1415.5" cy="392.0" r="0.6" fill="#02D9D7"/><circle cx="1296.5" cy="456.5" r="0.6" fill="#949C9F"/><circle cx="1295.5" cy="458.5" r="0.6" fill="#949C9F"/><circle cx="1300.0" cy="460.0" r="0.6" fill="#949C9F"/><circle cx="1293.5" cy="461.5" r="0.6" fill="#949C9F"/><circle cx="1573.5" cy="450.0" r="0.6" fill="#93D1C2"/><circle cx="1301.5" cy="451.0" r="0.6" fill="#949C9F"/><circle cx="1581.5" cy="451.5" r="0.6" fill="#93D1C2"/><circle cx="1575.5" cy="452.0" r="0.6" fill="#93D1C2"/><circle cx="1577.5" cy="452.0" r="0.6" fill="#E496B6"/><circle cx="1584.0" cy="454.0" r="0.6" fill="#949C9F"/><circle cx="1574.0" cy="444.0" r="0.6" fill="#E496B6"/><circle cx="1568.5" cy="445.0" r="0.6" fill="#93D1C2"/><circle cx="1570.5" cy="447.0" r="0.6" fill="#037C8E"/><circle cx="1566.5" cy="436.5" r="0.6" fill="#E496B6"/><circle cx="1562.5" cy="439.0" r="0.6" fill="#93D1C2"/><circle cx="1308.5" cy="441.5" r="0.6" fill="#037C8E"/><circle cx="1280.0" cy="489.0" r="0.6" fill="#93D1C2"/><circle cx="1272.5" cy="491.5" r="0.6" fill="#93D1C2"/><circle cx="1278.0" cy="492.0" r="0.6" fill="#93D1C2"/><circle cx="1270.5" cy="494.5" r="0.6" fill="#93D1C2"/><circle cx="1276.0" cy="495.0" r="0.6" fill="#93D1C2"/><circle cx="1269.5" cy="498.0" r="0.6" fill="#93D1C2"/><circle cx="1599.0" cy="474.0" r="0.6" fill="#93D1C2"/><circle cx="1280.5" cy="479.5" r="0.6" fill="#949C9F"/><circle cx="1286.0" cy="480.0" r="0.6" fill="#E496B6"/><circle cx="1278.5" cy="482.5" r="0.6" fill="#93D1C2"/><circle cx="1284.0" cy="483.0" r="0.6" fill="#949C9F"/><circle cx="1276.5" cy="485.5" r="0.6" fill="#037C8E"/><circle cx="1282.0" cy="486.0" r="0.6" fill="#93D1C2"/><circle cx="1274.5" cy="488.5" r="0.6" fill="#93D1C2"/><circle cx="1294.0" cy="468.0" r="0.6" fill="#93D1C2"/><circle cx="1287.5" cy="469.5" r="0.6" fill="#037C8E"/><circle cx="1284.5" cy="473.5" r="0.6" fill="#949C9F"/><circle cx="1299.0" cy="462.0" r="0.6" fill="#93D1C2"/><circle cx="1296.0" cy="464.0" r="0.6" fill="#93D1C2"/><circle cx="1296.0" cy="466.0" r="0.6" fill="#93D1C2"/><circle cx="1267.0" cy="510.5" r="0.6" fill="#E496B6"/><circle cx="1258.5" cy="515.5" r="0.6" fill="#93D1C2"/><circle cx="1254.5" cy="524.5" r="0.6" fill="#E496B6"/><circle cx="1269.0" cy="507.5" r="0.6" fill="#E496B6"/><circle cx="1268.0" cy="509.0" r="0.6" fill="#037C8E"/><circle cx="1261.5" cy="510.5" r="0.6" fill="#949C9F"/><circle cx="1266.5" cy="502.5" r="0.6" fill="#93D1C2"/><circle cx="1614.0" cy="503.5" r="0.6" fill="#037C8E"/><circle cx="1610.5" cy="505.0" r="0.6" fill="#949C9F"/><circle cx="1264.5" cy="505.5" r="0.6" fill="#949C9F"/><circle cx="1270.0" cy="506.0" r="0.6" fill="#949C9F"/><circle cx="1610.5" cy="507.0" r="0.6" fill="#02D9D7"/><circle cx="1607.5" cy="499.0" r="0.6" fill="#93D1C2"/><circle cx="1272.0" cy="502.0" r="0.6" fill="#93D1C2"/><circle cx="1319.5" cy="430.5" r="0.6" fill="#93D1C2"/><circle cx="1325.0" cy="432.0" r="0.6" fill="#949C9F"/><circle cx="1323.0" cy="434.0" r="0.6" fill="#949C9F"/><circle cx="1334.0" cy="424.0" r="0.6" fill="#93D1C2"/><circle cx="1323.5" cy="426.5" r="0.6" fill="#93D1C2"/><circle cx="1321.5" cy="428.5" r="0.6" fill="#949C9F"/><circle cx="1327.0" cy="430.0" r="0.6" fill="#037C8E"/><circle cx="1334.5" cy="417.5" r="0.6" fill="#93D1C2"/><circle cx="1340.0" cy="418.0" r="0.6" fill="#93D1C2"/><circle cx="1342.0" cy="418.0" r="0.6" fill="#93D1C2"/><circle cx="1330.5" cy="420.5" r="0.6" fill="#93D1C2"/><circle cx="1338.0" cy="421.0" r="0.6" fill="#93D1C2"/><circle cx="1338.5" cy="414.5" r="0.6" fill="#93D1C2"/><circle cx="1344.0" cy="415.0" r="0.6" fill="#02D9D7"/><circle cx="1346.0" cy="415.0" r="0.6" fill="#93D1C2"/><circle cx="1626.0" cy="553.0" r="0.6" fill="#93D1C2"/><circle cx="1622.5" cy="564.0" r="0.6" fill="#93D1C2"/><circle cx="1627.5" cy="564.0" r="0.6" fill="#93D1C2"/><circle cx="1617.5" cy="533.0" r="0.6" fill="#949C9F"/><circle cx="1625.0" cy="544.0" r="0.6" fill="#037C8E"/><circle cx="1620.5" cy="545.0" r="0.6" fill="#949C9F"/><circle cx="1620.5" cy="547.0" r="0.6" fill="#949C9F"/><circle cx="1263.5" cy="601.5" r="0.6" fill="#949C9F"/><circle cx="1279.5" cy="644.5" r="0.6" fill="#949C9F"/><circle cx="1262.0" cy="596.5" r="0.6" fill="#E496B6"/><circle cx="1263.0" cy="599.5" r="0.6" fill="#949C9F"/><circle cx="1627.5" cy="582.0" r="0.6" fill="#93D1C2"/><circle cx="1258.0" cy="585.5" r="0.6" fill="#037C8E"/><circle cx="1628.0" cy="573.0" r="0.6" fill="#02D9D7"/><circle cx="1623.5" cy="574.0" r="0.6" fill="#93D1C2"/><circle cx="1623.5" cy="576.0" r="0.6" fill="#02D9D7"/><circle cx="1257.0" cy="581.0" r="0.6" fill="#949C9F"/><circle cx="1291.5" cy="670.0" r="0.6" fill="#949C9F"/><circle cx="1299.0" cy="672.5" r="0.6" fill="#949C9F"/><circle cx="1293.5" cy="673.0" r="0.6" fill="#93D1C2"/><circle cx="1295.5" cy="676.0" r="0.6" fill="#E496B6"/><circle cx="1286.0" cy="660.5" r="0.6" fill="#E496B6"/><circle cx="1291.0" cy="660.5" r="0.6" fill="#93D1C2"/><circle cx="1293.0" cy="663.5" r="0.6" fill="#949C9F"/><circle cx="1287.5" cy="664.0" r="0.6" fill="#949C9F"/><circle cx="1295.0" cy="666.5" r="0.6" fill="#E496B6"/><circle cx="1289.5" cy="667.0" r="0.6" fill="#93D1C2"/><circle cx="1297.0" cy="669.5" r="0.6" fill="#93D1C2"/><circle cx="1280.5" cy="654.0" r="0.6" fill="#E496B6"/><circle cx="1288.0" cy="656.5" r="0.6" fill="#949C9F"/><circle cx="1282.5" cy="657.0" r="0.6" fill="#949C9F"/><circle cx="1288.0" cy="658.5" r="0.6" fill="#93D1C2"/><circle cx="1282.5" cy="648.5" r="0.6" fill="#949C9F"/><circle cx="1278.5" cy="650.0" r="0.6" fill="#93D1C2"/><circle cx="1286.0" cy="653.5" r="0.6" fill="#E496B6"/><circle cx="1366.5" cy="733.5" r="0.6" fill="#949C9F"/><circle cx="1386.5" cy="733.5" r="0.6" fill="#949C9F"/><circle cx="1389.0" cy="733.5" r="0.6" fill="#037C8E"/><circle cx="1375.5" cy="734.5" r="0.6" fill="#949C9F"/><circle cx="1360.0" cy="731.5" r="0.6" fill="#949C9F"/><circle cx="1298.0" cy="681.0" r="0.6" fill="#93D1C2"/><circle cx="1561.5" cy="704.5" r="0.6" fill="#037C8E"/><circle cx="1560.0" cy="705.5" r="0.6" fill="#949C9F"/><circle cx="1366.5" cy="730.5" r="0.6" fill="#93D1C2"/><circle cx="1302.0" cy="678.5" r="0.6" fill="#93D1C2"/><circle cx="1342.5" cy="411.5" r="0.6" fill="#949C9F"/><circle cx="1348.0" cy="412.0" r="0.6" fill="#93D1C2"/><circle cx="1350.0" cy="412.0" r="0.6" fill="#02D9D7"/><circle cx="1527.0" cy="407.0" r="0.6" fill="#037C8E"/><circle cx="1346.5" cy="408.5" r="0.6" fill="#93D1C2"/><circle cx="1353.0" cy="410.0" r="0.6" fill="#949C9F"/><circle cx="1363.5" cy="403.0" r="0.6" fill="#93D1C2"/><circle cx="1361.0" cy="405.0" r="0.6" fill="#949C9F"/><circle cx="1349.5" cy="406.5" r="0.6" fill="#E496B6"/><circle cx="1358.0" cy="407.0" r="0.6" fill="#949C9F"/><circle cx="1522.0" cy="407.0" r="0.6" fill="#949C9F"/><circle cx="1357.5" cy="401.5" r="0.6" fill="#93D1C2"/></g>
<g id="wm" fill="#fff" fill-opacity="0.25">
<path d="M933.2 318.2 A212.3 212.3 0 0 0 933.2 742.8 L933.2 643.7 A113.2 113.2 0 0 1 933.2 417.3 Z"/>
<path d="M933.2 417.3 A113.2 113.2 0 0 1 933.2 643.7 Z"/>
<circle cx="1047" cy="367.6" r="49.4"/>
<circle cx="1046.6" cy="693.4" r="49.4"/>
</g>
<rect x="12" y="981" width="1896" height="1" fill="#C79AA6"/>
<g id="logo"><defs><clipPath id="lc1"><rect x="0" y="990" width="400" height="53.7"/></clipPath><clipPath id="lc2"><rect x="0" y="990" width="400" height="63.9"/></clipPath></defs>
<g fill="#FF4F8A">
<path d="M13.10 1047.70 L26.99 1005.60 L32.58 1005.60 L45.53 1047.70 M18.38 1031.70 L40.61 1031.70" fill="none" stroke="#FF4F8A" stroke-width="4.40" stroke-linejoin="miter" stroke-miterlimit="10" clip-path="url(#lc1)"/>
<rect x="50.6" y="1003.4" width="4.4" height="40.3"/><rect x="50.6" y="1039.3" width="20.4" height="4.4"/>
<path d="M74.5 1003.4 H100.7 V1017.1 L97.1 1024.7 H79 V1043.7 H74.5 Z M79 1007.8 V1020.2 H96.2 V1007.8 Z" fill-rule="evenodd"/>
<rect x="104.2" y="1003.4" width="4.4" height="40.3"/><rect x="133.9" y="1003.4" width="4.4" height="40.3"/><rect x="104.2" y="1020.7" width="34" height="4.4"/>
<path d="M142.76 1047.70 L157.17 1005.60 L161.89 1005.60 L175.26 1047.70 M148.23 1031.70 L170.18 1031.70" fill="none" stroke="#FF4F8A" stroke-width="4.40" stroke-linejoin="miter" stroke-miterlimit="10" clip-path="url(#lc1)"/>
</g>
<g fill="#FFFFFF">
<path d="M167.04 1057.90 L180.69 1015.70 L185.30 1015.70 L198.85 1057.90 M172.41 1041.30 L193.52 1041.30" fill="none" stroke="#FFFFFF" stroke-width="5.20" stroke-linejoin="miter" stroke-miterlimit="10" clip-path="url(#lc2)"/>
<rect x="203.1" y="1013.1" width="5.2" height="40.8"/><rect x="203.1" y="1048.7" width="25.8" height="5.2"/>
<path d="M227.23 1057.90 L238.40 1015.70 L242.53 1015.70 L256.59 1057.90 M231.62 1041.30 L251.06 1041.30" fill="none" stroke="#FFFFFF" stroke-width="5.20" stroke-linejoin="miter" stroke-miterlimit="10" clip-path="url(#lc2)"/>
<rect x="261.3" y="1013.1" width="5.1" height="40.8"/><rect x="261.3" y="1013.1" width="27.1" height="5.2"/><rect x="283.3" y="1013.1" width="5.1" height="24.4"/><rect x="261.3" y="1032.3" width="27.1" height="5.2"/>
<path d="M276.2 1037.5 L281.9 1037.5 L290.8 1053.9 L285.4 1053.9 Z"/>
<rect x="294.1" y="1013.1" width="5.1" height="40.8"/><rect x="329.2" y="1013.1" width="5.2" height="40.8"/>
<path d="M294.1 1013.1 L300.2 1013.1 L314.2 1040.2 L328.3 1013.1 L334.4 1013.1 L317.1 1048.6 L311.3 1048.6 Z"/>
</g>
<text x="203.6" y="1007.2" font-size="5.6" font-weight="bold" fill="#9C9C9C" textLength="130.8" lengthAdjust="spacing">POWERED BY COVALENT</text></g>
<g id="icons" fill="#FA5089">
<g transform="translate(835.5,1017.5) scale(1.19)"><path d="M23.953 4.57a10 10 0 01-2.825.775 4.958 4.958 0 002.163-2.723c-.951.555-2.005.959-3.127 1.184a4.92 4.92 0 00-8.384 4.482C7.69 8.095 4.067 6.13 1.64 3.162a4.822 4.822 0 00-.666 2.475c0 1.71.87 3.213 2.188 4.096a4.904 4.904 0 01-2.228-.616v.06a4.923 4.923 0 003.946 4.827 4.996 4.996 0 01-2.212.085 4.936 4.936 0 004.604 3.417 9.867 9.867 0 01-6.102 2.105c-.39 0-.779-.023-1.17-.067a13.995 13.995 0 007.557 2.209c9.053 0 13.998-7.496 13.998-13.985 0-.21 0-.42-.015-.63A9.935 9.935 0 0024 4.59z"/></g>
<path d="M1128 1030.2 L1152.6 1019.8 L1138 1032.6 L1133.5 1032.6 Z"/>
<path d="M1152.6 1019.8 L1148 1041 L1141.5 1037.3 L1137 1039.8 L1137 1034.6 Z"/>
<path fill-rule="evenodd" d="M1390.5 1022.2 Q1394 1020.6 1396.5 1021.2 L1397.3 1022.6 Q1399.8 1022.2 1402.3 1022.6 L1403.1 1021.2 Q1405.8 1020.6 1409.2 1022.2 Q1413 1029 1412.5 1037.2 Q1410 1039.3 1406.8 1039.8 L1405.3 1037.6 Q1399.8 1039.2 1394.3 1037.6 L1392.8 1039.8 Q1389.6 1039.3 1387 1037.2 Q1386.6 1029 1390.5 1022.2 Z M1395.2 1029.2 a2.2 2.4 0 1 0 0.01 0 Z M1403.6 1029.2 a2.2 2.4 0 1 0 0.01 0 Z"/>
<g fill="none" stroke="#FA5089" stroke-width="1.6">
<circle cx="1722.6" cy="1030.4" r="12"/>
<ellipse cx="1722.6" cy="1030.4" rx="4.8" ry="12"/>
<line x1="1710.6" y1="1030.4" x2="1734.6" y2="1030.4"/>
</g>
</g>
<g id="foot" font-size="23.8" fill="#ECE8E8">
<text x="871.9" y="1039.4" textLength="185.6" lengthAdjust="spacingAndGlyphs">@AlphaAlarm_HQ</text>
<text x="1163.2" y="1039.4" textLength="162.3" lengthAdjust="spacingAndGlyphs">AlphaAlarm_HQ</text>
<text x="1421.6" y="1039.4" textLength="237.5" lengthAdjust="spacingAndGlyphs">covalenthq.com/discord</text>
<text x="1744.1" y="1039.4" textLength="158.4" lengthAdjust="spacingAndGlyphs">covalenthq.com</text>
</g>
</svg>
</body></html>
